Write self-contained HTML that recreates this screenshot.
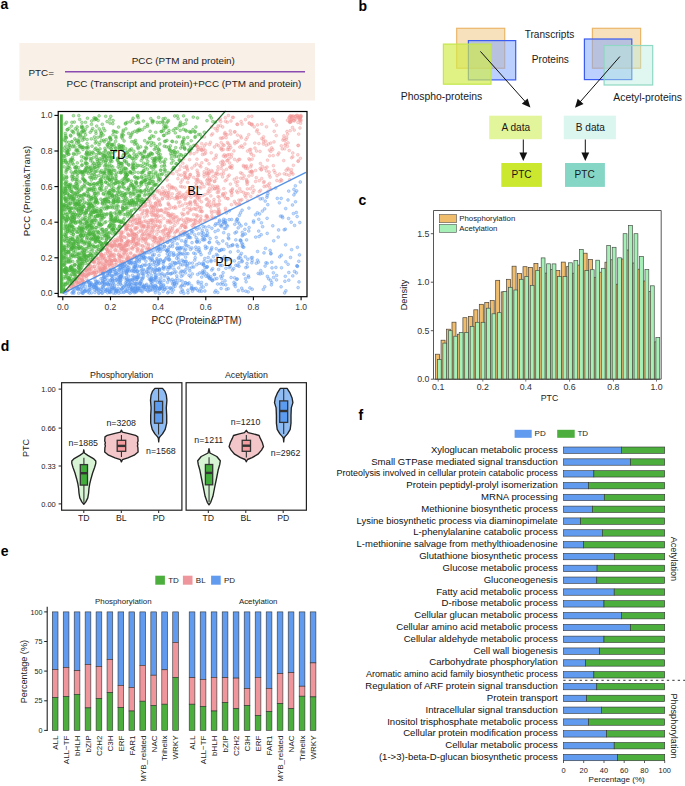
<!DOCTYPE html>
<html><head><meta charset="utf-8"><title>Figure</title><style>
html,body{margin:0;padding:0;background:#fff;width:685px;height:786px;overflow:hidden}
svg{display:block}
text{font-family:"Liberation Sans", sans-serif}
circle{r:1.4px}
</style></head><body>
<svg width="685" height="786" viewBox="0 0 685 786">
<rect width="685" height="786" fill="#fff"/>
<text x="0.5" y="9" font-size="14" text-anchor="start" fill="#000" font-weight="bold">a</text>
<text x="358.5" y="10.5" font-size="14" text-anchor="start" fill="#000" font-weight="bold">b</text>
<text x="358.5" y="204.5" font-size="14" text-anchor="start" fill="#000" font-weight="bold">c</text>
<text x="0.8" y="350.8" font-size="14" text-anchor="start" fill="#000" font-weight="bold">d</text>
<text x="0.8" y="555.5" font-size="14" text-anchor="start" fill="#000" font-weight="bold">e</text>
<text x="358.5" y="419.7" font-size="14" text-anchor="start" fill="#000" font-weight="bold">f</text>
<rect x="19.4" y="43" width="295.6" height="57.5" fill="#f9f0e8"/>
<text x="28.5" y="75.7" font-size="9.9" text-anchor="start" fill="#1a1a1a">PTC=</text>
<text x="183.3" y="63.9" font-size="9.9" text-anchor="middle" fill="#1a1a1a">PCC (PTM and protein)</text>
<line x1="65" y1="71.7" x2="305" y2="71.7" stroke="#8a4bb0" stroke-width="1.6"/>
<text x="184" y="87" font-size="9.9" text-anchor="middle" fill="#1a1a1a">PCC (Transcript and protein)+PCC (PTM and protein)</text>
<g fill="#f29a9a" fill-opacity="0.36" stroke="#f09090" stroke-opacity="0.6" stroke-width="0.6"><circle cx="88.2" cy="268.3" r="1.4"/><circle cx="204.2" cy="145.9" r="1.4"/><circle cx="143.2" cy="239.0" r="1.4"/><circle cx="200.8" cy="222.7" r="1.4"/><circle cx="172.7" cy="226.9" r="1.4"/><circle cx="120.4" cy="255.9" r="1.4"/><circle cx="128.1" cy="241.6" r="1.4"/><circle cx="108.4" cy="250.0" r="1.4"/><circle cx="214.4" cy="181.4" r="1.4"/><circle cx="155.2" cy="225.9" r="1.4"/><circle cx="173.3" cy="188.4" r="1.4"/><circle cx="131.3" cy="235.4" r="1.4"/><circle cx="231.0" cy="167.0" r="1.4"/><circle cx="149.3" cy="248.3" r="1.4"/><circle cx="230.1" cy="167.5" r="1.4"/><circle cx="217.1" cy="130.9" r="1.4"/><circle cx="86.4" cy="270.0" r="1.4"/><circle cx="117.0" cy="240.0" r="1.4"/><circle cx="149.2" cy="233.7" r="1.4"/><circle cx="185.1" cy="199.6" r="1.4"/><circle cx="232.1" cy="190.1" r="1.4"/><circle cx="109.7" cy="259.9" r="1.4"/><circle cx="100.0" cy="268.2" r="1.4"/><circle cx="145.7" cy="221.0" r="1.4"/><circle cx="100.9" cy="269.8" r="1.4"/><circle cx="234.4" cy="201.4" r="1.4"/><circle cx="86.1" cy="276.2" r="1.4"/><circle cx="221.5" cy="147.9" r="1.4"/><circle cx="126.6" cy="249.7" r="1.4"/><circle cx="184.1" cy="167.3" r="1.4"/><circle cx="286.4" cy="174.4" r="1.4"/><circle cx="160.4" cy="210.3" r="1.4"/><circle cx="109.4" cy="252.3" r="1.4"/><circle cx="98.7" cy="267.8" r="1.4"/><circle cx="217.3" cy="192.4" r="1.4"/><circle cx="229.9" cy="145.3" r="1.4"/><circle cx="234.8" cy="141.8" r="1.4"/><circle cx="298.4" cy="145.4" r="1.4"/><circle cx="128.4" cy="234.5" r="1.4"/><circle cx="103.9" cy="268.4" r="1.4"/><circle cx="189.9" cy="176.2" r="1.4"/><circle cx="218.9" cy="215.2" r="1.4"/><circle cx="141.1" cy="226.4" r="1.4"/><circle cx="206.9" cy="180.5" r="1.4"/><circle cx="104.1" cy="264.8" r="1.4"/><circle cx="194.7" cy="202.0" r="1.4"/><circle cx="255.6" cy="181.5" r="1.4"/><circle cx="293.0" cy="174.1" r="1.4"/><circle cx="216.8" cy="172.9" r="1.4"/><circle cx="169.8" cy="220.4" r="1.4"/><circle cx="89.5" cy="270.6" r="1.4"/><circle cx="111.1" cy="240.9" r="1.4"/><circle cx="222.5" cy="195.4" r="1.4"/><circle cx="261.7" cy="178.6" r="1.4"/><circle cx="274.2" cy="131.3" r="1.4"/><circle cx="136.0" cy="243.7" r="1.4"/><circle cx="158.5" cy="243.2" r="1.4"/><circle cx="252.1" cy="124.2" r="1.4"/><circle cx="229.6" cy="163.0" r="1.4"/><circle cx="147.7" cy="248.6" r="1.4"/><circle cx="76.3" cy="281.0" r="1.4"/><circle cx="298.0" cy="116.6" r="1.4"/><circle cx="124.0" cy="252.9" r="1.4"/><circle cx="116.3" cy="260.7" r="1.4"/><circle cx="191.2" cy="191.0" r="1.4"/><circle cx="249.8" cy="159.9" r="1.4"/><circle cx="119.5" cy="261.8" r="1.4"/><circle cx="101.7" cy="263.3" r="1.4"/><circle cx="126.9" cy="259.7" r="1.4"/><circle cx="90.4" cy="266.8" r="1.4"/><circle cx="136.8" cy="228.1" r="1.4"/><circle cx="97.9" cy="258.1" r="1.4"/><circle cx="90.2" cy="273.7" r="1.4"/><circle cx="71.1" cy="286.4" r="1.4"/><circle cx="120.9" cy="249.8" r="1.4"/><circle cx="99.4" cy="261.9" r="1.4"/><circle cx="276.9" cy="180.5" r="1.4"/><circle cx="197.1" cy="195.1" r="1.4"/><circle cx="186.0" cy="218.9" r="1.4"/><circle cx="189.4" cy="202.9" r="1.4"/><circle cx="223.0" cy="144.8" r="1.4"/><circle cx="173.9" cy="214.8" r="1.4"/><circle cx="260.6" cy="190.3" r="1.4"/><circle cx="218.2" cy="207.7" r="1.4"/><circle cx="270.1" cy="177.1" r="1.4"/><circle cx="263.8" cy="142.0" r="1.4"/><circle cx="133.7" cy="256.4" r="1.4"/><circle cx="78.8" cy="281.8" r="1.4"/><circle cx="188.6" cy="221.3" r="1.4"/><circle cx="201.6" cy="211.7" r="1.4"/><circle cx="195.0" cy="187.3" r="1.4"/><circle cx="147.3" cy="226.6" r="1.4"/><circle cx="223.3" cy="137.5" r="1.4"/><circle cx="267.0" cy="167.1" r="1.4"/><circle cx="193.6" cy="214.7" r="1.4"/><circle cx="168.9" cy="221.6" r="1.4"/><circle cx="153.4" cy="212.8" r="1.4"/><circle cx="153.9" cy="206.3" r="1.4"/><circle cx="86.8" cy="269.9" r="1.4"/><circle cx="263.3" cy="139.4" r="1.4"/><circle cx="176.0" cy="221.1" r="1.4"/><circle cx="210.5" cy="142.3" r="1.4"/><circle cx="268.5" cy="144.0" r="1.4"/><circle cx="171.3" cy="187.2" r="1.4"/><circle cx="185.0" cy="222.0" r="1.4"/><circle cx="159.3" cy="226.6" r="1.4"/><circle cx="266.3" cy="145.2" r="1.4"/><circle cx="157.1" cy="201.9" r="1.4"/><circle cx="257.3" cy="129.9" r="1.4"/><circle cx="160.8" cy="231.7" r="1.4"/><circle cx="156.8" cy="234.4" r="1.4"/><circle cx="94.3" cy="272.9" r="1.4"/><circle cx="299.6" cy="119.3" r="1.4"/><circle cx="146.5" cy="214.1" r="1.4"/><circle cx="227.5" cy="142.5" r="1.4"/><circle cx="159.3" cy="190.6" r="1.4"/><circle cx="169.7" cy="235.9" r="1.4"/><circle cx="172.0" cy="197.5" r="1.4"/><circle cx="149.7" cy="235.1" r="1.4"/><circle cx="289.8" cy="122.4" r="1.4"/><circle cx="226.1" cy="137.7" r="1.4"/><circle cx="103.0" cy="257.9" r="1.4"/><circle cx="151.5" cy="219.7" r="1.4"/><circle cx="158.2" cy="245.6" r="1.4"/><circle cx="247.7" cy="168.6" r="1.4"/><circle cx="102.7" cy="272.8" r="1.4"/><circle cx="94.2" cy="276.7" r="1.4"/><circle cx="167.8" cy="215.3" r="1.4"/><circle cx="209.2" cy="184.6" r="1.4"/><circle cx="154.7" cy="241.1" r="1.4"/><circle cx="244.9" cy="144.0" r="1.4"/><circle cx="181.8" cy="225.5" r="1.4"/><circle cx="257.9" cy="196.1" r="1.4"/><circle cx="241.8" cy="199.6" r="1.4"/><circle cx="116.4" cy="262.3" r="1.4"/><circle cx="160.6" cy="223.1" r="1.4"/><circle cx="89.2" cy="269.9" r="1.4"/><circle cx="162.5" cy="241.8" r="1.4"/><circle cx="245.6" cy="168.2" r="1.4"/><circle cx="155.3" cy="210.1" r="1.4"/><circle cx="299.7" cy="117.2" r="1.4"/><circle cx="104.2" cy="259.1" r="1.4"/><circle cx="145.3" cy="239.4" r="1.4"/><circle cx="109.3" cy="261.2" r="1.4"/><circle cx="209.4" cy="206.1" r="1.4"/><circle cx="112.6" cy="260.9" r="1.4"/><circle cx="112.5" cy="265.6" r="1.4"/><circle cx="225.8" cy="155.8" r="1.4"/><circle cx="82.5" cy="275.3" r="1.4"/><circle cx="155.2" cy="237.7" r="1.4"/><circle cx="159.6" cy="241.9" r="1.4"/><circle cx="94.8" cy="273.5" r="1.4"/><circle cx="86.4" cy="275.9" r="1.4"/><circle cx="148.2" cy="222.7" r="1.4"/><circle cx="206.3" cy="168.7" r="1.4"/><circle cx="215.0" cy="188.4" r="1.4"/><circle cx="193.6" cy="177.4" r="1.4"/><circle cx="281.0" cy="179.6" r="1.4"/><circle cx="179.9" cy="195.5" r="1.4"/><circle cx="223.3" cy="149.5" r="1.4"/><circle cx="87.0" cy="267.4" r="1.4"/><circle cx="92.4" cy="266.8" r="1.4"/><circle cx="101.9" cy="270.3" r="1.4"/><circle cx="139.8" cy="209.0" r="1.4"/><circle cx="171.0" cy="215.2" r="1.4"/><circle cx="185.3" cy="172.9" r="1.4"/><circle cx="143.3" cy="231.7" r="1.4"/><circle cx="295.7" cy="116.5" r="1.4"/><circle cx="138.9" cy="239.3" r="1.4"/><circle cx="177.4" cy="199.0" r="1.4"/><circle cx="291.7" cy="172.7" r="1.4"/><circle cx="291.2" cy="116.3" r="1.4"/><circle cx="167.5" cy="239.5" r="1.4"/><circle cx="172.8" cy="187.1" r="1.4"/><circle cx="222.0" cy="165.6" r="1.4"/><circle cx="153.0" cy="207.7" r="1.4"/><circle cx="222.6" cy="176.9" r="1.4"/><circle cx="114.0" cy="254.1" r="1.4"/><circle cx="154.3" cy="238.0" r="1.4"/><circle cx="181.9" cy="213.3" r="1.4"/><circle cx="134.0" cy="238.1" r="1.4"/><circle cx="93.7" cy="272.4" r="1.4"/><circle cx="80.8" cy="283.8" r="1.4"/><circle cx="126.4" cy="226.5" r="1.4"/><circle cx="163.2" cy="234.1" r="1.4"/><circle cx="148.7" cy="244.3" r="1.4"/><circle cx="296.6" cy="115.5" r="1.4"/><circle cx="208.2" cy="174.0" r="1.4"/><circle cx="206.2" cy="215.5" r="1.4"/><circle cx="148.7" cy="226.2" r="1.4"/><circle cx="126.2" cy="238.0" r="1.4"/><circle cx="210.9" cy="195.9" r="1.4"/><circle cx="145.4" cy="242.6" r="1.4"/><circle cx="111.2" cy="255.4" r="1.4"/><circle cx="155.8" cy="242.8" r="1.4"/><circle cx="114.9" cy="249.8" r="1.4"/><circle cx="160.4" cy="205.1" r="1.4"/><circle cx="112.0" cy="245.9" r="1.4"/><circle cx="158.9" cy="227.8" r="1.4"/><circle cx="143.5" cy="252.9" r="1.4"/><circle cx="125.0" cy="223.9" r="1.4"/><circle cx="224.4" cy="196.2" r="1.4"/><circle cx="202.1" cy="211.4" r="1.4"/><circle cx="242.0" cy="124.1" r="1.4"/><circle cx="155.2" cy="226.0" r="1.4"/><circle cx="169.2" cy="204.9" r="1.4"/><circle cx="168.5" cy="237.0" r="1.4"/><circle cx="209.0" cy="163.8" r="1.4"/><circle cx="155.4" cy="203.2" r="1.4"/><circle cx="197.1" cy="170.3" r="1.4"/><circle cx="144.1" cy="225.4" r="1.4"/><circle cx="171.8" cy="187.1" r="1.4"/><circle cx="169.2" cy="195.3" r="1.4"/><circle cx="301.0" cy="115.5" r="1.4"/><circle cx="246.6" cy="166.0" r="1.4"/><circle cx="207.1" cy="160.3" r="1.4"/><circle cx="122.3" cy="263.7" r="1.4"/><circle cx="178.6" cy="193.3" r="1.4"/><circle cx="153.7" cy="210.6" r="1.4"/><circle cx="256.5" cy="151.0" r="1.4"/><circle cx="197.2" cy="179.2" r="1.4"/><circle cx="298.2" cy="160.9" r="1.4"/><circle cx="160.3" cy="226.4" r="1.4"/><circle cx="201.5" cy="149.5" r="1.4"/><circle cx="174.9" cy="198.7" r="1.4"/><circle cx="105.5" cy="267.4" r="1.4"/><circle cx="248.9" cy="176.0" r="1.4"/><circle cx="119.9" cy="252.6" r="1.4"/><circle cx="240.6" cy="172.8" r="1.4"/><circle cx="183.8" cy="209.5" r="1.4"/><circle cx="124.0" cy="243.9" r="1.4"/><circle cx="208.3" cy="170.0" r="1.4"/><circle cx="160.0" cy="240.3" r="1.4"/><circle cx="220.5" cy="125.6" r="1.4"/><circle cx="199.8" cy="187.1" r="1.4"/><circle cx="191.9" cy="168.1" r="1.4"/><circle cx="144.9" cy="202.5" r="1.4"/><circle cx="101.0" cy="271.6" r="1.4"/><circle cx="186.6" cy="196.5" r="1.4"/><circle cx="105.4" cy="265.7" r="1.4"/><circle cx="229.2" cy="154.7" r="1.4"/><circle cx="285.0" cy="140.4" r="1.4"/><circle cx="191.0" cy="197.2" r="1.4"/><circle cx="277.9" cy="154.8" r="1.4"/><circle cx="141.3" cy="222.4" r="1.4"/><circle cx="140.2" cy="217.3" r="1.4"/><circle cx="290.9" cy="116.3" r="1.4"/><circle cx="135.5" cy="229.3" r="1.4"/><circle cx="109.7" cy="256.2" r="1.4"/><circle cx="177.6" cy="222.9" r="1.4"/><circle cx="240.9" cy="191.3" r="1.4"/><circle cx="114.4" cy="257.5" r="1.4"/><circle cx="133.6" cy="239.2" r="1.4"/><circle cx="168.0" cy="192.5" r="1.4"/><circle cx="133.7" cy="237.2" r="1.4"/><circle cx="152.6" cy="236.8" r="1.4"/><circle cx="79.7" cy="278.4" r="1.4"/><circle cx="227.3" cy="122.2" r="1.4"/><circle cx="162.5" cy="187.8" r="1.4"/><circle cx="98.7" cy="263.4" r="1.4"/><circle cx="290.0" cy="115.9" r="1.4"/><circle cx="299.8" cy="120.2" r="1.4"/><circle cx="177.7" cy="230.0" r="1.4"/><circle cx="161.5" cy="210.0" r="1.4"/><circle cx="141.2" cy="231.3" r="1.4"/><circle cx="221.2" cy="142.6" r="1.4"/><circle cx="168.0" cy="235.9" r="1.4"/><circle cx="244.1" cy="175.9" r="1.4"/><circle cx="120.0" cy="260.5" r="1.4"/><circle cx="108.4" cy="268.9" r="1.4"/><circle cx="147.0" cy="228.4" r="1.4"/><circle cx="252.8" cy="192.6" r="1.4"/><circle cx="189.1" cy="195.2" r="1.4"/><circle cx="117.8" cy="232.3" r="1.4"/><circle cx="170.5" cy="217.2" r="1.4"/><circle cx="151.8" cy="206.0" r="1.4"/><circle cx="110.8" cy="243.8" r="1.4"/><circle cx="211.8" cy="212.9" r="1.4"/><circle cx="272.7" cy="149.5" r="1.4"/><circle cx="226.8" cy="179.6" r="1.4"/><circle cx="136.1" cy="223.3" r="1.4"/><circle cx="90.0" cy="264.9" r="1.4"/><circle cx="301.1" cy="116.5" r="1.4"/><circle cx="209.5" cy="188.5" r="1.4"/><circle cx="151.8" cy="212.4" r="1.4"/><circle cx="99.6" cy="267.1" r="1.4"/><circle cx="111.9" cy="264.0" r="1.4"/><circle cx="143.0" cy="234.5" r="1.4"/><circle cx="145.3" cy="203.1" r="1.4"/><circle cx="152.3" cy="234.1" r="1.4"/><circle cx="186.7" cy="166.1" r="1.4"/><circle cx="195.0" cy="200.6" r="1.4"/><circle cx="161.4" cy="215.8" r="1.4"/><circle cx="189.6" cy="159.7" r="1.4"/><circle cx="125.8" cy="230.2" r="1.4"/><circle cx="90.2" cy="269.4" r="1.4"/><circle cx="150.0" cy="237.9" r="1.4"/><circle cx="190.1" cy="174.7" r="1.4"/><circle cx="179.5" cy="169.7" r="1.4"/><circle cx="145.9" cy="205.2" r="1.4"/><circle cx="113.2" cy="267.4" r="1.4"/><circle cx="82.5" cy="276.6" r="1.4"/><circle cx="250.6" cy="152.6" r="1.4"/><circle cx="127.4" cy="243.2" r="1.4"/><circle cx="115.5" cy="259.9" r="1.4"/><circle cx="225.5" cy="198.1" r="1.4"/><circle cx="134.5" cy="219.0" r="1.4"/><circle cx="133.0" cy="238.8" r="1.4"/><circle cx="154.2" cy="198.1" r="1.4"/><circle cx="207.8" cy="193.3" r="1.4"/><circle cx="289.2" cy="150.5" r="1.4"/><circle cx="206.8" cy="172.7" r="1.4"/><circle cx="229.1" cy="149.5" r="1.4"/><circle cx="234.4" cy="132.0" r="1.4"/><circle cx="126.7" cy="245.1" r="1.4"/><circle cx="176.8" cy="171.6" r="1.4"/><circle cx="101.9" cy="255.7" r="1.4"/><circle cx="246.9" cy="182.5" r="1.4"/><circle cx="169.4" cy="184.8" r="1.4"/><circle cx="117.9" cy="241.0" r="1.4"/><circle cx="243.1" cy="178.5" r="1.4"/><circle cx="143.8" cy="238.8" r="1.4"/><circle cx="122.3" cy="246.5" r="1.4"/><circle cx="216.1" cy="178.5" r="1.4"/><circle cx="203.7" cy="149.1" r="1.4"/><circle cx="205.3" cy="150.6" r="1.4"/><circle cx="219.0" cy="213.5" r="1.4"/><circle cx="235.0" cy="131.8" r="1.4"/><circle cx="128.7" cy="221.0" r="1.4"/><circle cx="133.6" cy="246.5" r="1.4"/><circle cx="153.5" cy="195.8" r="1.4"/><circle cx="227.6" cy="198.6" r="1.4"/><circle cx="115.1" cy="264.7" r="1.4"/><circle cx="146.9" cy="234.1" r="1.4"/><circle cx="158.7" cy="242.3" r="1.4"/><circle cx="291.0" cy="172.5" r="1.4"/><circle cx="164.2" cy="193.3" r="1.4"/><circle cx="109.5" cy="245.5" r="1.4"/><circle cx="289.4" cy="121.4" r="1.4"/><circle cx="111.5" cy="262.4" r="1.4"/><circle cx="127.4" cy="224.0" r="1.4"/><circle cx="196.1" cy="179.5" r="1.4"/><circle cx="178.5" cy="202.7" r="1.4"/><circle cx="225.2" cy="156.9" r="1.4"/><circle cx="152.7" cy="244.8" r="1.4"/><circle cx="127.6" cy="233.6" r="1.4"/><circle cx="249.2" cy="123.0" r="1.4"/><circle cx="168.4" cy="204.5" r="1.4"/><circle cx="91.4" cy="268.6" r="1.4"/><circle cx="175.0" cy="206.6" r="1.4"/><circle cx="142.8" cy="246.1" r="1.4"/><circle cx="158.0" cy="205.1" r="1.4"/><circle cx="142.7" cy="252.6" r="1.4"/><circle cx="137.3" cy="255.7" r="1.4"/><circle cx="95.5" cy="275.2" r="1.4"/><circle cx="198.1" cy="181.9" r="1.4"/><circle cx="167.1" cy="180.0" r="1.4"/><circle cx="67.7" cy="290.9" r="1.4"/><circle cx="140.0" cy="245.1" r="1.4"/><circle cx="196.9" cy="217.1" r="1.4"/><circle cx="212.3" cy="186.0" r="1.4"/><circle cx="298.1" cy="117.7" r="1.4"/><circle cx="131.7" cy="219.9" r="1.4"/><circle cx="289.7" cy="179.7" r="1.4"/><circle cx="225.4" cy="193.1" r="1.4"/><circle cx="122.5" cy="263.6" r="1.4"/><circle cx="239.9" cy="204.5" r="1.4"/><circle cx="273.2" cy="155.6" r="1.4"/><circle cx="149.8" cy="205.7" r="1.4"/><circle cx="287.9" cy="168.4" r="1.4"/><circle cx="248.1" cy="193.8" r="1.4"/><circle cx="93.4" cy="261.3" r="1.4"/><circle cx="79.4" cy="274.9" r="1.4"/><circle cx="135.2" cy="256.1" r="1.4"/><circle cx="230.4" cy="184.1" r="1.4"/><circle cx="287.5" cy="120.3" r="1.4"/><circle cx="114.8" cy="242.6" r="1.4"/><circle cx="121.8" cy="245.2" r="1.4"/><circle cx="181.4" cy="197.0" r="1.4"/><circle cx="180.9" cy="182.3" r="1.4"/><circle cx="117.4" cy="245.1" r="1.4"/><circle cx="279.5" cy="174.1" r="1.4"/><circle cx="167.8" cy="233.6" r="1.4"/><circle cx="215.1" cy="128.6" r="1.4"/><circle cx="189.8" cy="208.7" r="1.4"/><circle cx="154.3" cy="231.2" r="1.4"/><circle cx="121.9" cy="261.2" r="1.4"/><circle cx="105.3" cy="258.5" r="1.4"/><circle cx="199.3" cy="200.0" r="1.4"/><circle cx="236.8" cy="204.4" r="1.4"/><circle cx="200.7" cy="219.9" r="1.4"/><circle cx="121.8" cy="238.5" r="1.4"/><circle cx="155.6" cy="222.1" r="1.4"/><circle cx="245.9" cy="197.1" r="1.4"/><circle cx="138.1" cy="223.2" r="1.4"/><circle cx="102.6" cy="266.4" r="1.4"/><circle cx="151.6" cy="214.6" r="1.4"/><circle cx="190.4" cy="152.0" r="1.4"/><circle cx="223.5" cy="173.7" r="1.4"/><circle cx="130.3" cy="257.7" r="1.4"/><circle cx="104.7" cy="270.2" r="1.4"/><circle cx="187.1" cy="207.7" r="1.4"/><circle cx="170.3" cy="232.2" r="1.4"/><circle cx="197.7" cy="175.9" r="1.4"/><circle cx="191.3" cy="209.4" r="1.4"/><circle cx="193.8" cy="208.6" r="1.4"/><circle cx="237.7" cy="192.7" r="1.4"/><circle cx="237.6" cy="124.4" r="1.4"/><circle cx="158.0" cy="231.7" r="1.4"/><circle cx="110.1" cy="264.0" r="1.4"/><circle cx="196.3" cy="214.9" r="1.4"/><circle cx="201.2" cy="207.6" r="1.4"/><circle cx="121.5" cy="231.7" r="1.4"/><circle cx="218.8" cy="209.8" r="1.4"/><circle cx="207.4" cy="217.0" r="1.4"/><circle cx="104.4" cy="267.9" r="1.4"/><circle cx="270.8" cy="151.4" r="1.4"/><circle cx="250.5" cy="188.7" r="1.4"/><circle cx="119.8" cy="244.5" r="1.4"/><circle cx="112.0" cy="254.1" r="1.4"/><circle cx="168.3" cy="213.7" r="1.4"/><circle cx="223.2" cy="162.0" r="1.4"/><circle cx="188.8" cy="219.5" r="1.4"/><circle cx="84.7" cy="272.7" r="1.4"/><circle cx="140.7" cy="252.0" r="1.4"/><circle cx="67.9" cy="290.5" r="1.4"/><circle cx="107.6" cy="251.1" r="1.4"/><circle cx="195.1" cy="220.3" r="1.4"/><circle cx="237.5" cy="135.1" r="1.4"/><circle cx="214.6" cy="211.5" r="1.4"/><circle cx="207.1" cy="198.9" r="1.4"/><circle cx="300.9" cy="120.9" r="1.4"/><circle cx="209.2" cy="173.5" r="1.4"/><circle cx="281.3" cy="145.8" r="1.4"/><circle cx="104.0" cy="256.8" r="1.4"/><circle cx="234.9" cy="143.6" r="1.4"/><circle cx="130.8" cy="259.2" r="1.4"/><circle cx="240.7" cy="136.1" r="1.4"/><circle cx="176.8" cy="197.4" r="1.4"/><circle cx="128.7" cy="235.5" r="1.4"/><circle cx="148.4" cy="245.7" r="1.4"/><circle cx="70.6" cy="284.7" r="1.4"/><circle cx="250.7" cy="149.4" r="1.4"/><circle cx="228.0" cy="176.4" r="1.4"/><circle cx="128.4" cy="240.9" r="1.4"/><circle cx="276.2" cy="135.6" r="1.4"/><circle cx="286.4" cy="139.3" r="1.4"/><circle cx="251.8" cy="125.0" r="1.4"/><circle cx="230.5" cy="191.0" r="1.4"/><circle cx="132.4" cy="247.8" r="1.4"/><circle cx="98.1" cy="262.5" r="1.4"/><circle cx="251.3" cy="124.3" r="1.4"/><circle cx="190.2" cy="153.8" r="1.4"/><circle cx="106.9" cy="261.1" r="1.4"/><circle cx="297.8" cy="154.8" r="1.4"/><circle cx="186.5" cy="167.4" r="1.4"/><circle cx="205.7" cy="159.9" r="1.4"/><circle cx="151.7" cy="231.8" r="1.4"/><circle cx="83.0" cy="273.7" r="1.4"/><circle cx="142.8" cy="213.4" r="1.4"/><circle cx="135.3" cy="238.8" r="1.4"/><circle cx="149.6" cy="199.4" r="1.4"/><circle cx="128.4" cy="245.6" r="1.4"/><circle cx="185.1" cy="227.6" r="1.4"/><circle cx="74.1" cy="284.4" r="1.4"/><circle cx="156.6" cy="190.4" r="1.4"/><circle cx="100.4" cy="274.1" r="1.4"/><circle cx="260.1" cy="168.5" r="1.4"/><circle cx="115.2" cy="244.4" r="1.4"/><circle cx="149.0" cy="220.6" r="1.4"/><circle cx="255.6" cy="170.4" r="1.4"/><circle cx="173.2" cy="237.6" r="1.4"/><circle cx="105.2" cy="265.4" r="1.4"/><circle cx="100.4" cy="264.2" r="1.4"/><circle cx="244.9" cy="195.3" r="1.4"/><circle cx="106.0" cy="260.5" r="1.4"/><circle cx="111.4" cy="268.4" r="1.4"/><circle cx="259.2" cy="180.7" r="1.4"/><circle cx="292.2" cy="116.2" r="1.4"/><circle cx="164.8" cy="226.0" r="1.4"/><circle cx="141.6" cy="223.6" r="1.4"/><circle cx="211.3" cy="210.9" r="1.4"/><circle cx="174.1" cy="217.3" r="1.4"/><circle cx="107.7" cy="243.8" r="1.4"/><circle cx="185.0" cy="177.3" r="1.4"/><circle cx="222.7" cy="127.0" r="1.4"/><circle cx="145.7" cy="241.0" r="1.4"/><circle cx="176.7" cy="190.2" r="1.4"/><circle cx="275.0" cy="172.7" r="1.4"/><circle cx="170.8" cy="216.0" r="1.4"/><circle cx="110.2" cy="259.2" r="1.4"/><circle cx="91.7" cy="273.4" r="1.4"/><circle cx="241.5" cy="145.9" r="1.4"/><circle cx="249.9" cy="171.8" r="1.4"/><circle cx="139.5" cy="218.7" r="1.4"/><circle cx="156.2" cy="206.9" r="1.4"/><circle cx="123.1" cy="232.4" r="1.4"/><circle cx="217.8" cy="169.9" r="1.4"/><circle cx="145.9" cy="236.0" r="1.4"/><circle cx="258.9" cy="133.6" r="1.4"/><circle cx="132.8" cy="225.0" r="1.4"/><circle cx="144.0" cy="221.3" r="1.4"/><circle cx="82.0" cy="275.0" r="1.4"/><circle cx="197.2" cy="198.0" r="1.4"/><circle cx="230.8" cy="134.1" r="1.4"/><circle cx="172.2" cy="193.9" r="1.4"/><circle cx="106.6" cy="249.4" r="1.4"/><circle cx="104.0" cy="255.7" r="1.4"/><circle cx="108.4" cy="257.4" r="1.4"/><circle cx="94.2" cy="262.0" r="1.4"/><circle cx="127.6" cy="227.5" r="1.4"/><circle cx="195.3" cy="223.7" r="1.4"/><circle cx="202.8" cy="195.6" r="1.4"/><circle cx="232.0" cy="165.7" r="1.4"/><circle cx="227.6" cy="160.3" r="1.4"/><circle cx="222.9" cy="193.7" r="1.4"/><circle cx="152.5" cy="221.0" r="1.4"/><circle cx="131.4" cy="217.3" r="1.4"/><circle cx="137.3" cy="250.4" r="1.4"/><circle cx="110.0" cy="257.3" r="1.4"/><circle cx="219.2" cy="211.1" r="1.4"/><circle cx="223.4" cy="156.1" r="1.4"/><circle cx="209.2" cy="177.9" r="1.4"/><circle cx="168.5" cy="213.5" r="1.4"/><circle cx="219.1" cy="119.9" r="1.4"/><circle cx="111.6" cy="244.0" r="1.4"/><circle cx="294.1" cy="120.6" r="1.4"/><circle cx="79.7" cy="279.1" r="1.4"/><circle cx="291.7" cy="121.0" r="1.4"/><circle cx="195.4" cy="145.6" r="1.4"/><circle cx="148.6" cy="224.6" r="1.4"/><circle cx="219.0" cy="189.9" r="1.4"/><circle cx="189.5" cy="192.9" r="1.4"/><circle cx="132.9" cy="216.1" r="1.4"/><circle cx="238.9" cy="200.1" r="1.4"/><circle cx="252.1" cy="175.1" r="1.4"/><circle cx="199.1" cy="221.0" r="1.4"/><circle cx="211.4" cy="135.1" r="1.4"/><circle cx="205.6" cy="153.1" r="1.4"/><circle cx="160.9" cy="220.6" r="1.4"/><circle cx="240.8" cy="178.2" r="1.4"/><circle cx="214.0" cy="205.5" r="1.4"/><circle cx="216.7" cy="144.7" r="1.4"/><circle cx="169.3" cy="230.1" r="1.4"/><circle cx="213.3" cy="218.2" r="1.4"/><circle cx="196.2" cy="185.6" r="1.4"/><circle cx="110.2" cy="260.9" r="1.4"/><circle cx="178.6" cy="174.8" r="1.4"/><circle cx="170.7" cy="221.9" r="1.4"/><circle cx="252.1" cy="159.1" r="1.4"/><circle cx="132.4" cy="234.5" r="1.4"/><circle cx="136.8" cy="236.2" r="1.4"/><circle cx="274.0" cy="141.9" r="1.4"/><circle cx="119.7" cy="244.9" r="1.4"/><circle cx="118.5" cy="246.6" r="1.4"/><circle cx="269.4" cy="150.1" r="1.4"/><circle cx="261.4" cy="169.5" r="1.4"/><circle cx="138.6" cy="240.3" r="1.4"/><circle cx="174.9" cy="225.4" r="1.4"/><circle cx="300.0" cy="128.0" r="1.4"/><circle cx="230.7" cy="147.5" r="1.4"/><circle cx="228.0" cy="198.7" r="1.4"/><circle cx="73.5" cy="281.7" r="1.4"/><circle cx="222.5" cy="161.1" r="1.4"/><circle cx="270.7" cy="143.1" r="1.4"/><circle cx="211.1" cy="179.6" r="1.4"/><circle cx="266.1" cy="186.1" r="1.4"/><circle cx="180.7" cy="233.0" r="1.4"/><circle cx="142.9" cy="206.5" r="1.4"/><circle cx="289.1" cy="175.2" r="1.4"/><circle cx="103.0" cy="269.0" r="1.4"/><circle cx="200.8" cy="210.1" r="1.4"/><circle cx="195.6" cy="220.5" r="1.4"/><circle cx="231.7" cy="192.5" r="1.4"/><circle cx="147.3" cy="199.0" r="1.4"/><circle cx="106.2" cy="263.8" r="1.4"/><circle cx="166.6" cy="193.2" r="1.4"/><circle cx="125.5" cy="250.4" r="1.4"/><circle cx="186.1" cy="227.6" r="1.4"/><circle cx="253.6" cy="155.7" r="1.4"/><circle cx="206.0" cy="217.0" r="1.4"/><circle cx="113.7" cy="260.5" r="1.4"/><circle cx="166.4" cy="235.6" r="1.4"/><circle cx="256.3" cy="177.7" r="1.4"/><circle cx="155.9" cy="204.8" r="1.4"/><circle cx="246.5" cy="179.5" r="1.4"/><circle cx="126.8" cy="228.8" r="1.4"/><circle cx="127.7" cy="229.6" r="1.4"/><circle cx="195.1" cy="201.7" r="1.4"/><circle cx="157.1" cy="191.7" r="1.4"/><circle cx="148.4" cy="227.8" r="1.4"/><circle cx="120.1" cy="244.4" r="1.4"/><circle cx="164.7" cy="196.1" r="1.4"/><circle cx="185.5" cy="231.9" r="1.4"/><circle cx="148.9" cy="249.4" r="1.4"/><circle cx="199.7" cy="197.5" r="1.4"/><circle cx="217.8" cy="211.2" r="1.4"/><circle cx="134.3" cy="234.4" r="1.4"/><circle cx="165.4" cy="208.8" r="1.4"/><circle cx="120.2" cy="244.4" r="1.4"/><circle cx="106.8" cy="249.0" r="1.4"/><circle cx="167.8" cy="195.5" r="1.4"/><circle cx="167.1" cy="229.7" r="1.4"/><circle cx="113.6" cy="256.7" r="1.4"/><circle cx="138.7" cy="232.0" r="1.4"/><circle cx="211.3" cy="204.3" r="1.4"/><circle cx="192.1" cy="189.0" r="1.4"/><circle cx="300.9" cy="119.7" r="1.4"/><circle cx="122.9" cy="247.7" r="1.4"/><circle cx="132.4" cy="243.7" r="1.4"/><circle cx="201.7" cy="143.6" r="1.4"/><circle cx="132.6" cy="249.2" r="1.4"/><circle cx="239.6" cy="188.6" r="1.4"/><circle cx="152.4" cy="230.4" r="1.4"/><circle cx="144.3" cy="217.1" r="1.4"/><circle cx="197.6" cy="215.7" r="1.4"/><circle cx="123.5" cy="261.4" r="1.4"/><circle cx="247.7" cy="181.8" r="1.4"/><circle cx="195.5" cy="195.7" r="1.4"/><circle cx="179.9" cy="234.7" r="1.4"/><circle cx="122.9" cy="250.1" r="1.4"/><circle cx="120.7" cy="235.8" r="1.4"/><circle cx="154.2" cy="214.9" r="1.4"/><circle cx="151.0" cy="220.3" r="1.4"/><circle cx="229.8" cy="166.9" r="1.4"/><circle cx="173.8" cy="208.0" r="1.4"/><circle cx="140.1" cy="222.6" r="1.4"/><circle cx="152.6" cy="239.7" r="1.4"/><circle cx="290.2" cy="130.7" r="1.4"/><circle cx="215.3" cy="186.7" r="1.4"/><circle cx="220.7" cy="162.6" r="1.4"/><circle cx="185.0" cy="227.3" r="1.4"/><circle cx="228.4" cy="115.5" r="1.4"/><circle cx="293.3" cy="116.0" r="1.4"/><circle cx="115.1" cy="260.3" r="1.4"/><circle cx="120.3" cy="256.4" r="1.4"/><circle cx="165.4" cy="228.4" r="1.4"/><circle cx="103.1" cy="249.1" r="1.4"/><circle cx="163.7" cy="238.6" r="1.4"/><circle cx="91.8" cy="261.6" r="1.4"/><circle cx="129.1" cy="249.1" r="1.4"/><circle cx="208.9" cy="183.5" r="1.4"/><circle cx="121.9" cy="256.9" r="1.4"/><circle cx="150.8" cy="208.0" r="1.4"/><circle cx="295.0" cy="116.4" r="1.4"/><circle cx="289.3" cy="118.2" r="1.4"/><circle cx="157.7" cy="212.0" r="1.4"/><circle cx="163.0" cy="191.6" r="1.4"/><circle cx="237.4" cy="161.0" r="1.4"/><circle cx="192.2" cy="191.1" r="1.4"/><circle cx="139.5" cy="222.7" r="1.4"/><circle cx="120.6" cy="237.1" r="1.4"/><circle cx="215.7" cy="204.3" r="1.4"/><circle cx="262.3" cy="166.5" r="1.4"/><circle cx="165.0" cy="212.6" r="1.4"/><circle cx="89.1" cy="274.0" r="1.4"/><circle cx="219.4" cy="213.1" r="1.4"/><circle cx="281.7" cy="180.7" r="1.4"/><circle cx="159.4" cy="221.8" r="1.4"/><circle cx="218.0" cy="174.2" r="1.4"/><circle cx="278.9" cy="153.0" r="1.4"/><circle cx="95.5" cy="276.5" r="1.4"/><circle cx="158.8" cy="200.5" r="1.4"/><circle cx="230.2" cy="131.0" r="1.4"/><circle cx="210.6" cy="207.2" r="1.4"/><circle cx="291.5" cy="169.7" r="1.4"/><circle cx="132.7" cy="236.0" r="1.4"/><circle cx="228.3" cy="147.5" r="1.4"/><circle cx="127.7" cy="241.9" r="1.4"/><circle cx="300.4" cy="158.3" r="1.4"/><circle cx="196.5" cy="164.0" r="1.4"/><circle cx="286.6" cy="137.3" r="1.4"/><circle cx="206.2" cy="199.3" r="1.4"/><circle cx="269.1" cy="172.0" r="1.4"/><circle cx="172.5" cy="229.0" r="1.4"/><circle cx="77.8" cy="284.4" r="1.4"/><circle cx="86.5" cy="278.6" r="1.4"/><circle cx="187.6" cy="219.0" r="1.4"/><circle cx="218.5" cy="192.2" r="1.4"/><circle cx="195.5" cy="145.2" r="1.4"/><circle cx="109.1" cy="265.5" r="1.4"/><circle cx="141.5" cy="214.2" r="1.4"/><circle cx="206.9" cy="205.3" r="1.4"/><circle cx="135.0" cy="244.4" r="1.4"/><circle cx="208.6" cy="202.6" r="1.4"/><circle cx="117.3" cy="240.8" r="1.4"/><circle cx="177.0" cy="216.9" r="1.4"/><circle cx="243.4" cy="165.5" r="1.4"/><circle cx="111.8" cy="260.7" r="1.4"/><circle cx="100.4" cy="269.6" r="1.4"/><circle cx="182.4" cy="205.2" r="1.4"/><circle cx="185.8" cy="224.8" r="1.4"/><circle cx="123.9" cy="248.3" r="1.4"/><circle cx="287.6" cy="134.1" r="1.4"/><circle cx="137.0" cy="244.2" r="1.4"/><circle cx="74.2" cy="282.0" r="1.4"/><circle cx="150.0" cy="231.0" r="1.4"/><circle cx="167.7" cy="186.2" r="1.4"/><circle cx="197.5" cy="172.4" r="1.4"/><circle cx="248.8" cy="134.6" r="1.4"/><circle cx="190.4" cy="201.8" r="1.4"/><circle cx="111.9" cy="260.5" r="1.4"/><circle cx="276.4" cy="125.2" r="1.4"/><circle cx="239.0" cy="203.5" r="1.4"/><circle cx="243.8" cy="166.6" r="1.4"/><circle cx="202.5" cy="154.5" r="1.4"/><circle cx="94.6" cy="259.8" r="1.4"/><circle cx="137.6" cy="222.1" r="1.4"/><circle cx="282.2" cy="148.9" r="1.4"/><circle cx="83.8" cy="277.0" r="1.4"/><circle cx="80.7" cy="274.5" r="1.4"/><circle cx="268.2" cy="191.1" r="1.4"/><circle cx="123.8" cy="236.8" r="1.4"/><circle cx="138.0" cy="248.6" r="1.4"/><circle cx="187.7" cy="182.3" r="1.4"/><circle cx="222.6" cy="164.7" r="1.4"/><circle cx="169.6" cy="189.2" r="1.4"/><circle cx="245.5" cy="119.6" r="1.4"/><circle cx="153.2" cy="228.2" r="1.4"/><circle cx="150.1" cy="212.3" r="1.4"/><circle cx="175.2" cy="188.1" r="1.4"/><circle cx="95.1" cy="270.9" r="1.4"/><circle cx="120.7" cy="263.7" r="1.4"/><circle cx="103.6" cy="273.0" r="1.4"/><circle cx="85.8" cy="270.5" r="1.4"/><circle cx="92.7" cy="261.9" r="1.4"/><circle cx="206.6" cy="173.7" r="1.4"/><circle cx="130.9" cy="253.7" r="1.4"/><circle cx="271.6" cy="147.9" r="1.4"/><circle cx="247.2" cy="184.3" r="1.4"/><circle cx="196.7" cy="194.2" r="1.4"/><circle cx="151.7" cy="209.8" r="1.4"/><circle cx="177.3" cy="196.8" r="1.4"/><circle cx="197.1" cy="204.1" r="1.4"/><circle cx="184.3" cy="172.7" r="1.4"/><circle cx="233.9" cy="150.9" r="1.4"/><circle cx="159.2" cy="202.4" r="1.4"/><circle cx="138.6" cy="224.3" r="1.4"/><circle cx="76.5" cy="281.2" r="1.4"/><circle cx="231.0" cy="121.0" r="1.4"/><circle cx="190.1" cy="210.4" r="1.4"/><circle cx="213.0" cy="176.3" r="1.4"/><circle cx="103.3" cy="266.5" r="1.4"/><circle cx="245.9" cy="193.5" r="1.4"/><circle cx="181.7" cy="219.1" r="1.4"/><circle cx="300.4" cy="117.9" r="1.4"/><circle cx="142.4" cy="234.6" r="1.4"/><circle cx="115.0" cy="259.9" r="1.4"/><circle cx="160.9" cy="239.0" r="1.4"/><circle cx="256.7" cy="131.4" r="1.4"/><circle cx="148.7" cy="249.1" r="1.4"/><circle cx="123.5" cy="257.4" r="1.4"/><circle cx="135.1" cy="228.4" r="1.4"/><circle cx="79.9" cy="275.3" r="1.4"/><circle cx="114.3" cy="255.1" r="1.4"/><circle cx="165.1" cy="229.7" r="1.4"/><circle cx="223.6" cy="170.9" r="1.4"/><circle cx="96.6" cy="272.4" r="1.4"/><circle cx="101.0" cy="254.4" r="1.4"/><circle cx="126.0" cy="245.0" r="1.4"/><circle cx="166.6" cy="209.3" r="1.4"/><circle cx="198.0" cy="222.4" r="1.4"/><circle cx="177.0" cy="230.4" r="1.4"/><circle cx="121.3" cy="233.2" r="1.4"/><circle cx="215.7" cy="173.5" r="1.4"/><circle cx="174.7" cy="233.1" r="1.4"/><circle cx="127.8" cy="259.9" r="1.4"/><circle cx="157.6" cy="229.5" r="1.4"/><circle cx="134.1" cy="255.9" r="1.4"/><circle cx="177.1" cy="194.5" r="1.4"/><circle cx="195.5" cy="193.6" r="1.4"/><circle cx="123.5" cy="254.0" r="1.4"/><circle cx="243.4" cy="192.3" r="1.4"/><circle cx="128.5" cy="257.6" r="1.4"/><circle cx="134.6" cy="255.1" r="1.4"/><circle cx="124.5" cy="237.3" r="1.4"/><circle cx="108.5" cy="255.3" r="1.4"/><circle cx="234.6" cy="159.4" r="1.4"/><circle cx="173.1" cy="218.6" r="1.4"/><circle cx="131.4" cy="226.0" r="1.4"/><circle cx="242.0" cy="173.6" r="1.4"/><circle cx="193.2" cy="227.0" r="1.4"/><circle cx="198.0" cy="149.2" r="1.4"/><circle cx="167.5" cy="220.5" r="1.4"/><circle cx="285.7" cy="143.8" r="1.4"/><circle cx="161.1" cy="210.5" r="1.4"/><circle cx="231.8" cy="192.4" r="1.4"/><circle cx="240.7" cy="200.4" r="1.4"/><circle cx="107.7" cy="251.1" r="1.4"/><circle cx="102.3" cy="259.1" r="1.4"/><circle cx="206.8" cy="183.7" r="1.4"/><circle cx="290.8" cy="119.4" r="1.4"/><circle cx="146.0" cy="231.6" r="1.4"/><circle cx="199.7" cy="165.5" r="1.4"/><circle cx="154.6" cy="195.2" r="1.4"/><circle cx="205.8" cy="220.7" r="1.4"/><circle cx="177.7" cy="197.9" r="1.4"/><circle cx="119.3" cy="258.7" r="1.4"/><circle cx="209.3" cy="201.1" r="1.4"/><circle cx="251.7" cy="171.1" r="1.4"/><circle cx="187.3" cy="168.8" r="1.4"/><circle cx="94.3" cy="266.7" r="1.4"/><circle cx="158.2" cy="216.6" r="1.4"/><circle cx="200.9" cy="188.0" r="1.4"/><circle cx="266.5" cy="170.9" r="1.4"/><circle cx="67.2" cy="290.0" r="1.4"/><circle cx="197.9" cy="197.8" r="1.4"/><circle cx="101.5" cy="254.4" r="1.4"/><circle cx="121.8" cy="235.4" r="1.4"/><circle cx="235.8" cy="182.4" r="1.4"/><circle cx="132.3" cy="258.4" r="1.4"/><circle cx="186.6" cy="222.4" r="1.4"/><circle cx="216.1" cy="205.6" r="1.4"/><circle cx="138.3" cy="242.4" r="1.4"/><circle cx="119.8" cy="244.4" r="1.4"/><circle cx="125.5" cy="243.3" r="1.4"/><circle cx="136.7" cy="238.1" r="1.4"/><circle cx="120.9" cy="256.4" r="1.4"/><circle cx="74.1" cy="285.5" r="1.4"/><circle cx="214.4" cy="147.0" r="1.4"/><circle cx="249.6" cy="149.7" r="1.4"/><circle cx="126.5" cy="242.7" r="1.4"/><circle cx="140.9" cy="238.1" r="1.4"/><circle cx="300.6" cy="123.3" r="1.4"/><circle cx="88.6" cy="273.4" r="1.4"/><circle cx="146.6" cy="239.0" r="1.4"/><circle cx="112.3" cy="246.0" r="1.4"/><circle cx="179.8" cy="192.3" r="1.4"/><circle cx="260.4" cy="163.5" r="1.4"/><circle cx="109.1" cy="264.2" r="1.4"/><circle cx="194.0" cy="195.3" r="1.4"/><circle cx="196.1" cy="145.2" r="1.4"/><circle cx="236.8" cy="177.9" r="1.4"/><circle cx="195.4" cy="204.5" r="1.4"/><circle cx="224.5" cy="133.9" r="1.4"/><circle cx="207.6" cy="179.2" r="1.4"/><circle cx="171.8" cy="230.6" r="1.4"/><circle cx="210.2" cy="180.8" r="1.4"/><circle cx="204.4" cy="154.1" r="1.4"/><circle cx="145.3" cy="247.1" r="1.4"/><circle cx="176.4" cy="196.9" r="1.4"/><circle cx="105.9" cy="245.8" r="1.4"/><circle cx="207.5" cy="175.4" r="1.4"/><circle cx="217.4" cy="213.5" r="1.4"/><circle cx="168.7" cy="233.1" r="1.4"/><circle cx="135.0" cy="234.6" r="1.4"/><circle cx="189.6" cy="189.8" r="1.4"/><circle cx="204.2" cy="171.8" r="1.4"/><circle cx="251.8" cy="171.6" r="1.4"/><circle cx="119.8" cy="246.6" r="1.4"/><circle cx="225.5" cy="121.3" r="1.4"/><circle cx="269.6" cy="183.4" r="1.4"/><circle cx="97.0" cy="259.7" r="1.4"/><circle cx="294.7" cy="119.0" r="1.4"/><circle cx="129.0" cy="244.2" r="1.4"/><circle cx="108.0" cy="246.2" r="1.4"/><circle cx="289.2" cy="117.3" r="1.4"/><circle cx="190.3" cy="174.4" r="1.4"/><circle cx="93.7" cy="272.3" r="1.4"/><circle cx="84.1" cy="275.0" r="1.4"/><circle cx="247.2" cy="137.6" r="1.4"/><circle cx="287.0" cy="131.5" r="1.4"/><circle cx="191.2" cy="219.7" r="1.4"/><circle cx="173.7" cy="222.7" r="1.4"/><circle cx="217.5" cy="128.5" r="1.4"/><circle cx="139.8" cy="220.2" r="1.4"/><circle cx="142.9" cy="238.4" r="1.4"/><circle cx="257.5" cy="124.9" r="1.4"/><circle cx="182.8" cy="163.2" r="1.4"/><circle cx="121.7" cy="240.9" r="1.4"/><circle cx="183.6" cy="220.8" r="1.4"/><circle cx="127.0" cy="258.2" r="1.4"/><circle cx="270.9" cy="189.6" r="1.4"/><circle cx="148.5" cy="234.8" r="1.4"/><circle cx="163.9" cy="218.4" r="1.4"/><circle cx="185.0" cy="226.8" r="1.4"/><circle cx="238.1" cy="140.9" r="1.4"/><circle cx="168.3" cy="233.6" r="1.4"/><circle cx="200.8" cy="218.9" r="1.4"/><circle cx="105.2" cy="267.7" r="1.4"/><circle cx="134.2" cy="234.0" r="1.4"/><circle cx="111.9" cy="246.0" r="1.4"/><circle cx="130.3" cy="230.1" r="1.4"/><circle cx="180.5" cy="166.2" r="1.4"/><circle cx="76.9" cy="283.1" r="1.4"/><circle cx="173.4" cy="219.5" r="1.4"/><circle cx="143.6" cy="226.9" r="1.4"/><circle cx="252.5" cy="172.3" r="1.4"/><circle cx="121.0" cy="248.4" r="1.4"/><circle cx="180.0" cy="201.9" r="1.4"/><circle cx="272.6" cy="119.3" r="1.4"/><circle cx="160.0" cy="237.2" r="1.4"/><circle cx="127.7" cy="225.7" r="1.4"/><circle cx="219.5" cy="204.3" r="1.4"/><circle cx="152.9" cy="220.2" r="1.4"/><circle cx="298.0" cy="145.5" r="1.4"/><circle cx="273.9" cy="170.4" r="1.4"/><circle cx="162.4" cy="198.6" r="1.4"/><circle cx="200.8" cy="147.6" r="1.4"/><circle cx="254.0" cy="190.2" r="1.4"/><circle cx="232.6" cy="117.4" r="1.4"/><circle cx="200.6" cy="181.7" r="1.4"/><circle cx="69.1" cy="286.7" r="1.4"/><circle cx="126.1" cy="227.8" r="1.4"/><circle cx="225.0" cy="132.6" r="1.4"/><circle cx="167.1" cy="198.4" r="1.4"/><circle cx="292.5" cy="127.5" r="1.4"/><circle cx="228.9" cy="158.8" r="1.4"/><circle cx="128.9" cy="260.2" r="1.4"/><circle cx="171.3" cy="207.1" r="1.4"/><circle cx="241.3" cy="137.9" r="1.4"/><circle cx="238.8" cy="159.4" r="1.4"/><circle cx="237.0" cy="124.2" r="1.4"/><circle cx="121.4" cy="240.1" r="1.4"/><circle cx="160.1" cy="204.8" r="1.4"/><circle cx="196.0" cy="182.8" r="1.4"/><circle cx="118.6" cy="245.0" r="1.4"/><circle cx="263.4" cy="144.1" r="1.4"/><circle cx="165.3" cy="195.3" r="1.4"/><circle cx="94.2" cy="266.3" r="1.4"/><circle cx="89.3" cy="267.8" r="1.4"/><circle cx="182.1" cy="186.9" r="1.4"/><circle cx="291.4" cy="119.6" r="1.4"/><circle cx="152.1" cy="206.3" r="1.4"/><circle cx="168.9" cy="192.6" r="1.4"/><circle cx="269.7" cy="155.8" r="1.4"/><circle cx="237.7" cy="181.7" r="1.4"/><circle cx="260.0" cy="151.4" r="1.4"/><circle cx="159.9" cy="237.9" r="1.4"/><circle cx="224.3" cy="164.3" r="1.4"/><circle cx="152.9" cy="227.6" r="1.4"/><circle cx="129.1" cy="235.4" r="1.4"/><circle cx="195.1" cy="208.8" r="1.4"/><circle cx="137.7" cy="215.5" r="1.4"/><circle cx="250.9" cy="172.1" r="1.4"/><circle cx="201.4" cy="150.2" r="1.4"/><circle cx="236.9" cy="142.3" r="1.4"/><circle cx="157.9" cy="220.2" r="1.4"/><circle cx="182.0" cy="225.5" r="1.4"/><circle cx="130.6" cy="252.7" r="1.4"/><circle cx="181.2" cy="175.2" r="1.4"/><circle cx="105.6" cy="272.0" r="1.4"/><circle cx="100.9" cy="255.5" r="1.4"/><circle cx="182.8" cy="194.6" r="1.4"/><circle cx="292.8" cy="156.8" r="1.4"/><circle cx="185.1" cy="232.5" r="1.4"/><circle cx="211.6" cy="126.9" r="1.4"/><circle cx="152.2" cy="225.0" r="1.4"/><circle cx="284.2" cy="173.8" r="1.4"/><circle cx="190.4" cy="189.2" r="1.4"/><circle cx="86.1" cy="270.9" r="1.4"/><circle cx="175.8" cy="208.1" r="1.4"/><circle cx="127.6" cy="256.7" r="1.4"/><circle cx="124.4" cy="246.7" r="1.4"/><circle cx="217.0" cy="188.9" r="1.4"/><circle cx="155.4" cy="203.5" r="1.4"/><circle cx="157.6" cy="209.4" r="1.4"/><circle cx="147.3" cy="215.9" r="1.4"/><circle cx="198.5" cy="175.6" r="1.4"/><circle cx="96.6" cy="272.3" r="1.4"/><circle cx="273.9" cy="121.3" r="1.4"/><circle cx="155.3" cy="215.1" r="1.4"/><circle cx="185.3" cy="177.9" r="1.4"/><circle cx="135.2" cy="227.8" r="1.4"/><circle cx="150.5" cy="202.8" r="1.4"/><circle cx="133.6" cy="241.6" r="1.4"/><circle cx="292.8" cy="153.0" r="1.4"/><circle cx="246.7" cy="181.0" r="1.4"/><circle cx="198.7" cy="149.6" r="1.4"/><circle cx="212.3" cy="189.0" r="1.4"/><circle cx="284.6" cy="148.8" r="1.4"/><circle cx="207.0" cy="216.1" r="1.4"/><circle cx="298.1" cy="161.4" r="1.4"/><circle cx="164.6" cy="241.4" r="1.4"/><circle cx="131.9" cy="233.1" r="1.4"/><circle cx="150.3" cy="196.2" r="1.4"/><circle cx="184.0" cy="214.3" r="1.4"/><circle cx="225.2" cy="180.9" r="1.4"/><circle cx="245.9" cy="139.6" r="1.4"/><circle cx="285.1" cy="145.3" r="1.4"/><circle cx="197.1" cy="145.9" r="1.4"/><circle cx="220.3" cy="118.8" r="1.4"/><circle cx="154.1" cy="207.7" r="1.4"/><circle cx="185.9" cy="193.6" r="1.4"/><circle cx="213.7" cy="202.0" r="1.4"/><circle cx="264.1" cy="186.5" r="1.4"/><circle cx="266.5" cy="126.8" r="1.4"/><circle cx="115.0" cy="239.5" r="1.4"/><circle cx="202.3" cy="150.6" r="1.4"/><circle cx="224.0" cy="145.3" r="1.4"/><circle cx="194.0" cy="153.7" r="1.4"/><circle cx="163.4" cy="230.5" r="1.4"/><circle cx="137.9" cy="249.4" r="1.4"/><circle cx="199.0" cy="196.4" r="1.4"/><circle cx="227.6" cy="155.0" r="1.4"/><circle cx="231.6" cy="154.3" r="1.4"/><circle cx="147.2" cy="238.0" r="1.4"/><circle cx="155.6" cy="215.6" r="1.4"/><circle cx="94.3" cy="262.8" r="1.4"/><circle cx="114.2" cy="245.5" r="1.4"/><circle cx="139.7" cy="254.9" r="1.4"/><circle cx="134.2" cy="257.5" r="1.4"/><circle cx="131.8" cy="247.9" r="1.4"/><circle cx="291.9" cy="118.8" r="1.4"/><circle cx="291.6" cy="157.8" r="1.4"/><circle cx="141.7" cy="251.2" r="1.4"/><circle cx="175.6" cy="231.9" r="1.4"/><circle cx="225.6" cy="210.3" r="1.4"/><circle cx="198.0" cy="206.7" r="1.4"/><circle cx="241.1" cy="121.5" r="1.4"/><circle cx="218.4" cy="213.5" r="1.4"/><circle cx="141.6" cy="235.9" r="1.4"/><circle cx="215.4" cy="175.5" r="1.4"/><circle cx="184.7" cy="187.2" r="1.4"/><circle cx="231.6" cy="195.5" r="1.4"/><circle cx="221.1" cy="168.4" r="1.4"/><circle cx="140.6" cy="230.3" r="1.4"/><circle cx="149.9" cy="236.0" r="1.4"/><circle cx="297.9" cy="122.4" r="1.4"/><circle cx="216.2" cy="155.1" r="1.4"/><circle cx="73.1" cy="286.1" r="1.4"/><circle cx="179.6" cy="206.2" r="1.4"/><circle cx="126.6" cy="228.8" r="1.4"/><circle cx="187.6" cy="170.4" r="1.4"/><circle cx="259.3" cy="191.7" r="1.4"/><circle cx="78.7" cy="277.9" r="1.4"/><circle cx="166.9" cy="212.6" r="1.4"/><circle cx="156.4" cy="217.7" r="1.4"/><circle cx="209.4" cy="180.5" r="1.4"/><circle cx="100.7" cy="260.4" r="1.4"/><circle cx="162.8" cy="231.1" r="1.4"/><circle cx="161.2" cy="239.6" r="1.4"/><circle cx="144.4" cy="226.3" r="1.4"/><circle cx="118.5" cy="255.0" r="1.4"/><circle cx="212.3" cy="171.8" r="1.4"/><circle cx="233.3" cy="117.4" r="1.4"/><circle cx="157.0" cy="238.9" r="1.4"/><circle cx="218.6" cy="212.1" r="1.4"/><circle cx="112.3" cy="246.8" r="1.4"/><circle cx="249.5" cy="123.4" r="1.4"/><circle cx="82.5" cy="279.4" r="1.4"/><circle cx="204.9" cy="194.6" r="1.4"/><circle cx="251.8" cy="116.3" r="1.4"/><circle cx="158.2" cy="210.7" r="1.4"/><circle cx="125.7" cy="251.3" r="1.4"/><circle cx="135.7" cy="241.9" r="1.4"/><circle cx="196.4" cy="209.5" r="1.4"/><circle cx="120.0" cy="238.0" r="1.4"/><circle cx="221.2" cy="174.1" r="1.4"/><circle cx="148.4" cy="201.4" r="1.4"/><circle cx="144.5" cy="210.4" r="1.4"/><circle cx="136.3" cy="235.4" r="1.4"/><circle cx="162.3" cy="238.9" r="1.4"/><circle cx="131.1" cy="241.9" r="1.4"/><circle cx="124.1" cy="262.3" r="1.4"/><circle cx="235.3" cy="203.1" r="1.4"/><circle cx="294.2" cy="130.1" r="1.4"/><circle cx="116.4" cy="264.8" r="1.4"/><circle cx="180.3" cy="227.8" r="1.4"/><circle cx="185.6" cy="176.0" r="1.4"/><circle cx="248.4" cy="116.6" r="1.4"/><circle cx="220.9" cy="148.8" r="1.4"/><circle cx="223.8" cy="188.6" r="1.4"/><circle cx="88.3" cy="275.0" r="1.4"/><circle cx="168.1" cy="196.7" r="1.4"/><circle cx="261.8" cy="138.6" r="1.4"/><circle cx="111.5" cy="247.8" r="1.4"/><circle cx="133.3" cy="219.9" r="1.4"/><circle cx="183.1" cy="231.2" r="1.4"/><circle cx="81.7" cy="279.4" r="1.4"/><circle cx="218.6" cy="204.2" r="1.4"/><circle cx="231.9" cy="168.2" r="1.4"/><circle cx="135.1" cy="220.5" r="1.4"/><circle cx="177.9" cy="178.7" r="1.4"/><circle cx="168.2" cy="203.1" r="1.4"/><circle cx="159.5" cy="201.3" r="1.4"/><circle cx="96.6" cy="257.8" r="1.4"/><circle cx="190.7" cy="204.9" r="1.4"/><circle cx="198.0" cy="180.0" r="1.4"/><circle cx="154.4" cy="237.1" r="1.4"/><circle cx="139.6" cy="220.3" r="1.4"/><circle cx="125.7" cy="245.4" r="1.4"/><circle cx="87.9" cy="273.1" r="1.4"/><circle cx="239.8" cy="147.1" r="1.4"/><circle cx="258.9" cy="143.6" r="1.4"/><circle cx="117.2" cy="250.8" r="1.4"/><circle cx="146.8" cy="249.5" r="1.4"/><circle cx="182.3" cy="179.9" r="1.4"/><circle cx="124.4" cy="250.6" r="1.4"/><circle cx="263.7" cy="182.6" r="1.4"/><circle cx="131.1" cy="230.7" r="1.4"/><circle cx="137.2" cy="227.6" r="1.4"/><circle cx="143.3" cy="225.9" r="1.4"/><circle cx="188.4" cy="178.0" r="1.4"/><circle cx="247.5" cy="151.1" r="1.4"/><circle cx="219.4" cy="200.7" r="1.4"/><circle cx="267.5" cy="160.2" r="1.4"/><circle cx="188.0" cy="204.2" r="1.4"/><circle cx="218.0" cy="166.8" r="1.4"/><circle cx="273.4" cy="165.7" r="1.4"/><circle cx="283.7" cy="138.6" r="1.4"/><circle cx="145.1" cy="206.1" r="1.4"/><circle cx="200.9" cy="166.8" r="1.4"/><circle cx="110.8" cy="254.9" r="1.4"/><circle cx="179.9" cy="197.5" r="1.4"/><circle cx="97.3" cy="265.0" r="1.4"/><circle cx="191.0" cy="220.7" r="1.4"/><circle cx="269.2" cy="174.8" r="1.4"/><circle cx="124.7" cy="254.2" r="1.4"/><circle cx="288.4" cy="169.9" r="1.4"/><circle cx="126.6" cy="249.7" r="1.4"/><circle cx="167.8" cy="176.1" r="1.4"/><circle cx="222.0" cy="138.3" r="1.4"/><circle cx="136.3" cy="245.4" r="1.4"/><circle cx="247.4" cy="188.9" r="1.4"/><circle cx="207.3" cy="204.4" r="1.4"/><circle cx="212.6" cy="133.8" r="1.4"/><circle cx="247.7" cy="200.8" r="1.4"/><circle cx="116.2" cy="247.4" r="1.4"/><circle cx="137.2" cy="251.8" r="1.4"/><circle cx="105.3" cy="261.9" r="1.4"/><circle cx="98.8" cy="271.3" r="1.4"/><circle cx="228.3" cy="143.8" r="1.4"/><circle cx="239.8" cy="159.4" r="1.4"/><circle cx="218.0" cy="187.5" r="1.4"/><circle cx="121.1" cy="248.6" r="1.4"/><circle cx="163.6" cy="211.8" r="1.4"/><circle cx="297.5" cy="115.5" r="1.4"/><circle cx="100.3" cy="252.4" r="1.4"/><circle cx="123.6" cy="246.3" r="1.4"/><circle cx="292.6" cy="117.2" r="1.4"/><circle cx="147.1" cy="211.0" r="1.4"/><circle cx="87.3" cy="275.0" r="1.4"/><circle cx="111.4" cy="263.6" r="1.4"/><circle cx="177.4" cy="231.4" r="1.4"/><circle cx="161.6" cy="193.4" r="1.4"/><circle cx="156.9" cy="214.4" r="1.4"/><circle cx="135.0" cy="234.4" r="1.4"/><circle cx="142.1" cy="249.2" r="1.4"/><circle cx="157.0" cy="225.4" r="1.4"/><circle cx="142.0" cy="207.0" r="1.4"/><circle cx="190.8" cy="202.9" r="1.4"/><circle cx="123.5" cy="249.5" r="1.4"/><circle cx="282.9" cy="140.1" r="1.4"/><circle cx="82.1" cy="280.4" r="1.4"/><circle cx="118.1" cy="254.7" r="1.4"/><circle cx="204.0" cy="174.4" r="1.4"/><circle cx="106.1" cy="261.1" r="1.4"/><circle cx="187.8" cy="213.4" r="1.4"/><circle cx="98.8" cy="258.9" r="1.4"/><circle cx="204.2" cy="176.6" r="1.4"/><circle cx="277.0" cy="175.7" r="1.4"/><circle cx="77.1" cy="282.5" r="1.4"/><circle cx="173.1" cy="173.7" r="1.4"/><circle cx="298.7" cy="117.8" r="1.4"/><circle cx="138.3" cy="243.9" r="1.4"/><circle cx="204.4" cy="136.9" r="1.4"/><circle cx="142.9" cy="228.2" r="1.4"/><circle cx="100.9" cy="256.2" r="1.4"/><circle cx="199.9" cy="211.2" r="1.4"/><circle cx="77.2" cy="277.4" r="1.4"/><circle cx="232.4" cy="188.9" r="1.4"/><circle cx="110.5" cy="252.8" r="1.4"/><circle cx="130.5" cy="221.6" r="1.4"/><circle cx="146.6" cy="243.6" r="1.4"/><circle cx="101.2" cy="256.8" r="1.4"/><circle cx="139.7" cy="254.7" r="1.4"/><circle cx="106.6" cy="249.2" r="1.4"/><circle cx="142.5" cy="245.7" r="1.4"/><circle cx="211.2" cy="152.8" r="1.4"/><circle cx="110.9" cy="250.9" r="1.4"/><circle cx="198.4" cy="173.6" r="1.4"/><circle cx="214.8" cy="188.9" r="1.4"/><circle cx="187.3" cy="191.8" r="1.4"/><circle cx="92.1" cy="273.3" r="1.4"/><circle cx="217.6" cy="186.3" r="1.4"/><circle cx="208.1" cy="218.4" r="1.4"/><circle cx="127.6" cy="255.0" r="1.4"/><circle cx="71.2" cy="288.3" r="1.4"/><circle cx="264.1" cy="181.6" r="1.4"/><circle cx="132.0" cy="232.6" r="1.4"/><circle cx="102.5" cy="272.0" r="1.4"/><circle cx="128.4" cy="258.4" r="1.4"/><circle cx="121.9" cy="248.7" r="1.4"/><circle cx="109.1" cy="265.5" r="1.4"/><circle cx="183.1" cy="224.6" r="1.4"/><circle cx="261.7" cy="124.2" r="1.4"/><circle cx="194.0" cy="219.9" r="1.4"/><circle cx="102.4" cy="269.9" r="1.4"/><circle cx="175.8" cy="217.1" r="1.4"/><circle cx="197.9" cy="147.2" r="1.4"/><circle cx="115.3" cy="250.4" r="1.4"/><circle cx="105.5" cy="253.7" r="1.4"/><circle cx="114.5" cy="244.3" r="1.4"/><circle cx="254.8" cy="143.1" r="1.4"/><circle cx="159.8" cy="193.0" r="1.4"/><circle cx="225.3" cy="117.7" r="1.4"/><circle cx="194.5" cy="165.8" r="1.4"/><circle cx="288.1" cy="142.9" r="1.4"/><circle cx="290.7" cy="122.0" r="1.4"/><circle cx="132.9" cy="238.6" r="1.4"/><circle cx="101.7" cy="254.8" r="1.4"/><circle cx="219.1" cy="197.2" r="1.4"/><circle cx="226.9" cy="160.8" r="1.4"/><circle cx="132.5" cy="222.2" r="1.4"/><circle cx="112.0" cy="256.0" r="1.4"/><circle cx="204.0" cy="186.7" r="1.4"/><circle cx="149.4" cy="249.3" r="1.4"/><circle cx="82.9" cy="281.0" r="1.4"/><circle cx="286.1" cy="170.2" r="1.4"/><circle cx="98.7" cy="270.2" r="1.4"/><circle cx="153.1" cy="223.2" r="1.4"/><circle cx="218.1" cy="126.0" r="1.4"/><circle cx="126.8" cy="252.5" r="1.4"/><circle cx="215.9" cy="157.5" r="1.4"/><circle cx="128.9" cy="225.5" r="1.4"/><circle cx="231.3" cy="157.0" r="1.4"/><circle cx="214.7" cy="181.3" r="1.4"/><circle cx="269.6" cy="187.3" r="1.4"/><circle cx="161.5" cy="194.8" r="1.4"/><circle cx="200.9" cy="216.2" r="1.4"/><circle cx="147.1" cy="209.9" r="1.4"/><circle cx="201.8" cy="162.8" r="1.4"/><circle cx="136.7" cy="243.7" r="1.4"/><circle cx="79.0" cy="282.7" r="1.4"/><circle cx="147.0" cy="213.0" r="1.4"/><circle cx="164.3" cy="192.9" r="1.4"/><circle cx="224.4" cy="154.8" r="1.4"/><circle cx="146.8" cy="230.5" r="1.4"/><circle cx="196.9" cy="151.9" r="1.4"/><circle cx="89.3" cy="264.0" r="1.4"/><circle cx="213.8" cy="159.1" r="1.4"/><circle cx="92.3" cy="271.8" r="1.4"/><circle cx="152.8" cy="247.5" r="1.4"/><circle cx="184.3" cy="175.0" r="1.4"/><circle cx="95.4" cy="268.8" r="1.4"/><circle cx="155.1" cy="219.3" r="1.4"/><circle cx="136.9" cy="233.6" r="1.4"/><circle cx="209.5" cy="144.4" r="1.4"/><circle cx="170.2" cy="227.9" r="1.4"/><circle cx="179.1" cy="219.3" r="1.4"/><circle cx="102.9" cy="262.9" r="1.4"/><circle cx="101.9" cy="254.6" r="1.4"/><circle cx="250.8" cy="196.4" r="1.4"/><circle cx="132.9" cy="241.1" r="1.4"/><circle cx="82.2" cy="272.7" r="1.4"/><circle cx="121.4" cy="232.5" r="1.4"/><circle cx="169.7" cy="231.4" r="1.4"/><circle cx="300.6" cy="117.0" r="1.4"/><circle cx="265.0" cy="168.2" r="1.4"/><circle cx="209.2" cy="172.0" r="1.4"/><circle cx="211.8" cy="218.7" r="1.4"/><circle cx="187.9" cy="212.3" r="1.4"/><circle cx="114.8" cy="241.8" r="1.4"/><circle cx="118.0" cy="238.0" r="1.4"/><circle cx="295.6" cy="119.3" r="1.4"/><circle cx="170.3" cy="223.0" r="1.4"/><circle cx="206.0" cy="143.9" r="1.4"/><circle cx="226.5" cy="169.3" r="1.4"/><circle cx="109.9" cy="244.3" r="1.4"/><circle cx="263.5" cy="136.8" r="1.4"/><circle cx="174.9" cy="236.8" r="1.4"/><circle cx="73.0" cy="286.5" r="1.4"/><circle cx="81.3" cy="282.4" r="1.4"/><circle cx="142.1" cy="250.5" r="1.4"/><circle cx="144.2" cy="233.9" r="1.4"/><circle cx="105.4" cy="268.9" r="1.4"/><circle cx="184.4" cy="198.4" r="1.4"/><circle cx="142.2" cy="241.1" r="1.4"/><circle cx="80.1" cy="283.2" r="1.4"/><circle cx="133.3" cy="240.5" r="1.4"/><circle cx="147.1" cy="211.2" r="1.4"/><circle cx="102.1" cy="268.4" r="1.4"/><circle cx="107.4" cy="252.9" r="1.4"/><circle cx="187.8" cy="178.4" r="1.4"/><circle cx="77.0" cy="286.2" r="1.4"/><circle cx="178.6" cy="220.2" r="1.4"/><circle cx="199.5" cy="207.3" r="1.4"/><circle cx="294.1" cy="120.8" r="1.4"/><circle cx="85.2" cy="274.9" r="1.4"/><circle cx="169.1" cy="215.7" r="1.4"/><circle cx="128.5" cy="240.8" r="1.4"/><circle cx="156.7" cy="198.4" r="1.4"/><circle cx="220.4" cy="138.2" r="1.4"/><circle cx="231.4" cy="204.7" r="1.4"/><circle cx="283.7" cy="160.6" r="1.4"/><circle cx="133.1" cy="215.7" r="1.4"/><circle cx="124.1" cy="225.5" r="1.4"/><circle cx="142.9" cy="211.0" r="1.4"/><circle cx="162.2" cy="198.9" r="1.4"/><circle cx="152.7" cy="215.6" r="1.4"/><circle cx="120.7" cy="239.8" r="1.4"/><circle cx="225.4" cy="208.3" r="1.4"/><circle cx="211.6" cy="170.6" r="1.4"/><circle cx="127.3" cy="241.6" r="1.4"/><circle cx="279.9" cy="181.3" r="1.4"/><circle cx="169.1" cy="208.8" r="1.4"/><circle cx="268.1" cy="185.0" r="1.4"/><circle cx="218.6" cy="145.8" r="1.4"/><circle cx="119.1" cy="257.7" r="1.4"/><circle cx="248.9" cy="158.8" r="1.4"/><circle cx="141.7" cy="225.7" r="1.4"/><circle cx="293.4" cy="165.3" r="1.4"/><circle cx="107.5" cy="262.8" r="1.4"/><circle cx="194.2" cy="224.1" r="1.4"/><circle cx="121.5" cy="241.2" r="1.4"/><circle cx="125.9" cy="246.0" r="1.4"/><circle cx="225.7" cy="134.6" r="1.4"/><circle cx="120.5" cy="234.6" r="1.4"/><circle cx="237.1" cy="185.5" r="1.4"/><circle cx="209.9" cy="191.5" r="1.4"/><circle cx="113.6" cy="241.1" r="1.4"/><circle cx="183.7" cy="158.7" r="1.4"/><circle cx="115.1" cy="245.7" r="1.4"/><circle cx="229.2" cy="175.1" r="1.4"/><circle cx="201.5" cy="201.9" r="1.4"/><circle cx="202.3" cy="184.1" r="1.4"/><circle cx="153.8" cy="241.3" r="1.4"/><circle cx="84.5" cy="282.0" r="1.4"/><circle cx="193.9" cy="223.3" r="1.4"/><circle cx="182.7" cy="215.1" r="1.4"/><circle cx="137.5" cy="219.1" r="1.4"/><circle cx="94.0" cy="261.5" r="1.4"/><circle cx="283.9" cy="135.9" r="1.4"/><circle cx="136.1" cy="223.2" r="1.4"/><circle cx="156.8" cy="240.8" r="1.4"/><circle cx="208.1" cy="190.9" r="1.4"/><circle cx="131.3" cy="241.6" r="1.4"/><circle cx="153.9" cy="237.0" r="1.4"/><circle cx="290.2" cy="121.9" r="1.4"/><circle cx="157.3" cy="221.4" r="1.4"/><circle cx="164.4" cy="236.8" r="1.4"/><circle cx="261.3" cy="169.9" r="1.4"/><circle cx="214.0" cy="199.5" r="1.4"/><circle cx="180.5" cy="186.3" r="1.4"/><circle cx="125.9" cy="228.8" r="1.4"/><circle cx="185.5" cy="203.6" r="1.4"/><circle cx="254.2" cy="126.9" r="1.4"/><circle cx="234.3" cy="179.3" r="1.4"/><circle cx="150.7" cy="222.5" r="1.4"/><circle cx="236.7" cy="191.1" r="1.4"/><circle cx="165.1" cy="233.2" r="1.4"/><circle cx="220.8" cy="121.6" r="1.4"/><circle cx="169.4" cy="198.7" r="1.4"/><circle cx="223.3" cy="194.3" r="1.4"/><circle cx="255.0" cy="148.1" r="1.4"/><circle cx="245.7" cy="166.5" r="1.4"/><circle cx="103.7" cy="270.6" r="1.4"/><circle cx="227.6" cy="149.5" r="1.4"/><circle cx="218.0" cy="196.6" r="1.4"/><circle cx="132.6" cy="231.2" r="1.4"/><circle cx="155.1" cy="238.3" r="1.4"/><circle cx="192.1" cy="225.4" r="1.4"/><circle cx="252.8" cy="186.4" r="1.4"/><circle cx="172.0" cy="214.1" r="1.4"/><circle cx="136.1" cy="219.1" r="1.4"/><circle cx="147.0" cy="222.8" r="1.4"/><circle cx="140.0" cy="209.6" r="1.4"/><circle cx="151.1" cy="227.7" r="1.4"/><circle cx="197.0" cy="159.2" r="1.4"/><circle cx="211.9" cy="216.0" r="1.4"/><circle cx="77.1" cy="278.1" r="1.4"/><circle cx="106.8" cy="261.7" r="1.4"/><circle cx="204.3" cy="220.7" r="1.4"/><circle cx="251.3" cy="165.0" r="1.4"/><circle cx="201.5" cy="183.1" r="1.4"/><circle cx="135.9" cy="247.3" r="1.4"/><circle cx="298.7" cy="134.1" r="1.4"/><circle cx="165.3" cy="190.7" r="1.4"/><circle cx="287.4" cy="146.4" r="1.4"/><circle cx="227.1" cy="134.7" r="1.4"/><circle cx="265.7" cy="141.2" r="1.4"/><circle cx="242.8" cy="147.4" r="1.4"/><circle cx="251.3" cy="154.1" r="1.4"/><circle cx="158.6" cy="215.8" r="1.4"/><circle cx="130.8" cy="229.7" r="1.4"/><circle cx="170.6" cy="173.3" r="1.4"/><circle cx="119.9" cy="255.9" r="1.4"/><circle cx="221.9" cy="150.1" r="1.4"/><circle cx="167.4" cy="222.3" r="1.4"/><circle cx="183.1" cy="195.9" r="1.4"/><circle cx="299.8" cy="116.0" r="1.4"/><circle cx="126.6" cy="259.6" r="1.4"/><circle cx="250.8" cy="166.8" r="1.4"/><circle cx="82.9" cy="281.0" r="1.4"/><circle cx="185.4" cy="197.4" r="1.4"/></g>
<g fill="#629ef0" fill-opacity="0.36" stroke="#5896ec" stroke-opacity="0.66" stroke-width="0.6"><circle cx="226.4" cy="289.3" r="1.4"/><circle cx="175.9" cy="271.9" r="1.4"/><circle cx="129.2" cy="288.5" r="1.4"/><circle cx="296.3" cy="212.5" r="1.4"/><circle cx="99.0" cy="292.7" r="1.4"/><circle cx="238.9" cy="257.7" r="1.4"/><circle cx="142.0" cy="270.1" r="1.4"/><circle cx="145.2" cy="257.2" r="1.4"/><circle cx="134.4" cy="292.7" r="1.4"/><circle cx="150.6" cy="279.8" r="1.4"/><circle cx="130.0" cy="280.8" r="1.4"/><circle cx="65.8" cy="293.4" r="1.4"/><circle cx="131.1" cy="289.3" r="1.4"/><circle cx="209.5" cy="242.2" r="1.4"/><circle cx="257.5" cy="260.1" r="1.4"/><circle cx="223.7" cy="232.7" r="1.4"/><circle cx="215.8" cy="223.8" r="1.4"/><circle cx="214.4" cy="274.7" r="1.4"/><circle cx="238.3" cy="290.6" r="1.4"/><circle cx="112.6" cy="284.8" r="1.4"/><circle cx="163.5" cy="261.7" r="1.4"/><circle cx="195.4" cy="227.8" r="1.4"/><circle cx="186.2" cy="253.7" r="1.4"/><circle cx="235.8" cy="239.9" r="1.4"/><circle cx="159.4" cy="249.1" r="1.4"/><circle cx="126.7" cy="274.1" r="1.4"/><circle cx="145.9" cy="289.4" r="1.4"/><circle cx="222.3" cy="282.7" r="1.4"/><circle cx="195.2" cy="257.7" r="1.4"/><circle cx="114.8" cy="274.8" r="1.4"/><circle cx="168.9" cy="256.5" r="1.4"/><circle cx="233.7" cy="268.5" r="1.4"/><circle cx="202.2" cy="230.1" r="1.4"/><circle cx="174.5" cy="272.8" r="1.4"/><circle cx="231.1" cy="277.5" r="1.4"/><circle cx="101.9" cy="293.0" r="1.4"/><circle cx="191.1" cy="288.3" r="1.4"/><circle cx="174.6" cy="262.6" r="1.4"/><circle cx="158.9" cy="280.4" r="1.4"/><circle cx="288.0" cy="200.0" r="1.4"/><circle cx="299.5" cy="254.9" r="1.4"/><circle cx="78.6" cy="288.3" r="1.4"/><circle cx="136.2" cy="284.4" r="1.4"/><circle cx="134.7" cy="266.9" r="1.4"/><circle cx="178.7" cy="267.9" r="1.4"/><circle cx="153.7" cy="269.9" r="1.4"/><circle cx="136.6" cy="262.2" r="1.4"/><circle cx="127.3" cy="289.0" r="1.4"/><circle cx="210.1" cy="238.5" r="1.4"/><circle cx="225.9" cy="268.3" r="1.4"/><circle cx="196.8" cy="229.3" r="1.4"/><circle cx="116.3" cy="291.7" r="1.4"/><circle cx="150.9" cy="280.4" r="1.4"/><circle cx="149.2" cy="252.8" r="1.4"/><circle cx="132.6" cy="279.4" r="1.4"/><circle cx="288.7" cy="191.1" r="1.4"/><circle cx="107.2" cy="283.0" r="1.4"/><circle cx="123.6" cy="287.3" r="1.4"/><circle cx="104.4" cy="282.7" r="1.4"/><circle cx="260.3" cy="198.9" r="1.4"/><circle cx="261.4" cy="222.8" r="1.4"/><circle cx="298.1" cy="287.6" r="1.4"/><circle cx="171.0" cy="265.9" r="1.4"/><circle cx="225.3" cy="220.1" r="1.4"/><circle cx="202.2" cy="239.4" r="1.4"/><circle cx="105.1" cy="279.3" r="1.4"/><circle cx="150.6" cy="290.1" r="1.4"/><circle cx="191.4" cy="285.6" r="1.4"/><circle cx="245.5" cy="278.7" r="1.4"/><circle cx="238.1" cy="251.2" r="1.4"/><circle cx="104.6" cy="279.5" r="1.4"/><circle cx="176.2" cy="238.6" r="1.4"/><circle cx="160.3" cy="260.2" r="1.4"/><circle cx="192.0" cy="242.7" r="1.4"/><circle cx="294.6" cy="225.4" r="1.4"/><circle cx="136.8" cy="281.5" r="1.4"/><circle cx="80.6" cy="289.3" r="1.4"/><circle cx="161.3" cy="274.8" r="1.4"/><circle cx="92.8" cy="287.7" r="1.4"/><circle cx="197.7" cy="239.8" r="1.4"/><circle cx="140.5" cy="281.4" r="1.4"/><circle cx="234.6" cy="277.8" r="1.4"/><circle cx="166.6" cy="267.3" r="1.4"/><circle cx="245.3" cy="256.8" r="1.4"/><circle cx="118.6" cy="272.6" r="1.4"/><circle cx="138.8" cy="288.3" r="1.4"/><circle cx="116.7" cy="290.8" r="1.4"/><circle cx="136.8" cy="283.8" r="1.4"/><circle cx="144.7" cy="265.1" r="1.4"/><circle cx="165.0" cy="289.2" r="1.4"/><circle cx="214.3" cy="274.3" r="1.4"/><circle cx="132.1" cy="289.3" r="1.4"/><circle cx="159.9" cy="289.2" r="1.4"/><circle cx="132.5" cy="288.0" r="1.4"/><circle cx="221.9" cy="249.5" r="1.4"/><circle cx="79.4" cy="286.5" r="1.4"/><circle cx="85.4" cy="286.5" r="1.4"/><circle cx="157.0" cy="270.1" r="1.4"/><circle cx="155.7" cy="277.7" r="1.4"/><circle cx="212.7" cy="268.7" r="1.4"/><circle cx="142.4" cy="284.2" r="1.4"/><circle cx="180.5" cy="254.2" r="1.4"/><circle cx="294.5" cy="271.4" r="1.4"/><circle cx="182.7" cy="271.3" r="1.4"/><circle cx="107.1" cy="290.1" r="1.4"/><circle cx="137.7" cy="289.9" r="1.4"/><circle cx="299.0" cy="281.9" r="1.4"/><circle cx="103.4" cy="273.5" r="1.4"/><circle cx="167.9" cy="269.8" r="1.4"/><circle cx="172.8" cy="243.8" r="1.4"/><circle cx="123.4" cy="292.4" r="1.4"/><circle cx="156.2" cy="269.7" r="1.4"/><circle cx="164.4" cy="260.7" r="1.4"/><circle cx="215.5" cy="217.5" r="1.4"/><circle cx="174.5" cy="284.2" r="1.4"/><circle cx="235.4" cy="283.8" r="1.4"/><circle cx="223.2" cy="284.6" r="1.4"/><circle cx="199.1" cy="263.3" r="1.4"/><circle cx="188.0" cy="283.8" r="1.4"/><circle cx="270.6" cy="280.3" r="1.4"/><circle cx="245.8" cy="291.2" r="1.4"/><circle cx="135.8" cy="286.9" r="1.4"/><circle cx="249.1" cy="227.6" r="1.4"/><circle cx="127.5" cy="269.6" r="1.4"/><circle cx="144.3" cy="270.9" r="1.4"/><circle cx="103.3" cy="287.8" r="1.4"/><circle cx="180.2" cy="273.0" r="1.4"/><circle cx="144.7" cy="285.5" r="1.4"/><circle cx="129.3" cy="262.8" r="1.4"/><circle cx="110.4" cy="271.7" r="1.4"/><circle cx="128.3" cy="286.1" r="1.4"/><circle cx="135.8" cy="276.6" r="1.4"/><circle cx="299.8" cy="222.5" r="1.4"/><circle cx="204.9" cy="239.7" r="1.4"/><circle cx="95.7" cy="281.5" r="1.4"/><circle cx="229.2" cy="267.6" r="1.4"/><circle cx="223.9" cy="249.6" r="1.4"/><circle cx="169.2" cy="259.1" r="1.4"/><circle cx="73.1" cy="289.3" r="1.4"/><circle cx="220.4" cy="265.6" r="1.4"/><circle cx="207.0" cy="247.5" r="1.4"/><circle cx="273.7" cy="240.8" r="1.4"/><circle cx="162.0" cy="273.3" r="1.4"/><circle cx="143.3" cy="256.2" r="1.4"/><circle cx="290.5" cy="257.4" r="1.4"/><circle cx="151.5" cy="279.4" r="1.4"/><circle cx="143.7" cy="287.3" r="1.4"/><circle cx="189.8" cy="270.9" r="1.4"/><circle cx="140.8" cy="270.9" r="1.4"/><circle cx="84.8" cy="291.4" r="1.4"/><circle cx="172.6" cy="262.5" r="1.4"/><circle cx="164.7" cy="289.2" r="1.4"/><circle cx="226.7" cy="243.8" r="1.4"/><circle cx="159.1" cy="248.3" r="1.4"/><circle cx="262.4" cy="198.6" r="1.4"/><circle cx="137.2" cy="289.7" r="1.4"/><circle cx="196.0" cy="288.4" r="1.4"/><circle cx="85.9" cy="291.1" r="1.4"/><circle cx="121.7" cy="269.7" r="1.4"/><circle cx="293.9" cy="194.9" r="1.4"/><circle cx="288.8" cy="272.5" r="1.4"/><circle cx="265.1" cy="266.1" r="1.4"/><circle cx="187.9" cy="253.7" r="1.4"/><circle cx="170.1" cy="288.3" r="1.4"/><circle cx="150.7" cy="272.2" r="1.4"/><circle cx="125.3" cy="283.1" r="1.4"/><circle cx="225.0" cy="280.9" r="1.4"/><circle cx="199.3" cy="249.8" r="1.4"/><circle cx="154.4" cy="254.4" r="1.4"/><circle cx="209.1" cy="242.6" r="1.4"/><circle cx="147.8" cy="268.6" r="1.4"/><circle cx="284.6" cy="292.9" r="1.4"/><circle cx="141.1" cy="266.6" r="1.4"/><circle cx="144.4" cy="253.2" r="1.4"/><circle cx="282.1" cy="216.2" r="1.4"/><circle cx="174.0" cy="283.6" r="1.4"/><circle cx="87.8" cy="281.0" r="1.4"/><circle cx="177.8" cy="250.1" r="1.4"/><circle cx="255.7" cy="237.1" r="1.4"/><circle cx="240.5" cy="212.9" r="1.4"/><circle cx="251.8" cy="262.8" r="1.4"/><circle cx="140.2" cy="287.0" r="1.4"/><circle cx="173.4" cy="286.9" r="1.4"/><circle cx="154.4" cy="261.9" r="1.4"/><circle cx="145.9" cy="261.2" r="1.4"/><circle cx="134.6" cy="291.2" r="1.4"/><circle cx="181.3" cy="276.4" r="1.4"/><circle cx="248.9" cy="208.1" r="1.4"/><circle cx="215.0" cy="225.3" r="1.4"/><circle cx="102.1" cy="282.7" r="1.4"/><circle cx="141.3" cy="266.9" r="1.4"/><circle cx="98.8" cy="293.3" r="1.4"/><circle cx="244.9" cy="229.3" r="1.4"/><circle cx="264.8" cy="286.8" r="1.4"/><circle cx="292.5" cy="205.0" r="1.4"/><circle cx="91.0" cy="284.5" r="1.4"/><circle cx="215.1" cy="231.6" r="1.4"/><circle cx="247.0" cy="263.4" r="1.4"/><circle cx="137.2" cy="279.2" r="1.4"/><circle cx="265.4" cy="248.4" r="1.4"/><circle cx="95.7" cy="286.2" r="1.4"/><circle cx="123.0" cy="272.8" r="1.4"/><circle cx="144.4" cy="287.0" r="1.4"/><circle cx="164.6" cy="275.0" r="1.4"/><circle cx="183.9" cy="261.4" r="1.4"/><circle cx="179.7" cy="280.4" r="1.4"/><circle cx="256.3" cy="263.2" r="1.4"/><circle cx="177.2" cy="243.9" r="1.4"/><circle cx="133.8" cy="262.7" r="1.4"/><circle cx="126.2" cy="280.7" r="1.4"/><circle cx="215.8" cy="290.6" r="1.4"/><circle cx="225.7" cy="228.3" r="1.4"/><circle cx="83.5" cy="283.7" r="1.4"/><circle cx="169.4" cy="255.1" r="1.4"/><circle cx="183.8" cy="293.3" r="1.4"/><circle cx="170.4" cy="246.0" r="1.4"/><circle cx="148.4" cy="291.4" r="1.4"/><circle cx="185.7" cy="249.2" r="1.4"/><circle cx="209.5" cy="253.2" r="1.4"/><circle cx="159.7" cy="269.9" r="1.4"/><circle cx="120.3" cy="284.0" r="1.4"/><circle cx="167.8" cy="242.3" r="1.4"/><circle cx="135.2" cy="269.6" r="1.4"/><circle cx="109.8" cy="288.6" r="1.4"/><circle cx="151.4" cy="278.0" r="1.4"/><circle cx="187.8" cy="235.5" r="1.4"/><circle cx="159.8" cy="288.7" r="1.4"/><circle cx="236.7" cy="279.4" r="1.4"/><circle cx="253.6" cy="220.9" r="1.4"/><circle cx="225.3" cy="222.2" r="1.4"/><circle cx="218.6" cy="269.4" r="1.4"/><circle cx="107.9" cy="271.9" r="1.4"/><circle cx="154.5" cy="271.9" r="1.4"/><circle cx="122.6" cy="266.8" r="1.4"/><circle cx="285.9" cy="290.8" r="1.4"/><circle cx="171.8" cy="241.6" r="1.4"/><circle cx="109.4" cy="274.0" r="1.4"/><circle cx="276.5" cy="279.9" r="1.4"/><circle cx="176.9" cy="248.2" r="1.4"/><circle cx="109.4" cy="282.5" r="1.4"/><circle cx="257.4" cy="212.8" r="1.4"/><circle cx="262.4" cy="211.1" r="1.4"/><circle cx="109.6" cy="273.7" r="1.4"/><circle cx="266.9" cy="197.3" r="1.4"/><circle cx="175.1" cy="286.4" r="1.4"/><circle cx="98.3" cy="289.6" r="1.4"/><circle cx="96.4" cy="286.0" r="1.4"/><circle cx="247.3" cy="266.8" r="1.4"/><circle cx="270.9" cy="253.9" r="1.4"/><circle cx="199.8" cy="272.9" r="1.4"/><circle cx="217.0" cy="241.8" r="1.4"/><circle cx="196.5" cy="241.2" r="1.4"/><circle cx="158.8" cy="263.7" r="1.4"/><circle cx="225.8" cy="284.9" r="1.4"/><circle cx="235.9" cy="265.3" r="1.4"/><circle cx="211.4" cy="249.1" r="1.4"/><circle cx="275.6" cy="188.1" r="1.4"/><circle cx="72.0" cy="293.0" r="1.4"/><circle cx="185.9" cy="241.9" r="1.4"/><circle cx="222.1" cy="265.4" r="1.4"/><circle cx="163.5" cy="267.0" r="1.4"/><circle cx="133.3" cy="283.7" r="1.4"/><circle cx="135.0" cy="291.8" r="1.4"/><circle cx="125.9" cy="291.0" r="1.4"/><circle cx="223.1" cy="221.3" r="1.4"/><circle cx="103.5" cy="277.1" r="1.4"/><circle cx="231.0" cy="245.8" r="1.4"/><circle cx="159.2" cy="269.1" r="1.4"/><circle cx="297.4" cy="266.3" r="1.4"/><circle cx="171.1" cy="273.7" r="1.4"/><circle cx="152.9" cy="256.1" r="1.4"/><circle cx="149.3" cy="279.3" r="1.4"/><circle cx="246.6" cy="239.9" r="1.4"/><circle cx="264.0" cy="252.9" r="1.4"/><circle cx="142.1" cy="255.6" r="1.4"/><circle cx="110.2" cy="284.4" r="1.4"/><circle cx="87.9" cy="292.0" r="1.4"/><circle cx="297.3" cy="266.2" r="1.4"/><circle cx="270.9" cy="253.2" r="1.4"/><circle cx="190.6" cy="237.7" r="1.4"/><circle cx="122.7" cy="266.6" r="1.4"/><circle cx="111.0" cy="289.4" r="1.4"/><circle cx="259.1" cy="236.5" r="1.4"/><circle cx="185.7" cy="282.8" r="1.4"/><circle cx="140.3" cy="283.0" r="1.4"/><circle cx="133.6" cy="268.7" r="1.4"/><circle cx="202.3" cy="273.3" r="1.4"/><circle cx="167.5" cy="282.3" r="1.4"/><circle cx="242.3" cy="232.4" r="1.4"/><circle cx="171.4" cy="289.2" r="1.4"/><circle cx="107.6" cy="280.0" r="1.4"/><circle cx="203.1" cy="272.5" r="1.4"/><circle cx="121.9" cy="285.4" r="1.4"/><circle cx="150.0" cy="266.9" r="1.4"/><circle cx="177.0" cy="255.1" r="1.4"/><circle cx="136.9" cy="259.4" r="1.4"/><circle cx="205.6" cy="248.5" r="1.4"/><circle cx="267.1" cy="218.3" r="1.4"/><circle cx="220.5" cy="225.3" r="1.4"/><circle cx="182.6" cy="264.9" r="1.4"/><circle cx="197.7" cy="290.2" r="1.4"/><circle cx="267.8" cy="204.7" r="1.4"/><circle cx="185.3" cy="264.1" r="1.4"/><circle cx="119.9" cy="265.3" r="1.4"/><circle cx="78.0" cy="289.5" r="1.4"/><circle cx="135.0" cy="271.9" r="1.4"/><circle cx="196.9" cy="242.1" r="1.4"/><circle cx="157.9" cy="290.7" r="1.4"/><circle cx="88.3" cy="281.4" r="1.4"/><circle cx="94.9" cy="292.5" r="1.4"/><circle cx="160.2" cy="251.6" r="1.4"/><circle cx="115.4" cy="290.7" r="1.4"/><circle cx="239.3" cy="215.4" r="1.4"/><circle cx="131.9" cy="288.1" r="1.4"/><circle cx="157.4" cy="270.2" r="1.4"/><circle cx="114.6" cy="287.1" r="1.4"/><circle cx="136.8" cy="257.1" r="1.4"/><circle cx="237.7" cy="265.4" r="1.4"/><circle cx="132.5" cy="275.3" r="1.4"/><circle cx="102.6" cy="273.7" r="1.4"/><circle cx="140.2" cy="288.8" r="1.4"/><circle cx="151.5" cy="268.2" r="1.4"/><circle cx="203.4" cy="240.1" r="1.4"/><circle cx="265.9" cy="262.8" r="1.4"/><circle cx="203.1" cy="226.5" r="1.4"/><circle cx="149.0" cy="287.2" r="1.4"/><circle cx="164.7" cy="246.5" r="1.4"/><circle cx="232.4" cy="270.0" r="1.4"/><circle cx="124.0" cy="266.2" r="1.4"/><circle cx="152.5" cy="254.8" r="1.4"/><circle cx="163.1" cy="291.5" r="1.4"/><circle cx="192.3" cy="273.9" r="1.4"/><circle cx="228.3" cy="237.8" r="1.4"/><circle cx="246.1" cy="281.8" r="1.4"/><circle cx="149.7" cy="257.7" r="1.4"/><circle cx="110.2" cy="292.5" r="1.4"/><circle cx="119.4" cy="278.6" r="1.4"/><circle cx="271.4" cy="284.9" r="1.4"/><circle cx="150.3" cy="264.2" r="1.4"/><circle cx="258.8" cy="219.3" r="1.4"/><circle cx="95.0" cy="284.3" r="1.4"/><circle cx="124.3" cy="277.9" r="1.4"/><circle cx="134.3" cy="271.0" r="1.4"/><circle cx="130.3" cy="283.1" r="1.4"/><circle cx="118.8" cy="275.0" r="1.4"/><circle cx="295.5" cy="201.8" r="1.4"/><circle cx="204.9" cy="291.0" r="1.4"/><circle cx="208.2" cy="257.5" r="1.4"/><circle cx="128.0" cy="280.5" r="1.4"/><circle cx="137.2" cy="271.2" r="1.4"/><circle cx="136.1" cy="279.2" r="1.4"/><circle cx="204.0" cy="274.1" r="1.4"/><circle cx="143.8" cy="273.8" r="1.4"/><circle cx="124.8" cy="286.1" r="1.4"/><circle cx="141.4" cy="281.3" r="1.4"/><circle cx="178.1" cy="262.5" r="1.4"/><circle cx="115.4" cy="273.3" r="1.4"/><circle cx="121.0" cy="277.9" r="1.4"/><circle cx="281.5" cy="267.8" r="1.4"/><circle cx="247.8" cy="259.2" r="1.4"/><circle cx="259.6" cy="214.0" r="1.4"/><circle cx="219.4" cy="250.6" r="1.4"/><circle cx="127.6" cy="279.4" r="1.4"/><circle cx="156.4" cy="287.0" r="1.4"/><circle cx="94.2" cy="289.7" r="1.4"/><circle cx="161.3" cy="288.2" r="1.4"/><circle cx="223.1" cy="272.7" r="1.4"/><circle cx="296.4" cy="272.9" r="1.4"/><circle cx="137.5" cy="277.8" r="1.4"/><circle cx="102.7" cy="281.7" r="1.4"/><circle cx="154.6" cy="262.5" r="1.4"/><circle cx="174.5" cy="240.6" r="1.4"/><circle cx="107.5" cy="283.5" r="1.4"/><circle cx="132.1" cy="263.8" r="1.4"/><circle cx="189.5" cy="263.2" r="1.4"/><circle cx="95.8" cy="287.5" r="1.4"/><circle cx="185.4" cy="245.0" r="1.4"/><circle cx="81.6" cy="292.5" r="1.4"/><circle cx="196.7" cy="264.7" r="1.4"/><circle cx="119.2" cy="277.1" r="1.4"/><circle cx="124.5" cy="292.0" r="1.4"/><circle cx="212.4" cy="280.5" r="1.4"/><circle cx="221.1" cy="288.5" r="1.4"/><circle cx="155.3" cy="292.6" r="1.4"/><circle cx="135.0" cy="285.9" r="1.4"/><circle cx="177.0" cy="278.5" r="1.4"/><circle cx="111.0" cy="291.1" r="1.4"/><circle cx="248.7" cy="277.3" r="1.4"/><circle cx="120.5" cy="278.2" r="1.4"/><circle cx="144.8" cy="257.8" r="1.4"/><circle cx="133.2" cy="280.3" r="1.4"/><circle cx="245.8" cy="267.6" r="1.4"/><circle cx="126.2" cy="277.6" r="1.4"/><circle cx="154.8" cy="272.7" r="1.4"/><circle cx="125.9" cy="289.8" r="1.4"/><circle cx="188.0" cy="292.8" r="1.4"/><circle cx="130.2" cy="285.6" r="1.4"/><circle cx="118.4" cy="288.5" r="1.4"/><circle cx="157.3" cy="251.2" r="1.4"/><circle cx="206.3" cy="284.5" r="1.4"/><circle cx="168.5" cy="291.8" r="1.4"/><circle cx="158.9" cy="274.1" r="1.4"/><circle cx="185.0" cy="242.0" r="1.4"/><circle cx="158.5" cy="247.7" r="1.4"/><circle cx="211.1" cy="261.5" r="1.4"/><circle cx="182.4" cy="253.6" r="1.4"/><circle cx="157.5" cy="282.2" r="1.4"/><circle cx="291.6" cy="249.7" r="1.4"/><circle cx="195.3" cy="253.9" r="1.4"/><circle cx="204.1" cy="261.4" r="1.4"/><circle cx="158.7" cy="249.2" r="1.4"/><circle cx="167.3" cy="287.6" r="1.4"/><circle cx="174.0" cy="281.2" r="1.4"/><circle cx="160.9" cy="278.0" r="1.4"/><circle cx="245.2" cy="234.0" r="1.4"/><circle cx="119.6" cy="270.4" r="1.4"/><circle cx="129.8" cy="280.1" r="1.4"/><circle cx="115.9" cy="270.5" r="1.4"/><circle cx="153.4" cy="264.6" r="1.4"/><circle cx="131.5" cy="292.0" r="1.4"/><circle cx="279.7" cy="256.9" r="1.4"/><circle cx="121.9" cy="275.2" r="1.4"/><circle cx="106.6" cy="289.7" r="1.4"/><circle cx="121.9" cy="288.6" r="1.4"/><circle cx="182.1" cy="289.8" r="1.4"/><circle cx="173.4" cy="289.9" r="1.4"/><circle cx="143.2" cy="258.8" r="1.4"/><circle cx="105.0" cy="291.3" r="1.4"/><circle cx="89.9" cy="289.7" r="1.4"/><circle cx="197.2" cy="241.8" r="1.4"/><circle cx="172.2" cy="279.5" r="1.4"/><circle cx="241.7" cy="288.2" r="1.4"/><circle cx="129.9" cy="262.0" r="1.4"/><circle cx="186.2" cy="239.7" r="1.4"/><circle cx="167.2" cy="242.3" r="1.4"/><circle cx="206.7" cy="273.6" r="1.4"/><circle cx="160.7" cy="284.3" r="1.4"/><circle cx="190.5" cy="249.4" r="1.4"/><circle cx="222.4" cy="258.5" r="1.4"/><circle cx="296.9" cy="265.7" r="1.4"/><circle cx="244.0" cy="274.2" r="1.4"/><circle cx="111.9" cy="276.2" r="1.4"/><circle cx="220.7" cy="276.3" r="1.4"/><circle cx="146.7" cy="284.3" r="1.4"/><circle cx="168.9" cy="247.3" r="1.4"/><circle cx="288.6" cy="218.5" r="1.4"/><circle cx="172.3" cy="273.0" r="1.4"/><circle cx="184.1" cy="271.3" r="1.4"/><circle cx="144.3" cy="258.7" r="1.4"/><circle cx="109.2" cy="291.8" r="1.4"/><circle cx="270.1" cy="250.4" r="1.4"/><circle cx="141.8" cy="290.7" r="1.4"/><circle cx="118.9" cy="265.9" r="1.4"/><circle cx="225.6" cy="222.8" r="1.4"/><circle cx="284.2" cy="229.8" r="1.4"/><circle cx="207.2" cy="266.7" r="1.4"/><circle cx="139.4" cy="284.6" r="1.4"/><circle cx="189.1" cy="282.9" r="1.4"/><circle cx="183.7" cy="254.2" r="1.4"/><circle cx="91.0" cy="282.7" r="1.4"/><circle cx="173.6" cy="265.2" r="1.4"/><circle cx="222.5" cy="275.9" r="1.4"/><circle cx="160.3" cy="245.1" r="1.4"/><circle cx="248.3" cy="275.9" r="1.4"/><circle cx="85.1" cy="290.6" r="1.4"/><circle cx="203.7" cy="264.7" r="1.4"/><circle cx="186.8" cy="245.3" r="1.4"/><circle cx="201.1" cy="254.7" r="1.4"/><circle cx="194.3" cy="289.0" r="1.4"/><circle cx="135.4" cy="288.8" r="1.4"/><circle cx="221.8" cy="278.8" r="1.4"/><circle cx="132.6" cy="290.4" r="1.4"/><circle cx="205.3" cy="246.2" r="1.4"/><circle cx="119.8" cy="282.0" r="1.4"/><circle cx="118.9" cy="280.0" r="1.4"/><circle cx="180.8" cy="292.3" r="1.4"/><circle cx="167.2" cy="273.7" r="1.4"/><circle cx="272.0" cy="267.9" r="1.4"/><circle cx="165.7" cy="249.8" r="1.4"/><circle cx="263.3" cy="289.4" r="1.4"/><circle cx="185.0" cy="234.6" r="1.4"/><circle cx="281.2" cy="198.4" r="1.4"/><circle cx="91.6" cy="292.9" r="1.4"/><circle cx="257.6" cy="251.5" r="1.4"/><circle cx="191.9" cy="288.0" r="1.4"/><circle cx="265.2" cy="201.1" r="1.4"/><circle cx="114.6" cy="269.9" r="1.4"/><circle cx="223.7" cy="219.3" r="1.4"/><circle cx="143.0" cy="278.0" r="1.4"/><circle cx="293.9" cy="189.4" r="1.4"/><circle cx="238.4" cy="258.2" r="1.4"/><circle cx="211.7" cy="270.1" r="1.4"/><circle cx="153.6" cy="287.1" r="1.4"/><circle cx="212.2" cy="280.6" r="1.4"/><circle cx="132.3" cy="270.3" r="1.4"/><circle cx="137.1" cy="271.8" r="1.4"/><circle cx="157.6" cy="288.9" r="1.4"/><circle cx="110.5" cy="269.9" r="1.4"/><circle cx="213.4" cy="256.7" r="1.4"/><circle cx="126.2" cy="266.3" r="1.4"/><circle cx="91.0" cy="283.9" r="1.4"/><circle cx="148.2" cy="269.7" r="1.4"/><circle cx="161.2" cy="286.1" r="1.4"/><circle cx="107.6" cy="292.7" r="1.4"/><circle cx="215.0" cy="260.6" r="1.4"/><circle cx="191.5" cy="230.9" r="1.4"/><circle cx="131.7" cy="262.4" r="1.4"/><circle cx="136.3" cy="292.0" r="1.4"/><circle cx="143.7" cy="286.4" r="1.4"/><circle cx="112.5" cy="281.5" r="1.4"/><circle cx="116.9" cy="273.7" r="1.4"/><circle cx="267.4" cy="276.4" r="1.4"/><circle cx="115.0" cy="288.5" r="1.4"/><circle cx="152.6" cy="260.4" r="1.4"/><circle cx="271.8" cy="282.6" r="1.4"/><circle cx="156.7" cy="248.3" r="1.4"/><circle cx="126.6" cy="286.0" r="1.4"/><circle cx="183.3" cy="261.4" r="1.4"/><circle cx="133.4" cy="277.7" r="1.4"/><circle cx="112.2" cy="276.1" r="1.4"/><circle cx="216.9" cy="278.5" r="1.4"/><circle cx="176.7" cy="258.3" r="1.4"/><circle cx="156.9" cy="258.5" r="1.4"/><circle cx="209.7" cy="278.6" r="1.4"/><circle cx="288.1" cy="264.3" r="1.4"/><circle cx="157.7" cy="264.4" r="1.4"/><circle cx="168.9" cy="279.7" r="1.4"/><circle cx="121.5" cy="276.7" r="1.4"/><circle cx="252.2" cy="289.2" r="1.4"/><circle cx="135.5" cy="264.5" r="1.4"/><circle cx="148.9" cy="264.8" r="1.4"/><circle cx="129.9" cy="283.4" r="1.4"/><circle cx="154.9" cy="280.6" r="1.4"/><circle cx="201.7" cy="277.1" r="1.4"/><circle cx="123.6" cy="270.9" r="1.4"/><circle cx="134.4" cy="283.6" r="1.4"/><circle cx="187.9" cy="290.2" r="1.4"/><circle cx="152.2" cy="286.2" r="1.4"/><circle cx="150.9" cy="260.5" r="1.4"/><circle cx="221.2" cy="250.0" r="1.4"/><circle cx="242.1" cy="260.9" r="1.4"/><circle cx="146.8" cy="272.4" r="1.4"/><circle cx="229.1" cy="219.7" r="1.4"/><circle cx="127.2" cy="281.4" r="1.4"/><circle cx="168.2" cy="273.2" r="1.4"/><circle cx="77.8" cy="288.7" r="1.4"/><circle cx="248.8" cy="231.0" r="1.4"/><circle cx="131.5" cy="289.7" r="1.4"/><circle cx="201.8" cy="263.9" r="1.4"/><circle cx="104.0" cy="277.1" r="1.4"/><circle cx="89.2" cy="282.6" r="1.4"/><circle cx="179.4" cy="247.3" r="1.4"/><circle cx="176.7" cy="283.9" r="1.4"/><circle cx="171.2" cy="252.6" r="1.4"/><circle cx="181.6" cy="240.7" r="1.4"/><circle cx="235.4" cy="286.5" r="1.4"/><circle cx="275.9" cy="267.4" r="1.4"/><circle cx="159.3" cy="293.4" r="1.4"/><circle cx="292.8" cy="275.9" r="1.4"/><circle cx="74.8" cy="290.1" r="1.4"/><circle cx="139.6" cy="283.4" r="1.4"/><circle cx="73.8" cy="293.2" r="1.4"/><circle cx="137.5" cy="270.9" r="1.4"/><circle cx="169.1" cy="267.3" r="1.4"/><circle cx="93.7" cy="286.3" r="1.4"/><circle cx="108.7" cy="272.0" r="1.4"/><circle cx="178.6" cy="259.4" r="1.4"/><circle cx="148.6" cy="258.1" r="1.4"/><circle cx="142.0" cy="257.9" r="1.4"/><circle cx="114.5" cy="278.6" r="1.4"/><circle cx="194.8" cy="260.1" r="1.4"/><circle cx="193.5" cy="288.3" r="1.4"/><circle cx="110.8" cy="279.8" r="1.4"/><circle cx="164.3" cy="287.2" r="1.4"/><circle cx="229.4" cy="210.9" r="1.4"/><circle cx="203.3" cy="287.1" r="1.4"/><circle cx="144.9" cy="253.0" r="1.4"/><circle cx="139.5" cy="259.9" r="1.4"/><circle cx="111.5" cy="287.7" r="1.4"/><circle cx="159.0" cy="255.3" r="1.4"/><circle cx="216.2" cy="248.7" r="1.4"/><circle cx="120.3" cy="276.7" r="1.4"/><circle cx="227.7" cy="259.3" r="1.4"/><circle cx="226.4" cy="212.9" r="1.4"/><circle cx="138.1" cy="258.3" r="1.4"/><circle cx="230.2" cy="266.5" r="1.4"/><circle cx="167.0" cy="250.8" r="1.4"/><circle cx="102.2" cy="286.9" r="1.4"/><circle cx="205.2" cy="227.1" r="1.4"/><circle cx="278.6" cy="230.0" r="1.4"/><circle cx="177.0" cy="282.3" r="1.4"/><circle cx="135.4" cy="289.7" r="1.4"/><circle cx="223.8" cy="222.0" r="1.4"/><circle cx="110.4" cy="271.6" r="1.4"/><circle cx="103.0" cy="273.6" r="1.4"/><circle cx="117.9" cy="281.6" r="1.4"/><circle cx="206.8" cy="230.3" r="1.4"/><circle cx="134.7" cy="278.5" r="1.4"/><circle cx="107.6" cy="288.7" r="1.4"/><circle cx="161.2" cy="282.5" r="1.4"/><circle cx="240.4" cy="240.0" r="1.4"/><circle cx="211.8" cy="247.6" r="1.4"/><circle cx="208.0" cy="276.8" r="1.4"/><circle cx="143.4" cy="276.3" r="1.4"/><circle cx="217.6" cy="284.0" r="1.4"/><circle cx="84.3" cy="291.2" r="1.4"/><circle cx="185.6" cy="257.2" r="1.4"/><circle cx="192.0" cy="267.1" r="1.4"/><circle cx="155.4" cy="285.3" r="1.4"/><circle cx="112.9" cy="271.6" r="1.4"/><circle cx="166.7" cy="257.7" r="1.4"/><circle cx="228.6" cy="234.7" r="1.4"/><circle cx="101.8" cy="289.7" r="1.4"/><circle cx="83.1" cy="293.2" r="1.4"/><circle cx="181.2" cy="271.1" r="1.4"/><circle cx="188.8" cy="246.6" r="1.4"/><circle cx="126.6" cy="270.8" r="1.4"/><circle cx="288.8" cy="280.2" r="1.4"/><circle cx="131.1" cy="260.3" r="1.4"/><circle cx="101.1" cy="289.3" r="1.4"/><circle cx="241.4" cy="253.4" r="1.4"/><circle cx="203.2" cy="236.8" r="1.4"/><circle cx="162.6" cy="288.5" r="1.4"/><circle cx="121.5" cy="264.8" r="1.4"/><circle cx="122.3" cy="264.4" r="1.4"/><circle cx="285.7" cy="208.6" r="1.4"/><circle cx="293.4" cy="213.6" r="1.4"/><circle cx="262.6" cy="226.7" r="1.4"/><circle cx="89.3" cy="287.4" r="1.4"/><circle cx="180.5" cy="235.7" r="1.4"/><circle cx="107.4" cy="273.8" r="1.4"/><circle cx="189.2" cy="237.2" r="1.4"/><circle cx="238.0" cy="221.9" r="1.4"/><circle cx="83.6" cy="289.0" r="1.4"/><circle cx="103.0" cy="274.6" r="1.4"/><circle cx="128.6" cy="269.5" r="1.4"/><circle cx="252.3" cy="257.5" r="1.4"/><circle cx="92.6" cy="284.6" r="1.4"/><circle cx="89.7" cy="285.5" r="1.4"/><circle cx="207.7" cy="235.8" r="1.4"/><circle cx="162.8" cy="249.5" r="1.4"/><circle cx="156.0" cy="249.1" r="1.4"/><circle cx="121.8" cy="289.1" r="1.4"/><circle cx="239.0" cy="262.8" r="1.4"/><circle cx="198.6" cy="233.8" r="1.4"/><circle cx="285.4" cy="229.2" r="1.4"/><circle cx="116.7" cy="290.0" r="1.4"/><circle cx="112.8" cy="287.7" r="1.4"/><circle cx="158.8" cy="261.6" r="1.4"/><circle cx="95.6" cy="287.5" r="1.4"/><circle cx="248.2" cy="291.9" r="1.4"/><circle cx="143.6" cy="288.0" r="1.4"/><circle cx="226.7" cy="260.0" r="1.4"/><circle cx="72.8" cy="292.2" r="1.4"/><circle cx="120.6" cy="267.7" r="1.4"/><circle cx="142.7" cy="273.9" r="1.4"/><circle cx="155.2" cy="285.8" r="1.4"/><circle cx="271.8" cy="262.2" r="1.4"/><circle cx="103.9" cy="282.0" r="1.4"/><circle cx="94.3" cy="285.9" r="1.4"/><circle cx="78.7" cy="293.2" r="1.4"/><circle cx="114.3" cy="284.9" r="1.4"/><circle cx="97.1" cy="281.8" r="1.4"/><circle cx="268.6" cy="278.8" r="1.4"/><circle cx="210.8" cy="276.8" r="1.4"/><circle cx="109.2" cy="291.2" r="1.4"/><circle cx="152.2" cy="259.2" r="1.4"/><circle cx="237.6" cy="246.4" r="1.4"/><circle cx="153.1" cy="286.8" r="1.4"/><circle cx="201.5" cy="291.3" r="1.4"/><circle cx="241.8" cy="243.2" r="1.4"/><circle cx="139.6" cy="259.8" r="1.4"/><circle cx="178.1" cy="256.6" r="1.4"/><circle cx="186.3" cy="265.6" r="1.4"/><circle cx="120.5" cy="276.5" r="1.4"/><circle cx="128.8" cy="292.1" r="1.4"/><circle cx="187.6" cy="263.6" r="1.4"/><circle cx="198.5" cy="251.3" r="1.4"/><circle cx="217.8" cy="292.4" r="1.4"/><circle cx="202.8" cy="270.9" r="1.4"/><circle cx="127.0" cy="279.2" r="1.4"/><circle cx="148.7" cy="286.6" r="1.4"/><circle cx="198.2" cy="283.1" r="1.4"/><circle cx="142.8" cy="265.1" r="1.4"/><circle cx="164.5" cy="246.0" r="1.4"/><circle cx="159.2" cy="268.6" r="1.4"/><circle cx="146.5" cy="252.8" r="1.4"/><circle cx="102.8" cy="278.5" r="1.4"/><circle cx="113.3" cy="293.0" r="1.4"/><circle cx="192.4" cy="291.2" r="1.4"/><circle cx="137.7" cy="287.6" r="1.4"/><circle cx="180.0" cy="252.9" r="1.4"/><circle cx="170.4" cy="273.9" r="1.4"/><circle cx="214.8" cy="279.0" r="1.4"/><circle cx="228.4" cy="246.5" r="1.4"/><circle cx="180.7" cy="264.7" r="1.4"/><circle cx="279.4" cy="202.8" r="1.4"/><circle cx="196.2" cy="249.5" r="1.4"/><circle cx="125.5" cy="270.2" r="1.4"/><circle cx="155.2" cy="268.3" r="1.4"/><circle cx="187.1" cy="233.4" r="1.4"/><circle cx="173.6" cy="253.0" r="1.4"/><circle cx="96.1" cy="289.0" r="1.4"/><circle cx="114.5" cy="289.4" r="1.4"/><circle cx="141.8" cy="273.4" r="1.4"/><circle cx="110.7" cy="280.6" r="1.4"/><circle cx="156.9" cy="277.7" r="1.4"/><circle cx="159.7" cy="288.0" r="1.4"/><circle cx="182.1" cy="260.2" r="1.4"/><circle cx="181.0" cy="247.8" r="1.4"/><circle cx="150.2" cy="278.9" r="1.4"/><circle cx="224.6" cy="256.6" r="1.4"/><circle cx="243.0" cy="247.1" r="1.4"/><circle cx="162.8" cy="268.3" r="1.4"/><circle cx="174.0" cy="269.2" r="1.4"/><circle cx="115.3" cy="293.2" r="1.4"/><circle cx="126.2" cy="284.5" r="1.4"/><circle cx="200.0" cy="252.2" r="1.4"/><circle cx="126.3" cy="271.8" r="1.4"/><circle cx="262.3" cy="273.2" r="1.4"/><circle cx="108.3" cy="275.7" r="1.4"/><circle cx="222.0" cy="224.8" r="1.4"/><circle cx="159.3" cy="270.8" r="1.4"/><circle cx="139.9" cy="283.4" r="1.4"/><circle cx="261.2" cy="234.7" r="1.4"/><circle cx="224.3" cy="223.2" r="1.4"/><circle cx="237.0" cy="219.3" r="1.4"/><circle cx="234.8" cy="224.3" r="1.4"/><circle cx="168.8" cy="252.0" r="1.4"/><circle cx="192.4" cy="263.1" r="1.4"/><circle cx="199.2" cy="228.0" r="1.4"/><circle cx="155.2" cy="289.1" r="1.4"/><circle cx="134.6" cy="267.6" r="1.4"/><circle cx="124.8" cy="264.4" r="1.4"/><circle cx="82.5" cy="293.1" r="1.4"/><circle cx="167.3" cy="253.9" r="1.4"/><circle cx="185.5" cy="272.9" r="1.4"/><circle cx="111.9" cy="278.7" r="1.4"/><circle cx="96.9" cy="288.4" r="1.4"/><circle cx="175.4" cy="280.5" r="1.4"/><circle cx="260.1" cy="273.9" r="1.4"/><circle cx="169.1" cy="267.6" r="1.4"/><circle cx="272.8" cy="225.8" r="1.4"/><circle cx="130.0" cy="293.3" r="1.4"/><circle cx="135.4" cy="266.5" r="1.4"/><circle cx="127.2" cy="291.3" r="1.4"/><circle cx="214.8" cy="292.2" r="1.4"/><circle cx="211.9" cy="228.3" r="1.4"/><circle cx="107.1" cy="275.4" r="1.4"/><circle cx="114.1" cy="269.6" r="1.4"/><circle cx="204.4" cy="271.2" r="1.4"/><circle cx="98.0" cy="289.9" r="1.4"/><circle cx="184.3" cy="285.5" r="1.4"/><circle cx="147.9" cy="276.1" r="1.4"/><circle cx="186.0" cy="269.2" r="1.4"/><circle cx="156.8" cy="261.5" r="1.4"/><circle cx="185.9" cy="261.8" r="1.4"/><circle cx="108.0" cy="284.8" r="1.4"/><circle cx="206.6" cy="267.5" r="1.4"/><circle cx="216.2" cy="237.5" r="1.4"/><circle cx="88.4" cy="290.7" r="1.4"/><circle cx="277.3" cy="198.4" r="1.4"/><circle cx="138.7" cy="275.0" r="1.4"/><circle cx="160.8" cy="248.8" r="1.4"/><circle cx="160.4" cy="259.6" r="1.4"/><circle cx="116.4" cy="280.0" r="1.4"/><circle cx="207.1" cy="266.8" r="1.4"/><circle cx="295.4" cy="185.8" r="1.4"/><circle cx="239.3" cy="224.0" r="1.4"/><circle cx="140.0" cy="290.7" r="1.4"/><circle cx="146.1" cy="285.4" r="1.4"/><circle cx="119.8" cy="269.0" r="1.4"/><circle cx="137.4" cy="277.4" r="1.4"/><circle cx="111.7" cy="275.7" r="1.4"/><circle cx="138.2" cy="290.7" r="1.4"/><circle cx="110.6" cy="285.4" r="1.4"/><circle cx="249.9" cy="287.9" r="1.4"/><circle cx="205.8" cy="235.7" r="1.4"/><circle cx="128.0" cy="267.7" r="1.4"/><circle cx="176.8" cy="276.0" r="1.4"/><circle cx="139.8" cy="255.8" r="1.4"/><circle cx="142.4" cy="279.1" r="1.4"/><circle cx="222.8" cy="241.0" r="1.4"/><circle cx="125.2" cy="267.7" r="1.4"/><circle cx="185.2" cy="282.7" r="1.4"/><circle cx="81.9" cy="286.8" r="1.4"/><circle cx="82.9" cy="291.8" r="1.4"/><circle cx="155.1" cy="279.7" r="1.4"/><circle cx="112.2" cy="289.3" r="1.4"/><circle cx="176.0" cy="263.4" r="1.4"/><circle cx="240.3" cy="255.3" r="1.4"/><circle cx="201.2" cy="285.0" r="1.4"/><circle cx="112.5" cy="279.7" r="1.4"/><circle cx="236.5" cy="232.0" r="1.4"/><circle cx="94.9" cy="284.4" r="1.4"/><circle cx="199.4" cy="242.1" r="1.4"/><circle cx="115.0" cy="280.7" r="1.4"/><circle cx="234.4" cy="260.9" r="1.4"/><circle cx="129.5" cy="271.0" r="1.4"/><circle cx="163.2" cy="285.6" r="1.4"/><circle cx="179.4" cy="262.3" r="1.4"/><circle cx="242.1" cy="210.2" r="1.4"/><circle cx="116.1" cy="290.8" r="1.4"/><circle cx="264.7" cy="208.9" r="1.4"/><circle cx="207.6" cy="233.0" r="1.4"/><circle cx="236.9" cy="244.9" r="1.4"/><circle cx="138.1" cy="273.9" r="1.4"/><circle cx="242.2" cy="235.7" r="1.4"/><circle cx="152.2" cy="269.8" r="1.4"/><circle cx="232.6" cy="245.3" r="1.4"/><circle cx="89.8" cy="289.9" r="1.4"/><circle cx="151.1" cy="258.8" r="1.4"/><circle cx="238.2" cy="227.9" r="1.4"/><circle cx="205.9" cy="276.2" r="1.4"/><circle cx="151.2" cy="282.5" r="1.4"/><circle cx="135.9" cy="291.3" r="1.4"/><circle cx="128.1" cy="261.9" r="1.4"/><circle cx="83.7" cy="283.9" r="1.4"/><circle cx="142.1" cy="292.0" r="1.4"/><circle cx="170.4" cy="287.8" r="1.4"/><circle cx="151.0" cy="251.5" r="1.4"/><circle cx="151.0" cy="280.9" r="1.4"/><circle cx="141.9" cy="286.1" r="1.4"/><circle cx="113.1" cy="288.2" r="1.4"/><circle cx="189.4" cy="237.4" r="1.4"/><circle cx="187.9" cy="237.0" r="1.4"/><circle cx="127.9" cy="264.6" r="1.4"/><circle cx="180.3" cy="249.1" r="1.4"/><circle cx="151.4" cy="275.5" r="1.4"/><circle cx="135.1" cy="262.7" r="1.4"/><circle cx="298.8" cy="261.3" r="1.4"/><circle cx="218.1" cy="230.2" r="1.4"/><circle cx="76.5" cy="287.8" r="1.4"/><circle cx="190.6" cy="276.8" r="1.4"/><circle cx="151.6" cy="278.7" r="1.4"/><circle cx="197.6" cy="274.4" r="1.4"/><circle cx="179.5" cy="248.4" r="1.4"/><circle cx="183.0" cy="247.8" r="1.4"/><circle cx="193.7" cy="253.1" r="1.4"/><circle cx="182.4" cy="284.7" r="1.4"/><circle cx="291.2" cy="222.2" r="1.4"/><circle cx="156.0" cy="265.7" r="1.4"/><circle cx="86.4" cy="289.7" r="1.4"/><circle cx="100.9" cy="291.2" r="1.4"/><circle cx="135.7" cy="283.4" r="1.4"/><circle cx="130.6" cy="263.7" r="1.4"/><circle cx="243.0" cy="234.9" r="1.4"/><circle cx="295.3" cy="192.6" r="1.4"/><circle cx="218.8" cy="243.6" r="1.4"/><circle cx="136.8" cy="277.4" r="1.4"/><circle cx="300.3" cy="182.0" r="1.4"/><circle cx="135.6" cy="265.5" r="1.4"/><circle cx="209.8" cy="278.4" r="1.4"/><circle cx="152.8" cy="281.0" r="1.4"/><circle cx="136.3" cy="261.0" r="1.4"/><circle cx="143.3" cy="286.6" r="1.4"/><circle cx="169.6" cy="259.8" r="1.4"/><circle cx="89.4" cy="284.5" r="1.4"/><circle cx="208.9" cy="226.6" r="1.4"/><circle cx="137.3" cy="277.2" r="1.4"/><circle cx="198.1" cy="281.6" r="1.4"/><circle cx="159.8" cy="283.0" r="1.4"/><circle cx="121.2" cy="292.3" r="1.4"/><circle cx="162.6" cy="246.5" r="1.4"/><circle cx="110.7" cy="270.8" r="1.4"/><circle cx="216.4" cy="254.4" r="1.4"/><circle cx="226.6" cy="225.2" r="1.4"/><circle cx="120.4" cy="282.5" r="1.4"/><circle cx="148.8" cy="287.3" r="1.4"/><circle cx="297.4" cy="247.3" r="1.4"/><circle cx="128.6" cy="276.3" r="1.4"/><circle cx="93.8" cy="287.2" r="1.4"/><circle cx="228.8" cy="238.8" r="1.4"/><circle cx="121.2" cy="267.7" r="1.4"/><circle cx="170.0" cy="264.5" r="1.4"/><circle cx="96.9" cy="283.3" r="1.4"/><circle cx="80.3" cy="289.4" r="1.4"/><circle cx="174.4" cy="283.4" r="1.4"/><circle cx="206.1" cy="235.2" r="1.4"/><circle cx="187.4" cy="266.1" r="1.4"/><circle cx="133.9" cy="266.7" r="1.4"/><circle cx="237.4" cy="219.0" r="1.4"/><circle cx="91.7" cy="286.2" r="1.4"/><circle cx="252.2" cy="260.5" r="1.4"/><circle cx="101.0" cy="278.7" r="1.4"/><circle cx="108.4" cy="284.8" r="1.4"/><circle cx="163.6" cy="284.8" r="1.4"/><circle cx="141.1" cy="278.4" r="1.4"/><circle cx="105.4" cy="284.7" r="1.4"/><circle cx="122.1" cy="289.0" r="1.4"/><circle cx="200.9" cy="288.3" r="1.4"/><circle cx="201.5" cy="282.4" r="1.4"/><circle cx="174.9" cy="238.2" r="1.4"/><circle cx="219.5" cy="220.2" r="1.4"/><circle cx="241.1" cy="225.9" r="1.4"/><circle cx="273.4" cy="272.8" r="1.4"/><circle cx="89.1" cy="282.8" r="1.4"/><circle cx="230.6" cy="259.7" r="1.4"/><circle cx="117.4" cy="277.9" r="1.4"/><circle cx="155.4" cy="274.6" r="1.4"/><circle cx="119.4" cy="290.1" r="1.4"/><circle cx="156.8" cy="287.0" r="1.4"/><circle cx="115.4" cy="274.5" r="1.4"/><circle cx="105.8" cy="276.9" r="1.4"/><circle cx="189.6" cy="268.4" r="1.4"/><circle cx="193.8" cy="267.0" r="1.4"/><circle cx="191.9" cy="248.0" r="1.4"/><circle cx="211.0" cy="260.2" r="1.4"/><circle cx="163.7" cy="266.9" r="1.4"/><circle cx="154.9" cy="290.7" r="1.4"/><circle cx="195.8" cy="247.1" r="1.4"/><circle cx="164.5" cy="276.2" r="1.4"/><circle cx="153.1" cy="250.9" r="1.4"/><circle cx="136.4" cy="268.2" r="1.4"/><circle cx="258.2" cy="273.4" r="1.4"/><circle cx="166.8" cy="251.0" r="1.4"/><circle cx="96.8" cy="282.7" r="1.4"/><circle cx="296.7" cy="190.9" r="1.4"/><circle cx="102.5" cy="293.0" r="1.4"/><circle cx="118.0" cy="284.6" r="1.4"/><circle cx="285.3" cy="276.3" r="1.4"/><circle cx="102.5" cy="283.8" r="1.4"/><circle cx="211.5" cy="279.3" r="1.4"/><circle cx="157.2" cy="260.1" r="1.4"/><circle cx="180.4" cy="287.0" r="1.4"/><circle cx="118.2" cy="291.3" r="1.4"/><circle cx="127.8" cy="270.7" r="1.4"/><circle cx="258.4" cy="262.1" r="1.4"/><circle cx="168.6" cy="279.0" r="1.4"/><circle cx="130.0" cy="262.1" r="1.4"/><circle cx="282.7" cy="217.7" r="1.4"/><circle cx="120.9" cy="276.5" r="1.4"/><circle cx="172.6" cy="246.4" r="1.4"/><circle cx="242.7" cy="290.6" r="1.4"/><circle cx="163.1" cy="261.5" r="1.4"/><circle cx="285.8" cy="261.8" r="1.4"/><circle cx="203.2" cy="264.0" r="1.4"/><circle cx="192.8" cy="231.4" r="1.4"/><circle cx="105.0" cy="289.8" r="1.4"/><circle cx="191.5" cy="233.0" r="1.4"/><circle cx="221.6" cy="259.1" r="1.4"/><circle cx="224.5" cy="228.4" r="1.4"/><circle cx="129.2" cy="267.6" r="1.4"/><circle cx="198.9" cy="247.8" r="1.4"/><circle cx="205.0" cy="267.7" r="1.4"/><circle cx="73.7" cy="291.8" r="1.4"/><circle cx="221.4" cy="226.5" r="1.4"/><circle cx="82.7" cy="286.0" r="1.4"/><circle cx="175.4" cy="263.2" r="1.4"/><circle cx="171.6" cy="281.2" r="1.4"/><circle cx="109.4" cy="270.9" r="1.4"/><circle cx="137.4" cy="288.7" r="1.4"/><circle cx="118.8" cy="293.2" r="1.4"/><circle cx="116.1" cy="272.4" r="1.4"/><circle cx="123.6" cy="286.8" r="1.4"/><circle cx="130.2" cy="286.8" r="1.4"/><circle cx="160.4" cy="281.1" r="1.4"/><circle cx="149.0" cy="267.9" r="1.4"/><circle cx="103.1" cy="286.6" r="1.4"/><circle cx="267.2" cy="233.4" r="1.4"/><circle cx="219.4" cy="221.7" r="1.4"/><circle cx="258.7" cy="231.1" r="1.4"/><circle cx="273.6" cy="277.4" r="1.4"/><circle cx="228.2" cy="288.7" r="1.4"/><circle cx="109.8" cy="292.0" r="1.4"/><circle cx="253.5" cy="222.3" r="1.4"/><circle cx="284.9" cy="281.3" r="1.4"/><circle cx="204.8" cy="258.5" r="1.4"/><circle cx="133.6" cy="271.5" r="1.4"/><circle cx="129.3" cy="284.5" r="1.4"/><circle cx="160.3" cy="287.1" r="1.4"/><circle cx="148.1" cy="273.4" r="1.4"/><circle cx="184.7" cy="250.5" r="1.4"/><circle cx="96.4" cy="290.8" r="1.4"/><circle cx="139.6" cy="266.5" r="1.4"/><circle cx="152.4" cy="288.2" r="1.4"/><circle cx="231.6" cy="219.5" r="1.4"/><circle cx="210.7" cy="250.5" r="1.4"/><circle cx="120.9" cy="280.2" r="1.4"/><circle cx="267.2" cy="195.6" r="1.4"/><circle cx="186.0" cy="261.1" r="1.4"/><circle cx="217.5" cy="255.3" r="1.4"/><circle cx="170.7" cy="267.8" r="1.4"/><circle cx="241.0" cy="240.7" r="1.4"/><circle cx="179.0" cy="253.5" r="1.4"/><circle cx="95.1" cy="279.6" r="1.4"/><circle cx="118.5" cy="269.4" r="1.4"/><circle cx="154.9" cy="287.6" r="1.4"/><circle cx="99.5" cy="283.1" r="1.4"/><circle cx="135.6" cy="288.1" r="1.4"/><circle cx="121.5" cy="273.1" r="1.4"/><circle cx="276.6" cy="275.5" r="1.4"/><circle cx="126.3" cy="273.0" r="1.4"/><circle cx="183.8" cy="233.5" r="1.4"/><circle cx="196.2" cy="237.7" r="1.4"/><circle cx="188.8" cy="234.8" r="1.4"/><circle cx="182.9" cy="235.1" r="1.4"/><circle cx="281.1" cy="286.8" r="1.4"/><circle cx="245.8" cy="224.2" r="1.4"/><circle cx="242.3" cy="246.2" r="1.4"/><circle cx="187.5" cy="283.9" r="1.4"/><circle cx="219.5" cy="264.9" r="1.4"/><circle cx="154.1" cy="278.6" r="1.4"/><circle cx="98.3" cy="288.3" r="1.4"/><circle cx="77.0" cy="288.2" r="1.4"/><circle cx="113.3" cy="283.2" r="1.4"/><circle cx="165.8" cy="258.8" r="1.4"/><circle cx="134.0" cy="288.6" r="1.4"/><circle cx="178.4" cy="238.5" r="1.4"/><circle cx="182.1" cy="281.1" r="1.4"/><circle cx="243.8" cy="247.2" r="1.4"/><circle cx="134.5" cy="277.1" r="1.4"/><circle cx="163.8" cy="269.1" r="1.4"/><circle cx="280.5" cy="216.2" r="1.4"/><circle cx="144.7" cy="289.6" r="1.4"/><circle cx="191.9" cy="289.0" r="1.4"/><circle cx="177.1" cy="248.2" r="1.4"/><circle cx="151.0" cy="284.9" r="1.4"/><circle cx="285.6" cy="244.8" r="1.4"/><circle cx="255.6" cy="214.8" r="1.4"/><circle cx="102.7" cy="280.8" r="1.4"/><circle cx="141.4" cy="257.0" r="1.4"/><circle cx="208.8" cy="277.3" r="1.4"/><circle cx="236.2" cy="221.1" r="1.4"/><circle cx="194.7" cy="234.8" r="1.4"/><circle cx="98.2" cy="281.4" r="1.4"/><circle cx="201.9" cy="232.7" r="1.4"/><circle cx="267.2" cy="263.2" r="1.4"/><circle cx="167.7" cy="292.9" r="1.4"/><circle cx="86.2" cy="282.7" r="1.4"/><circle cx="131.6" cy="284.6" r="1.4"/><circle cx="225.6" cy="259.4" r="1.4"/><circle cx="121.0" cy="276.0" r="1.4"/><circle cx="132.6" cy="287.8" r="1.4"/><circle cx="240.4" cy="240.7" r="1.4"/><circle cx="124.4" cy="263.6" r="1.4"/><circle cx="199.3" cy="291.2" r="1.4"/><circle cx="112.6" cy="280.9" r="1.4"/><circle cx="147.0" cy="287.5" r="1.4"/><circle cx="147.5" cy="290.5" r="1.4"/><circle cx="89.4" cy="293.1" r="1.4"/><circle cx="204.3" cy="238.7" r="1.4"/><circle cx="174.0" cy="254.9" r="1.4"/><circle cx="168.1" cy="249.4" r="1.4"/><circle cx="158.9" cy="262.8" r="1.4"/><circle cx="251.2" cy="257.9" r="1.4"/><circle cx="122.6" cy="268.2" r="1.4"/><circle cx="104.6" cy="277.0" r="1.4"/><circle cx="132.7" cy="280.4" r="1.4"/><circle cx="147.0" cy="271.5" r="1.4"/><circle cx="156.0" cy="276.0" r="1.4"/><circle cx="237.2" cy="279.0" r="1.4"/><circle cx="182.8" cy="275.1" r="1.4"/><circle cx="219.3" cy="250.8" r="1.4"/><circle cx="105.6" cy="291.1" r="1.4"/><circle cx="239.0" cy="266.3" r="1.4"/><circle cx="167.9" cy="250.5" r="1.4"/><circle cx="120.6" cy="279.8" r="1.4"/><circle cx="117.6" cy="279.7" r="1.4"/><circle cx="137.8" cy="288.2" r="1.4"/><circle cx="89.6" cy="285.9" r="1.4"/><circle cx="227.5" cy="226.1" r="1.4"/><circle cx="230.3" cy="252.0" r="1.4"/><circle cx="130.8" cy="279.7" r="1.4"/><circle cx="242.0" cy="261.7" r="1.4"/><circle cx="182.8" cy="291.2" r="1.4"/><circle cx="260.7" cy="270.6" r="1.4"/><circle cx="297.1" cy="216.5" r="1.4"/><circle cx="136.3" cy="257.3" r="1.4"/><circle cx="242.7" cy="244.4" r="1.4"/><circle cx="163.1" cy="263.6" r="1.4"/><circle cx="127.4" cy="271.4" r="1.4"/><circle cx="172.6" cy="284.0" r="1.4"/><circle cx="278.2" cy="237.1" r="1.4"/><circle cx="126.4" cy="273.4" r="1.4"/><circle cx="181.6" cy="286.0" r="1.4"/><circle cx="189.1" cy="275.3" r="1.4"/><circle cx="220.5" cy="284.1" r="1.4"/><circle cx="168.7" cy="259.9" r="1.4"/><circle cx="234.0" cy="282.3" r="1.4"/><circle cx="104.2" cy="285.0" r="1.4"/><circle cx="218.0" cy="223.5" r="1.4"/><circle cx="203.9" cy="265.3" r="1.4"/><circle cx="173.2" cy="255.3" r="1.4"/><circle cx="127.1" cy="283.7" r="1.4"/><circle cx="99.5" cy="283.7" r="1.4"/><circle cx="145.8" cy="265.0" r="1.4"/><circle cx="234.2" cy="284.6" r="1.4"/><circle cx="131.5" cy="271.0" r="1.4"/><circle cx="172.1" cy="292.3" r="1.4"/><circle cx="143.4" cy="269.5" r="1.4"/><circle cx="152.4" cy="283.7" r="1.4"/><circle cx="232.7" cy="244.8" r="1.4"/><circle cx="240.9" cy="258.7" r="1.4"/><circle cx="139.3" cy="261.9" r="1.4"/><circle cx="202.1" cy="235.4" r="1.4"/><circle cx="152.1" cy="289.9" r="1.4"/><circle cx="137.4" cy="265.7" r="1.4"/><circle cx="138.6" cy="277.0" r="1.4"/><circle cx="132.9" cy="291.0" r="1.4"/><circle cx="143.6" cy="256.7" r="1.4"/><circle cx="167.8" cy="277.7" r="1.4"/><circle cx="267.9" cy="193.5" r="1.4"/><circle cx="170.1" cy="240.3" r="1.4"/><circle cx="164.0" cy="280.4" r="1.4"/><circle cx="96.2" cy="283.3" r="1.4"/><circle cx="203.3" cy="233.1" r="1.4"/><circle cx="149.8" cy="290.0" r="1.4"/><circle cx="235.0" cy="233.0" r="1.4"/><circle cx="104.7" cy="283.9" r="1.4"/><circle cx="207.7" cy="261.8" r="1.4"/><circle cx="155.2" cy="277.4" r="1.4"/><circle cx="208.2" cy="275.2" r="1.4"/><circle cx="281.3" cy="255.2" r="1.4"/></g>
<g fill="#52b846" fill-opacity="0.42" stroke="#46b03a" stroke-opacity="0.7" stroke-width="0.6"><circle cx="95.3" cy="143.1" r="1.4"/><circle cx="86.6" cy="260.5" r="1.4"/><circle cx="154.4" cy="160.4" r="1.4"/><circle cx="86.4" cy="195.8" r="1.4"/><circle cx="186.2" cy="131.1" r="1.4"/><circle cx="99.7" cy="188.5" r="1.4"/><circle cx="153.7" cy="174.6" r="1.4"/><circle cx="136.6" cy="154.9" r="1.4"/><circle cx="108.3" cy="236.7" r="1.4"/><circle cx="67.4" cy="129.7" r="1.4"/><circle cx="68.6" cy="279.1" r="1.4"/><circle cx="184.7" cy="148.5" r="1.4"/><circle cx="130.3" cy="213.9" r="1.4"/><circle cx="113.3" cy="131.0" r="1.4"/><circle cx="84.3" cy="261.3" r="1.4"/><circle cx="112.9" cy="223.5" r="1.4"/><circle cx="77.0" cy="243.3" r="1.4"/><circle cx="73.7" cy="272.2" r="1.4"/><circle cx="85.8" cy="217.4" r="1.4"/><circle cx="144.8" cy="191.2" r="1.4"/><circle cx="72.3" cy="227.4" r="1.4"/><circle cx="98.4" cy="237.2" r="1.4"/><circle cx="136.1" cy="123.3" r="1.4"/><circle cx="90.3" cy="254.0" r="1.4"/><circle cx="110.9" cy="175.7" r="1.4"/><circle cx="81.9" cy="186.8" r="1.4"/><circle cx="134.9" cy="172.1" r="1.4"/><circle cx="95.0" cy="167.4" r="1.4"/><circle cx="71.3" cy="219.8" r="1.4"/><circle cx="179.2" cy="125.8" r="1.4"/><circle cx="78.7" cy="241.5" r="1.4"/><circle cx="68.8" cy="262.0" r="1.4"/><circle cx="95.6" cy="193.4" r="1.4"/><circle cx="76.4" cy="196.4" r="1.4"/><circle cx="122.1" cy="157.6" r="1.4"/><circle cx="80.8" cy="147.4" r="1.4"/><circle cx="91.5" cy="124.3" r="1.4"/><circle cx="71.9" cy="221.2" r="1.4"/><circle cx="112.3" cy="195.8" r="1.4"/><circle cx="146.3" cy="177.7" r="1.4"/><circle cx="98.7" cy="249.5" r="1.4"/><circle cx="142.8" cy="172.0" r="1.4"/><circle cx="80.9" cy="222.5" r="1.4"/><circle cx="74.3" cy="218.0" r="1.4"/><circle cx="88.2" cy="264.6" r="1.4"/><circle cx="89.6" cy="207.5" r="1.4"/><circle cx="93.2" cy="212.4" r="1.4"/><circle cx="120.0" cy="212.0" r="1.4"/><circle cx="157.3" cy="176.6" r="1.4"/><circle cx="73.0" cy="160.2" r="1.4"/><circle cx="63.1" cy="236.5" r="1.4"/><circle cx="70.2" cy="211.2" r="1.4"/><circle cx="85.1" cy="259.3" r="1.4"/><circle cx="73.5" cy="251.0" r="1.4"/><circle cx="74.0" cy="279.1" r="1.4"/><circle cx="82.1" cy="165.0" r="1.4"/><circle cx="67.4" cy="217.1" r="1.4"/><circle cx="90.0" cy="171.2" r="1.4"/><circle cx="88.8" cy="154.9" r="1.4"/><circle cx="66.0" cy="268.5" r="1.4"/><circle cx="131.0" cy="185.9" r="1.4"/><circle cx="175.7" cy="152.7" r="1.4"/><circle cx="147.4" cy="187.0" r="1.4"/><circle cx="115.3" cy="232.7" r="1.4"/><circle cx="79.5" cy="248.3" r="1.4"/><circle cx="117.1" cy="205.5" r="1.4"/><circle cx="211.4" cy="118.0" r="1.4"/><circle cx="133.3" cy="169.5" r="1.4"/><circle cx="76.2" cy="166.7" r="1.4"/><circle cx="134.8" cy="177.1" r="1.4"/><circle cx="94.3" cy="211.9" r="1.4"/><circle cx="121.1" cy="222.2" r="1.4"/><circle cx="71.7" cy="281.2" r="1.4"/><circle cx="84.4" cy="219.1" r="1.4"/><circle cx="101.1" cy="163.4" r="1.4"/><circle cx="138.6" cy="165.5" r="1.4"/><circle cx="98.6" cy="215.7" r="1.4"/><circle cx="122.4" cy="138.4" r="1.4"/><circle cx="88.1" cy="183.6" r="1.4"/><circle cx="95.0" cy="197.3" r="1.4"/><circle cx="71.1" cy="160.6" r="1.4"/><circle cx="138.6" cy="130.5" r="1.4"/><circle cx="138.1" cy="197.0" r="1.4"/><circle cx="72.6" cy="178.8" r="1.4"/><circle cx="78.2" cy="214.1" r="1.4"/><circle cx="82.5" cy="240.7" r="1.4"/><circle cx="131.1" cy="183.7" r="1.4"/><circle cx="110.9" cy="148.7" r="1.4"/><circle cx="182.4" cy="142.1" r="1.4"/><circle cx="111.6" cy="220.4" r="1.4"/><circle cx="68.9" cy="185.3" r="1.4"/><circle cx="128.2" cy="179.5" r="1.4"/><circle cx="100.0" cy="181.6" r="1.4"/><circle cx="66.1" cy="162.4" r="1.4"/><circle cx="127.4" cy="174.6" r="1.4"/><circle cx="70.5" cy="242.8" r="1.4"/><circle cx="78.3" cy="189.0" r="1.4"/><circle cx="172.0" cy="151.7" r="1.4"/><circle cx="109.9" cy="195.5" r="1.4"/><circle cx="73.4" cy="244.0" r="1.4"/><circle cx="153.2" cy="169.6" r="1.4"/><circle cx="107.8" cy="166.1" r="1.4"/><circle cx="98.6" cy="153.5" r="1.4"/><circle cx="79.8" cy="206.9" r="1.4"/><circle cx="131.6" cy="134.1" r="1.4"/><circle cx="152.5" cy="122.8" r="1.4"/><circle cx="118.6" cy="182.5" r="1.4"/><circle cx="79.1" cy="265.6" r="1.4"/><circle cx="128.1" cy="154.2" r="1.4"/><circle cx="64.0" cy="250.8" r="1.4"/><circle cx="136.8" cy="185.9" r="1.4"/><circle cx="100.0" cy="148.9" r="1.4"/><circle cx="129.7" cy="203.5" r="1.4"/><circle cx="74.8" cy="186.2" r="1.4"/><circle cx="71.7" cy="267.4" r="1.4"/><circle cx="183.0" cy="124.7" r="1.4"/><circle cx="65.7" cy="272.5" r="1.4"/><circle cx="108.0" cy="176.0" r="1.4"/><circle cx="82.9" cy="229.5" r="1.4"/><circle cx="91.9" cy="220.2" r="1.4"/><circle cx="112.8" cy="123.7" r="1.4"/><circle cx="66.0" cy="268.4" r="1.4"/><circle cx="141.1" cy="201.6" r="1.4"/><circle cx="149.9" cy="194.5" r="1.4"/><circle cx="72.8" cy="247.6" r="1.4"/><circle cx="182.9" cy="141.1" r="1.4"/><circle cx="65.3" cy="160.5" r="1.4"/><circle cx="166.4" cy="123.2" r="1.4"/><circle cx="106.8" cy="243.9" r="1.4"/><circle cx="71.2" cy="226.5" r="1.4"/><circle cx="126.3" cy="193.2" r="1.4"/><circle cx="88.7" cy="247.5" r="1.4"/><circle cx="164.0" cy="135.4" r="1.4"/><circle cx="105.0" cy="200.8" r="1.4"/><circle cx="63.0" cy="279.0" r="1.4"/><circle cx="67.1" cy="220.0" r="1.4"/><circle cx="83.3" cy="174.7" r="1.4"/><circle cx="104.8" cy="173.5" r="1.4"/><circle cx="70.1" cy="237.6" r="1.4"/><circle cx="68.4" cy="199.3" r="1.4"/><circle cx="100.7" cy="135.6" r="1.4"/><circle cx="65.0" cy="186.6" r="1.4"/><circle cx="113.8" cy="204.6" r="1.4"/><circle cx="139.2" cy="152.8" r="1.4"/><circle cx="97.0" cy="208.3" r="1.4"/><circle cx="115.5" cy="151.1" r="1.4"/><circle cx="122.9" cy="183.7" r="1.4"/><circle cx="90.1" cy="224.2" r="1.4"/><circle cx="123.3" cy="209.8" r="1.4"/><circle cx="101.3" cy="217.5" r="1.4"/><circle cx="77.1" cy="232.4" r="1.4"/><circle cx="88.4" cy="239.0" r="1.4"/><circle cx="75.3" cy="128.9" r="1.4"/><circle cx="136.6" cy="203.7" r="1.4"/><circle cx="93.6" cy="238.1" r="1.4"/><circle cx="174.2" cy="150.8" r="1.4"/><circle cx="65.2" cy="224.6" r="1.4"/><circle cx="88.5" cy="234.0" r="1.4"/><circle cx="101.4" cy="183.8" r="1.4"/><circle cx="145.3" cy="180.2" r="1.4"/><circle cx="81.6" cy="228.6" r="1.4"/><circle cx="88.2" cy="256.1" r="1.4"/><circle cx="99.8" cy="142.6" r="1.4"/><circle cx="96.9" cy="210.7" r="1.4"/><circle cx="73.3" cy="234.1" r="1.4"/><circle cx="70.1" cy="267.9" r="1.4"/><circle cx="100.1" cy="153.4" r="1.4"/><circle cx="154.7" cy="165.9" r="1.4"/><circle cx="93.6" cy="237.7" r="1.4"/><circle cx="108.7" cy="201.5" r="1.4"/><circle cx="112.0" cy="174.0" r="1.4"/><circle cx="117.5" cy="219.2" r="1.4"/><circle cx="101.1" cy="229.1" r="1.4"/><circle cx="107.0" cy="235.8" r="1.4"/><circle cx="109.3" cy="179.6" r="1.4"/><circle cx="83.0" cy="224.3" r="1.4"/><circle cx="111.6" cy="149.1" r="1.4"/><circle cx="88.0" cy="146.7" r="1.4"/><circle cx="63.9" cy="191.8" r="1.4"/><circle cx="72.4" cy="180.0" r="1.4"/><circle cx="102.4" cy="203.8" r="1.4"/><circle cx="215.3" cy="122.1" r="1.4"/><circle cx="82.2" cy="137.2" r="1.4"/><circle cx="62.8" cy="215.4" r="1.4"/><circle cx="99.7" cy="214.4" r="1.4"/><circle cx="79.7" cy="204.5" r="1.4"/><circle cx="74.1" cy="172.9" r="1.4"/><circle cx="66.6" cy="233.9" r="1.4"/><circle cx="150.8" cy="118.6" r="1.4"/><circle cx="94.0" cy="118.0" r="1.4"/><circle cx="94.6" cy="222.5" r="1.4"/><circle cx="173.7" cy="168.8" r="1.4"/><circle cx="68.7" cy="219.1" r="1.4"/><circle cx="65.0" cy="198.7" r="1.4"/><circle cx="67.9" cy="217.9" r="1.4"/><circle cx="72.7" cy="271.5" r="1.4"/><circle cx="80.0" cy="181.9" r="1.4"/><circle cx="66.4" cy="261.2" r="1.4"/><circle cx="65.5" cy="272.6" r="1.4"/><circle cx="123.9" cy="170.8" r="1.4"/><circle cx="93.8" cy="212.4" r="1.4"/><circle cx="132.7" cy="158.4" r="1.4"/><circle cx="130.3" cy="121.8" r="1.4"/><circle cx="104.2" cy="172.0" r="1.4"/><circle cx="198.4" cy="134.6" r="1.4"/><circle cx="132.2" cy="202.2" r="1.4"/><circle cx="103.3" cy="213.8" r="1.4"/><circle cx="83.1" cy="130.6" r="1.4"/><circle cx="148.7" cy="192.4" r="1.4"/><circle cx="97.2" cy="215.6" r="1.4"/><circle cx="119.2" cy="181.8" r="1.4"/><circle cx="70.6" cy="161.7" r="1.4"/><circle cx="113.4" cy="200.2" r="1.4"/><circle cx="151.9" cy="153.7" r="1.4"/><circle cx="70.7" cy="267.0" r="1.4"/><circle cx="111.2" cy="181.1" r="1.4"/><circle cx="81.2" cy="255.2" r="1.4"/><circle cx="115.6" cy="182.8" r="1.4"/><circle cx="190.5" cy="146.9" r="1.4"/><circle cx="121.6" cy="146.0" r="1.4"/><circle cx="86.3" cy="242.9" r="1.4"/><circle cx="102.4" cy="247.7" r="1.4"/><circle cx="212.8" cy="121.6" r="1.4"/><circle cx="89.5" cy="218.3" r="1.4"/><circle cx="63.4" cy="213.8" r="1.4"/><circle cx="63.9" cy="196.7" r="1.4"/><circle cx="171.5" cy="163.2" r="1.4"/><circle cx="83.2" cy="206.8" r="1.4"/><circle cx="78.3" cy="217.1" r="1.4"/><circle cx="144.8" cy="190.4" r="1.4"/><circle cx="135.5" cy="140.4" r="1.4"/><circle cx="66.2" cy="214.6" r="1.4"/><circle cx="109.6" cy="138.1" r="1.4"/><circle cx="68.3" cy="246.0" r="1.4"/><circle cx="86.3" cy="158.2" r="1.4"/><circle cx="128.4" cy="189.0" r="1.4"/><circle cx="87.5" cy="223.4" r="1.4"/><circle cx="145.4" cy="194.2" r="1.4"/><circle cx="131.4" cy="181.1" r="1.4"/><circle cx="71.2" cy="246.5" r="1.4"/><circle cx="151.1" cy="183.4" r="1.4"/><circle cx="108.4" cy="152.8" r="1.4"/><circle cx="127.6" cy="211.5" r="1.4"/><circle cx="81.3" cy="229.1" r="1.4"/><circle cx="95.0" cy="193.6" r="1.4"/><circle cx="117.6" cy="158.2" r="1.4"/><circle cx="133.5" cy="169.0" r="1.4"/><circle cx="159.4" cy="150.9" r="1.4"/><circle cx="77.1" cy="177.0" r="1.4"/><circle cx="73.8" cy="198.7" r="1.4"/><circle cx="108.2" cy="207.5" r="1.4"/><circle cx="64.2" cy="193.9" r="1.4"/><circle cx="91.3" cy="180.1" r="1.4"/><circle cx="66.5" cy="209.2" r="1.4"/><circle cx="88.4" cy="246.0" r="1.4"/><circle cx="89.7" cy="168.6" r="1.4"/><circle cx="122.0" cy="180.2" r="1.4"/><circle cx="94.0" cy="246.8" r="1.4"/><circle cx="120.8" cy="222.5" r="1.4"/><circle cx="72.2" cy="254.8" r="1.4"/><circle cx="128.7" cy="187.4" r="1.4"/><circle cx="64.2" cy="270.4" r="1.4"/><circle cx="176.3" cy="142.1" r="1.4"/><circle cx="160.3" cy="180.1" r="1.4"/><circle cx="168.4" cy="120.5" r="1.4"/><circle cx="126.9" cy="172.4" r="1.4"/><circle cx="115.6" cy="131.9" r="1.4"/><circle cx="150.3" cy="189.8" r="1.4"/><circle cx="72.9" cy="214.4" r="1.4"/><circle cx="79.3" cy="199.6" r="1.4"/><circle cx="143.6" cy="170.6" r="1.4"/><circle cx="103.9" cy="231.4" r="1.4"/><circle cx="114.7" cy="183.3" r="1.4"/><circle cx="88.8" cy="189.3" r="1.4"/><circle cx="106.6" cy="208.8" r="1.4"/><circle cx="80.5" cy="239.0" r="1.4"/><circle cx="77.8" cy="184.7" r="1.4"/><circle cx="65.0" cy="226.0" r="1.4"/><circle cx="99.7" cy="223.5" r="1.4"/><circle cx="82.0" cy="227.1" r="1.4"/><circle cx="135.5" cy="163.9" r="1.4"/><circle cx="111.9" cy="183.1" r="1.4"/><circle cx="83.2" cy="179.4" r="1.4"/><circle cx="130.6" cy="193.4" r="1.4"/><circle cx="65.5" cy="212.8" r="1.4"/><circle cx="77.2" cy="130.0" r="1.4"/><circle cx="118.4" cy="158.7" r="1.4"/><circle cx="75.7" cy="214.7" r="1.4"/><circle cx="144.8" cy="180.6" r="1.4"/><circle cx="97.4" cy="161.1" r="1.4"/><circle cx="155.2" cy="184.1" r="1.4"/><circle cx="133.8" cy="186.4" r="1.4"/><circle cx="122.6" cy="207.7" r="1.4"/><circle cx="83.0" cy="149.5" r="1.4"/><circle cx="171.5" cy="155.4" r="1.4"/><circle cx="68.6" cy="162.4" r="1.4"/><circle cx="63.5" cy="206.3" r="1.4"/><circle cx="86.3" cy="222.0" r="1.4"/><circle cx="141.2" cy="160.6" r="1.4"/><circle cx="104.5" cy="208.9" r="1.4"/><circle cx="159.5" cy="174.2" r="1.4"/><circle cx="113.0" cy="134.7" r="1.4"/><circle cx="137.8" cy="200.7" r="1.4"/><circle cx="111.7" cy="146.1" r="1.4"/><circle cx="97.9" cy="237.2" r="1.4"/><circle cx="155.8" cy="173.6" r="1.4"/><circle cx="77.2" cy="174.5" r="1.4"/><circle cx="186.4" cy="120.0" r="1.4"/><circle cx="112.4" cy="233.7" r="1.4"/><circle cx="105.0" cy="172.1" r="1.4"/><circle cx="131.9" cy="200.2" r="1.4"/><circle cx="68.4" cy="202.2" r="1.4"/><circle cx="115.1" cy="217.9" r="1.4"/><circle cx="94.4" cy="137.0" r="1.4"/><circle cx="76.4" cy="229.1" r="1.4"/><circle cx="94.6" cy="209.9" r="1.4"/><circle cx="159.8" cy="144.0" r="1.4"/><circle cx="84.6" cy="181.1" r="1.4"/><circle cx="74.9" cy="247.5" r="1.4"/><circle cx="96.2" cy="199.8" r="1.4"/><circle cx="95.3" cy="247.1" r="1.4"/><circle cx="144.8" cy="182.2" r="1.4"/><circle cx="97.7" cy="203.1" r="1.4"/><circle cx="77.2" cy="204.2" r="1.4"/><circle cx="104.6" cy="203.9" r="1.4"/><circle cx="94.9" cy="175.0" r="1.4"/><circle cx="81.4" cy="209.6" r="1.4"/><circle cx="71.7" cy="239.0" r="1.4"/><circle cx="104.5" cy="216.9" r="1.4"/><circle cx="71.2" cy="233.5" r="1.4"/><circle cx="147.8" cy="161.4" r="1.4"/><circle cx="143.4" cy="121.1" r="1.4"/><circle cx="172.4" cy="141.6" r="1.4"/><circle cx="68.5" cy="252.2" r="1.4"/><circle cx="81.3" cy="241.2" r="1.4"/><circle cx="95.4" cy="202.2" r="1.4"/><circle cx="67.1" cy="271.2" r="1.4"/><circle cx="154.9" cy="159.6" r="1.4"/><circle cx="135.7" cy="204.6" r="1.4"/><circle cx="71.6" cy="196.3" r="1.4"/><circle cx="80.7" cy="210.3" r="1.4"/><circle cx="66.5" cy="122.3" r="1.4"/><circle cx="78.8" cy="265.9" r="1.4"/><circle cx="91.8" cy="216.0" r="1.4"/><circle cx="106.1" cy="199.7" r="1.4"/><circle cx="78.6" cy="267.7" r="1.4"/><circle cx="127.6" cy="216.2" r="1.4"/><circle cx="175.3" cy="132.9" r="1.4"/><circle cx="63.4" cy="175.8" r="1.4"/><circle cx="99.0" cy="163.2" r="1.4"/><circle cx="91.3" cy="246.4" r="1.4"/><circle cx="77.0" cy="204.2" r="1.4"/><circle cx="130.5" cy="196.3" r="1.4"/><circle cx="140.5" cy="191.8" r="1.4"/><circle cx="134.2" cy="141.6" r="1.4"/><circle cx="164.6" cy="162.3" r="1.4"/><circle cx="69.4" cy="270.6" r="1.4"/><circle cx="135.8" cy="182.9" r="1.4"/><circle cx="64.8" cy="193.0" r="1.4"/><circle cx="113.4" cy="229.3" r="1.4"/><circle cx="70.1" cy="262.0" r="1.4"/><circle cx="82.0" cy="172.3" r="1.4"/><circle cx="101.1" cy="250.4" r="1.4"/><circle cx="66.5" cy="254.4" r="1.4"/><circle cx="138.7" cy="122.8" r="1.4"/><circle cx="133.1" cy="193.1" r="1.4"/><circle cx="75.9" cy="271.2" r="1.4"/><circle cx="78.1" cy="231.8" r="1.4"/><circle cx="103.0" cy="153.0" r="1.4"/><circle cx="131.9" cy="158.3" r="1.4"/><circle cx="148.3" cy="190.4" r="1.4"/><circle cx="96.0" cy="253.2" r="1.4"/><circle cx="96.7" cy="126.1" r="1.4"/><circle cx="147.5" cy="126.2" r="1.4"/><circle cx="99.8" cy="215.7" r="1.4"/><circle cx="71.2" cy="191.3" r="1.4"/><circle cx="101.3" cy="188.0" r="1.4"/><circle cx="64.2" cy="289.7" r="1.4"/><circle cx="73.9" cy="252.6" r="1.4"/><circle cx="79.3" cy="146.4" r="1.4"/><circle cx="72.4" cy="217.3" r="1.4"/><circle cx="85.8" cy="220.0" r="1.4"/><circle cx="114.8" cy="170.3" r="1.4"/><circle cx="78.2" cy="267.7" r="1.4"/><circle cx="117.8" cy="188.7" r="1.4"/><circle cx="78.6" cy="204.7" r="1.4"/><circle cx="109.4" cy="179.8" r="1.4"/><circle cx="80.3" cy="264.1" r="1.4"/><circle cx="71.0" cy="221.7" r="1.4"/><circle cx="121.9" cy="211.8" r="1.4"/><circle cx="76.4" cy="192.4" r="1.4"/><circle cx="67.4" cy="186.5" r="1.4"/><circle cx="96.2" cy="118.7" r="1.4"/><circle cx="108.9" cy="192.4" r="1.4"/><circle cx="102.2" cy="203.1" r="1.4"/><circle cx="152.3" cy="188.2" r="1.4"/><circle cx="118.3" cy="147.8" r="1.4"/><circle cx="108.2" cy="198.4" r="1.4"/><circle cx="148.3" cy="195.0" r="1.4"/><circle cx="69.2" cy="258.6" r="1.4"/><circle cx="69.1" cy="145.1" r="1.4"/><circle cx="78.6" cy="262.0" r="1.4"/><circle cx="91.9" cy="205.3" r="1.4"/><circle cx="67.0" cy="149.9" r="1.4"/><circle cx="133.6" cy="167.9" r="1.4"/><circle cx="125.7" cy="197.7" r="1.4"/><circle cx="175.1" cy="128.7" r="1.4"/><circle cx="66.2" cy="257.1" r="1.4"/><circle cx="74.3" cy="221.0" r="1.4"/><circle cx="84.5" cy="223.8" r="1.4"/><circle cx="66.0" cy="146.0" r="1.4"/><circle cx="89.7" cy="243.1" r="1.4"/><circle cx="138.2" cy="117.7" r="1.4"/><circle cx="137.3" cy="191.9" r="1.4"/><circle cx="89.1" cy="217.8" r="1.4"/><circle cx="80.2" cy="206.4" r="1.4"/><circle cx="72.1" cy="191.7" r="1.4"/><circle cx="154.3" cy="149.4" r="1.4"/><circle cx="92.8" cy="207.1" r="1.4"/><circle cx="68.0" cy="150.8" r="1.4"/><circle cx="101.3" cy="133.5" r="1.4"/><circle cx="92.7" cy="227.7" r="1.4"/><circle cx="93.9" cy="163.5" r="1.4"/><circle cx="108.6" cy="172.8" r="1.4"/><circle cx="102.6" cy="238.6" r="1.4"/><circle cx="95.3" cy="198.2" r="1.4"/><circle cx="66.4" cy="220.5" r="1.4"/><circle cx="157.3" cy="122.4" r="1.4"/><circle cx="132.2" cy="167.9" r="1.4"/><circle cx="72.1" cy="194.9" r="1.4"/><circle cx="146.3" cy="189.2" r="1.4"/><circle cx="105.2" cy="151.5" r="1.4"/><circle cx="103.3" cy="243.5" r="1.4"/><circle cx="66.8" cy="271.0" r="1.4"/><circle cx="125.4" cy="154.1" r="1.4"/><circle cx="85.5" cy="212.8" r="1.4"/><circle cx="69.3" cy="231.8" r="1.4"/><circle cx="148.3" cy="142.1" r="1.4"/><circle cx="123.3" cy="197.5" r="1.4"/><circle cx="105.0" cy="235.7" r="1.4"/><circle cx="80.3" cy="134.6" r="1.4"/><circle cx="89.5" cy="242.5" r="1.4"/><circle cx="83.6" cy="241.9" r="1.4"/><circle cx="155.7" cy="132.3" r="1.4"/><circle cx="88.9" cy="204.3" r="1.4"/><circle cx="94.7" cy="239.9" r="1.4"/><circle cx="99.0" cy="232.6" r="1.4"/><circle cx="108.5" cy="194.3" r="1.4"/><circle cx="95.4" cy="216.5" r="1.4"/><circle cx="127.0" cy="198.9" r="1.4"/><circle cx="115.5" cy="220.3" r="1.4"/><circle cx="66.7" cy="275.0" r="1.4"/><circle cx="63.7" cy="206.2" r="1.4"/><circle cx="74.3" cy="255.2" r="1.4"/><circle cx="75.5" cy="194.2" r="1.4"/><circle cx="148.6" cy="154.5" r="1.4"/><circle cx="81.5" cy="172.8" r="1.4"/><circle cx="67.2" cy="214.3" r="1.4"/><circle cx="73.8" cy="200.6" r="1.4"/><circle cx="145.2" cy="180.8" r="1.4"/><circle cx="110.5" cy="138.0" r="1.4"/><circle cx="71.5" cy="269.0" r="1.4"/><circle cx="65.7" cy="253.3" r="1.4"/><circle cx="159.3" cy="160.2" r="1.4"/><circle cx="81.5" cy="160.9" r="1.4"/><circle cx="91.3" cy="222.0" r="1.4"/><circle cx="66.8" cy="186.7" r="1.4"/><circle cx="64.7" cy="234.4" r="1.4"/><circle cx="109.9" cy="192.6" r="1.4"/><circle cx="73.4" cy="219.0" r="1.4"/><circle cx="95.3" cy="202.5" r="1.4"/><circle cx="85.3" cy="163.5" r="1.4"/><circle cx="152.2" cy="158.4" r="1.4"/><circle cx="72.9" cy="217.3" r="1.4"/><circle cx="189.6" cy="151.0" r="1.4"/><circle cx="129.7" cy="156.4" r="1.4"/><circle cx="141.3" cy="172.5" r="1.4"/><circle cx="78.1" cy="246.3" r="1.4"/><circle cx="74.3" cy="122.1" r="1.4"/><circle cx="119.7" cy="226.0" r="1.4"/><circle cx="132.4" cy="205.1" r="1.4"/><circle cx="151.8" cy="135.9" r="1.4"/><circle cx="177.6" cy="136.8" r="1.4"/><circle cx="139.7" cy="186.3" r="1.4"/><circle cx="105.5" cy="195.0" r="1.4"/><circle cx="91.4" cy="227.4" r="1.4"/><circle cx="69.0" cy="241.3" r="1.4"/><circle cx="96.6" cy="142.1" r="1.4"/><circle cx="183.9" cy="144.0" r="1.4"/><circle cx="97.9" cy="183.1" r="1.4"/><circle cx="87.8" cy="235.6" r="1.4"/><circle cx="64.4" cy="269.8" r="1.4"/><circle cx="135.9" cy="188.8" r="1.4"/><circle cx="66.0" cy="270.7" r="1.4"/><circle cx="127.1" cy="179.0" r="1.4"/><circle cx="112.0" cy="216.5" r="1.4"/><circle cx="118.4" cy="198.1" r="1.4"/><circle cx="90.9" cy="177.3" r="1.4"/><circle cx="111.8" cy="206.4" r="1.4"/><circle cx="90.8" cy="259.4" r="1.4"/><circle cx="73.5" cy="153.6" r="1.4"/><circle cx="77.4" cy="200.6" r="1.4"/><circle cx="79.1" cy="248.4" r="1.4"/><circle cx="75.0" cy="241.3" r="1.4"/><circle cx="128.6" cy="180.3" r="1.4"/><circle cx="173.6" cy="151.0" r="1.4"/><circle cx="63.6" cy="205.8" r="1.4"/><circle cx="71.4" cy="215.7" r="1.4"/><circle cx="118.7" cy="221.2" r="1.4"/><circle cx="156.0" cy="161.1" r="1.4"/><circle cx="88.0" cy="255.6" r="1.4"/><circle cx="147.3" cy="124.3" r="1.4"/><circle cx="89.7" cy="261.1" r="1.4"/><circle cx="132.7" cy="185.0" r="1.4"/><circle cx="68.9" cy="212.7" r="1.4"/><circle cx="101.5" cy="140.6" r="1.4"/><circle cx="100.9" cy="199.2" r="1.4"/><circle cx="67.2" cy="273.8" r="1.4"/><circle cx="63.4" cy="210.0" r="1.4"/><circle cx="126.1" cy="176.5" r="1.4"/><circle cx="178.7" cy="157.0" r="1.4"/><circle cx="141.7" cy="182.4" r="1.4"/><circle cx="115.5" cy="218.6" r="1.4"/><circle cx="94.7" cy="171.9" r="1.4"/><circle cx="68.4" cy="246.4" r="1.4"/><circle cx="177.3" cy="115.9" r="1.4"/><circle cx="76.4" cy="143.1" r="1.4"/><circle cx="195.2" cy="131.6" r="1.4"/><circle cx="148.9" cy="176.1" r="1.4"/><circle cx="90.0" cy="184.6" r="1.4"/><circle cx="124.4" cy="160.9" r="1.4"/><circle cx="111.9" cy="227.2" r="1.4"/><circle cx="121.5" cy="148.3" r="1.4"/><circle cx="89.9" cy="233.9" r="1.4"/><circle cx="180.7" cy="148.1" r="1.4"/><circle cx="183.3" cy="156.4" r="1.4"/><circle cx="69.3" cy="165.4" r="1.4"/><circle cx="81.9" cy="188.3" r="1.4"/><circle cx="64.2" cy="166.9" r="1.4"/><circle cx="84.0" cy="137.5" r="1.4"/><circle cx="78.4" cy="246.8" r="1.4"/><circle cx="84.8" cy="254.9" r="1.4"/><circle cx="88.5" cy="196.0" r="1.4"/><circle cx="75.7" cy="188.3" r="1.4"/><circle cx="82.6" cy="237.0" r="1.4"/><circle cx="124.7" cy="160.8" r="1.4"/><circle cx="92.4" cy="232.8" r="1.4"/><circle cx="81.3" cy="259.5" r="1.4"/><circle cx="93.5" cy="196.2" r="1.4"/><circle cx="78.3" cy="132.8" r="1.4"/><circle cx="91.0" cy="173.1" r="1.4"/><circle cx="66.3" cy="236.8" r="1.4"/><circle cx="78.8" cy="115.6" r="1.4"/><circle cx="77.3" cy="179.7" r="1.4"/><circle cx="82.5" cy="178.3" r="1.4"/><circle cx="149.1" cy="182.9" r="1.4"/><circle cx="156.9" cy="184.5" r="1.4"/><circle cx="99.8" cy="158.9" r="1.4"/><circle cx="80.4" cy="258.5" r="1.4"/><circle cx="64.1" cy="261.8" r="1.4"/><circle cx="125.0" cy="209.0" r="1.4"/><circle cx="73.9" cy="177.3" r="1.4"/><circle cx="124.9" cy="200.5" r="1.4"/><circle cx="110.4" cy="217.9" r="1.4"/><circle cx="108.7" cy="227.1" r="1.4"/><circle cx="69.1" cy="228.9" r="1.4"/><circle cx="86.6" cy="227.1" r="1.4"/><circle cx="85.2" cy="169.3" r="1.4"/><circle cx="164.7" cy="166.3" r="1.4"/><circle cx="108.6" cy="237.8" r="1.4"/><circle cx="91.3" cy="188.7" r="1.4"/><circle cx="119.3" cy="212.3" r="1.4"/><circle cx="72.0" cy="131.1" r="1.4"/><circle cx="93.9" cy="246.4" r="1.4"/><circle cx="138.6" cy="206.2" r="1.4"/><circle cx="99.3" cy="245.2" r="1.4"/><circle cx="75.2" cy="167.9" r="1.4"/><circle cx="100.4" cy="186.1" r="1.4"/><circle cx="178.1" cy="118.6" r="1.4"/><circle cx="66.4" cy="176.3" r="1.4"/><circle cx="128.7" cy="214.4" r="1.4"/><circle cx="144.0" cy="170.8" r="1.4"/><circle cx="80.7" cy="259.3" r="1.4"/><circle cx="174.5" cy="153.0" r="1.4"/><circle cx="74.2" cy="212.4" r="1.4"/><circle cx="120.0" cy="163.6" r="1.4"/><circle cx="137.7" cy="115.7" r="1.4"/><circle cx="115.8" cy="233.8" r="1.4"/><circle cx="108.8" cy="201.7" r="1.4"/><circle cx="157.0" cy="152.4" r="1.4"/><circle cx="79.4" cy="271.4" r="1.4"/><circle cx="104.9" cy="190.2" r="1.4"/><circle cx="118.6" cy="127.1" r="1.4"/><circle cx="90.1" cy="204.1" r="1.4"/><circle cx="122.2" cy="163.7" r="1.4"/><circle cx="67.9" cy="238.5" r="1.4"/><circle cx="89.3" cy="189.2" r="1.4"/><circle cx="97.7" cy="137.3" r="1.4"/><circle cx="72.7" cy="226.2" r="1.4"/><circle cx="104.8" cy="130.6" r="1.4"/><circle cx="176.8" cy="163.9" r="1.4"/><circle cx="72.5" cy="157.7" r="1.4"/><circle cx="132.4" cy="120.3" r="1.4"/><circle cx="70.2" cy="268.0" r="1.4"/><circle cx="63.9" cy="255.0" r="1.4"/><circle cx="87.5" cy="226.1" r="1.4"/><circle cx="73.9" cy="241.5" r="1.4"/><circle cx="115.4" cy="221.1" r="1.4"/><circle cx="152.5" cy="154.1" r="1.4"/><circle cx="65.1" cy="193.3" r="1.4"/><circle cx="159.0" cy="179.2" r="1.4"/><circle cx="79.5" cy="229.7" r="1.4"/><circle cx="100.2" cy="171.9" r="1.4"/><circle cx="82.8" cy="228.2" r="1.4"/><circle cx="99.1" cy="224.8" r="1.4"/><circle cx="69.5" cy="195.6" r="1.4"/><circle cx="73.7" cy="222.5" r="1.4"/><circle cx="99.2" cy="160.3" r="1.4"/><circle cx="69.9" cy="145.5" r="1.4"/><circle cx="97.2" cy="213.4" r="1.4"/><circle cx="91.7" cy="255.2" r="1.4"/><circle cx="141.4" cy="184.8" r="1.4"/><circle cx="87.9" cy="191.8" r="1.4"/><circle cx="143.7" cy="157.1" r="1.4"/><circle cx="88.1" cy="203.4" r="1.4"/><circle cx="76.5" cy="189.0" r="1.4"/><circle cx="103.4" cy="206.8" r="1.4"/><circle cx="64.1" cy="290.7" r="1.4"/><circle cx="97.3" cy="239.3" r="1.4"/><circle cx="166.9" cy="126.9" r="1.4"/><circle cx="149.1" cy="183.7" r="1.4"/><circle cx="72.1" cy="216.7" r="1.4"/><circle cx="101.1" cy="224.9" r="1.4"/><circle cx="101.4" cy="234.7" r="1.4"/><circle cx="68.4" cy="259.6" r="1.4"/><circle cx="77.7" cy="140.8" r="1.4"/><circle cx="73.5" cy="256.2" r="1.4"/><circle cx="125.7" cy="193.9" r="1.4"/><circle cx="104.3" cy="235.7" r="1.4"/><circle cx="168.3" cy="172.6" r="1.4"/><circle cx="101.2" cy="246.1" r="1.4"/><circle cx="133.1" cy="191.1" r="1.4"/><circle cx="114.4" cy="190.9" r="1.4"/><circle cx="78.9" cy="208.3" r="1.4"/><circle cx="151.1" cy="145.5" r="1.4"/><circle cx="115.3" cy="199.6" r="1.4"/><circle cx="65.9" cy="200.6" r="1.4"/><circle cx="117.3" cy="160.1" r="1.4"/><circle cx="78.9" cy="204.7" r="1.4"/><circle cx="65.6" cy="278.2" r="1.4"/><circle cx="76.4" cy="183.8" r="1.4"/><circle cx="88.6" cy="166.8" r="1.4"/><circle cx="127.2" cy="180.7" r="1.4"/><circle cx="82.8" cy="231.7" r="1.4"/><circle cx="64.0" cy="271.9" r="1.4"/><circle cx="70.8" cy="222.8" r="1.4"/><circle cx="68.9" cy="197.0" r="1.4"/><circle cx="145.2" cy="167.7" r="1.4"/><circle cx="154.5" cy="162.7" r="1.4"/><circle cx="177.6" cy="152.0" r="1.4"/><circle cx="84.5" cy="172.5" r="1.4"/><circle cx="102.0" cy="185.9" r="1.4"/><circle cx="78.4" cy="210.2" r="1.4"/><circle cx="86.1" cy="166.8" r="1.4"/><circle cx="70.9" cy="199.3" r="1.4"/><circle cx="150.7" cy="153.0" r="1.4"/><circle cx="67.2" cy="282.1" r="1.4"/><circle cx="153.2" cy="162.0" r="1.4"/><circle cx="95.0" cy="229.8" r="1.4"/><circle cx="102.3" cy="124.3" r="1.4"/><circle cx="68.9" cy="194.8" r="1.4"/><circle cx="99.6" cy="241.8" r="1.4"/><circle cx="153.9" cy="160.4" r="1.4"/><circle cx="124.0" cy="200.5" r="1.4"/><circle cx="81.6" cy="259.2" r="1.4"/><circle cx="169.8" cy="148.9" r="1.4"/><circle cx="76.8" cy="256.3" r="1.4"/><circle cx="123.0" cy="184.1" r="1.4"/><circle cx="107.0" cy="237.1" r="1.4"/><circle cx="128.7" cy="203.5" r="1.4"/><circle cx="64.8" cy="253.3" r="1.4"/><circle cx="66.4" cy="177.9" r="1.4"/><circle cx="81.3" cy="268.0" r="1.4"/><circle cx="85.4" cy="241.8" r="1.4"/><circle cx="79.8" cy="233.3" r="1.4"/><circle cx="82.4" cy="140.3" r="1.4"/><circle cx="118.9" cy="172.2" r="1.4"/><circle cx="78.5" cy="272.4" r="1.4"/><circle cx="63.6" cy="289.1" r="1.4"/><circle cx="121.7" cy="182.9" r="1.4"/><circle cx="160.1" cy="178.0" r="1.4"/><circle cx="86.8" cy="257.2" r="1.4"/><circle cx="89.1" cy="208.2" r="1.4"/><circle cx="115.6" cy="148.1" r="1.4"/><circle cx="184.3" cy="147.4" r="1.4"/><circle cx="108.7" cy="147.4" r="1.4"/><circle cx="133.7" cy="188.0" r="1.4"/><circle cx="94.6" cy="187.4" r="1.4"/><circle cx="66.4" cy="220.4" r="1.4"/><circle cx="155.2" cy="145.8" r="1.4"/><circle cx="102.7" cy="232.2" r="1.4"/><circle cx="139.8" cy="200.8" r="1.4"/><circle cx="78.5" cy="210.7" r="1.4"/><circle cx="116.8" cy="220.9" r="1.4"/><circle cx="104.9" cy="148.3" r="1.4"/><circle cx="111.6" cy="157.6" r="1.4"/><circle cx="82.8" cy="127.2" r="1.4"/><circle cx="96.1" cy="238.4" r="1.4"/><circle cx="109.0" cy="143.2" r="1.4"/><circle cx="68.6" cy="279.9" r="1.4"/><circle cx="66.7" cy="183.9" r="1.4"/><circle cx="69.1" cy="278.0" r="1.4"/><circle cx="64.0" cy="286.0" r="1.4"/><circle cx="143.7" cy="163.2" r="1.4"/><circle cx="172.0" cy="141.3" r="1.4"/><circle cx="93.9" cy="220.1" r="1.4"/><circle cx="113.3" cy="229.2" r="1.4"/><circle cx="119.3" cy="226.7" r="1.4"/><circle cx="146.8" cy="158.6" r="1.4"/><circle cx="69.3" cy="224.8" r="1.4"/><circle cx="85.8" cy="256.3" r="1.4"/><circle cx="64.9" cy="269.9" r="1.4"/><circle cx="138.6" cy="195.6" r="1.4"/><circle cx="67.0" cy="226.9" r="1.4"/><circle cx="64.1" cy="291.2" r="1.4"/><circle cx="140.4" cy="191.1" r="1.4"/><circle cx="81.9" cy="209.9" r="1.4"/><circle cx="106.0" cy="203.9" r="1.4"/><circle cx="101.4" cy="133.0" r="1.4"/><circle cx="122.9" cy="146.6" r="1.4"/><circle cx="127.2" cy="122.4" r="1.4"/><circle cx="97.9" cy="216.2" r="1.4"/><circle cx="104.5" cy="165.9" r="1.4"/><circle cx="122.1" cy="195.2" r="1.4"/><circle cx="169.0" cy="130.4" r="1.4"/><circle cx="93.2" cy="231.8" r="1.4"/><circle cx="83.9" cy="257.8" r="1.4"/><circle cx="95.1" cy="241.9" r="1.4"/><circle cx="90.5" cy="254.8" r="1.4"/><circle cx="111.3" cy="153.3" r="1.4"/><circle cx="96.9" cy="251.0" r="1.4"/><circle cx="89.8" cy="230.3" r="1.4"/><circle cx="166.9" cy="140.5" r="1.4"/><circle cx="67.5" cy="216.4" r="1.4"/><circle cx="109.3" cy="166.5" r="1.4"/><circle cx="79.7" cy="119.4" r="1.4"/><circle cx="137.0" cy="191.1" r="1.4"/><circle cx="114.4" cy="207.7" r="1.4"/><circle cx="116.3" cy="212.8" r="1.4"/><circle cx="117.6" cy="202.2" r="1.4"/><circle cx="112.2" cy="229.5" r="1.4"/><circle cx="86.4" cy="148.1" r="1.4"/><circle cx="116.3" cy="209.4" r="1.4"/><circle cx="84.5" cy="184.1" r="1.4"/><circle cx="90.2" cy="132.3" r="1.4"/><circle cx="110.7" cy="172.0" r="1.4"/><circle cx="120.3" cy="214.2" r="1.4"/><circle cx="114.0" cy="227.1" r="1.4"/><circle cx="84.6" cy="255.4" r="1.4"/><circle cx="121.5" cy="221.2" r="1.4"/><circle cx="107.1" cy="144.8" r="1.4"/><circle cx="112.9" cy="220.4" r="1.4"/><circle cx="143.1" cy="201.7" r="1.4"/><circle cx="108.3" cy="153.2" r="1.4"/><circle cx="163.6" cy="135.4" r="1.4"/><circle cx="73.4" cy="186.4" r="1.4"/><circle cx="156.0" cy="157.9" r="1.4"/><circle cx="74.7" cy="264.8" r="1.4"/><circle cx="78.3" cy="221.3" r="1.4"/><circle cx="99.8" cy="210.1" r="1.4"/><circle cx="102.1" cy="245.4" r="1.4"/><circle cx="90.6" cy="213.1" r="1.4"/><circle cx="123.1" cy="131.9" r="1.4"/><circle cx="118.0" cy="209.9" r="1.4"/><circle cx="93.1" cy="208.6" r="1.4"/><circle cx="139.3" cy="129.1" r="1.4"/><circle cx="91.4" cy="238.3" r="1.4"/><circle cx="82.4" cy="172.0" r="1.4"/><circle cx="80.2" cy="135.6" r="1.4"/><circle cx="129.7" cy="201.0" r="1.4"/><circle cx="88.1" cy="210.0" r="1.4"/><circle cx="79.1" cy="144.6" r="1.4"/><circle cx="133.6" cy="201.8" r="1.4"/><circle cx="74.6" cy="274.2" r="1.4"/><circle cx="158.8" cy="155.7" r="1.4"/><circle cx="74.6" cy="218.6" r="1.4"/><circle cx="124.2" cy="178.7" r="1.4"/><circle cx="75.0" cy="146.9" r="1.4"/><circle cx="110.8" cy="224.5" r="1.4"/><circle cx="153.7" cy="136.6" r="1.4"/><circle cx="68.9" cy="251.8" r="1.4"/><circle cx="92.6" cy="259.1" r="1.4"/><circle cx="125.4" cy="179.2" r="1.4"/><circle cx="63.5" cy="139.9" r="1.4"/><circle cx="116.5" cy="180.7" r="1.4"/><circle cx="91.4" cy="198.5" r="1.4"/><circle cx="80.5" cy="145.6" r="1.4"/><circle cx="78.2" cy="260.4" r="1.4"/><circle cx="79.7" cy="258.2" r="1.4"/><circle cx="193.8" cy="145.5" r="1.4"/><circle cx="89.0" cy="205.3" r="1.4"/><circle cx="78.0" cy="264.6" r="1.4"/><circle cx="113.4" cy="184.8" r="1.4"/><circle cx="79.9" cy="201.3" r="1.4"/><circle cx="77.0" cy="254.2" r="1.4"/><circle cx="74.9" cy="167.5" r="1.4"/><circle cx="71.4" cy="278.7" r="1.4"/><circle cx="169.4" cy="150.0" r="1.4"/><circle cx="110.7" cy="156.9" r="1.4"/><circle cx="97.8" cy="231.4" r="1.4"/><circle cx="141.7" cy="153.3" r="1.4"/><circle cx="111.2" cy="165.9" r="1.4"/><circle cx="73.4" cy="164.3" r="1.4"/><circle cx="80.7" cy="246.5" r="1.4"/><circle cx="137.8" cy="177.5" r="1.4"/><circle cx="90.6" cy="160.6" r="1.4"/><circle cx="81.9" cy="263.3" r="1.4"/><circle cx="111.4" cy="144.6" r="1.4"/><circle cx="144.7" cy="140.7" r="1.4"/><circle cx="153.7" cy="143.3" r="1.4"/><circle cx="112.8" cy="167.0" r="1.4"/><circle cx="122.7" cy="149.6" r="1.4"/><circle cx="118.0" cy="191.8" r="1.4"/><circle cx="134.0" cy="154.2" r="1.4"/><circle cx="72.8" cy="255.9" r="1.4"/><circle cx="76.5" cy="154.2" r="1.4"/><circle cx="64.0" cy="260.4" r="1.4"/><circle cx="180.2" cy="130.4" r="1.4"/><circle cx="78.1" cy="244.3" r="1.4"/><circle cx="112.1" cy="189.5" r="1.4"/><circle cx="123.3" cy="220.0" r="1.4"/><circle cx="69.2" cy="209.4" r="1.4"/><circle cx="142.1" cy="203.3" r="1.4"/><circle cx="73.8" cy="248.7" r="1.4"/><circle cx="96.2" cy="227.5" r="1.4"/><circle cx="91.6" cy="239.9" r="1.4"/><circle cx="70.0" cy="270.7" r="1.4"/><circle cx="99.5" cy="165.7" r="1.4"/><circle cx="171.4" cy="158.5" r="1.4"/><circle cx="147.3" cy="156.7" r="1.4"/><circle cx="83.3" cy="147.3" r="1.4"/><circle cx="132.6" cy="132.6" r="1.4"/><circle cx="129.7" cy="149.9" r="1.4"/><circle cx="80.4" cy="171.1" r="1.4"/><circle cx="63.6" cy="287.1" r="1.4"/><circle cx="191.5" cy="148.9" r="1.4"/><circle cx="111.6" cy="230.3" r="1.4"/><circle cx="97.0" cy="166.3" r="1.4"/><circle cx="153.5" cy="177.6" r="1.4"/><circle cx="102.1" cy="244.0" r="1.4"/><circle cx="94.2" cy="236.0" r="1.4"/><circle cx="98.2" cy="193.8" r="1.4"/><circle cx="165.5" cy="128.0" r="1.4"/><circle cx="158.7" cy="158.8" r="1.4"/><circle cx="163.7" cy="161.6" r="1.4"/><circle cx="100.7" cy="136.9" r="1.4"/><circle cx="69.0" cy="184.4" r="1.4"/><circle cx="98.9" cy="241.4" r="1.4"/><circle cx="80.8" cy="235.7" r="1.4"/><circle cx="84.9" cy="171.2" r="1.4"/><circle cx="165.3" cy="170.2" r="1.4"/><circle cx="65.3" cy="133.5" r="1.4"/><circle cx="94.0" cy="174.4" r="1.4"/><circle cx="70.7" cy="255.9" r="1.4"/><circle cx="119.2" cy="185.9" r="1.4"/><circle cx="106.5" cy="169.0" r="1.4"/><circle cx="81.8" cy="261.3" r="1.4"/><circle cx="185.6" cy="130.2" r="1.4"/><circle cx="79.0" cy="257.8" r="1.4"/><circle cx="75.0" cy="221.1" r="1.4"/><circle cx="67.6" cy="193.5" r="1.4"/><circle cx="128.6" cy="164.6" r="1.4"/><circle cx="78.8" cy="135.3" r="1.4"/><circle cx="101.7" cy="215.5" r="1.4"/><circle cx="133.8" cy="160.8" r="1.4"/><circle cx="105.7" cy="201.9" r="1.4"/><circle cx="109.4" cy="171.1" r="1.4"/><circle cx="134.4" cy="205.4" r="1.4"/><circle cx="145.9" cy="147.2" r="1.4"/><circle cx="112.6" cy="178.4" r="1.4"/><circle cx="70.6" cy="218.9" r="1.4"/><circle cx="77.3" cy="215.3" r="1.4"/><circle cx="115.8" cy="180.0" r="1.4"/><circle cx="126.2" cy="208.1" r="1.4"/><circle cx="106.3" cy="240.1" r="1.4"/><circle cx="111.9" cy="145.1" r="1.4"/><circle cx="81.0" cy="195.8" r="1.4"/><circle cx="64.8" cy="199.4" r="1.4"/><circle cx="73.9" cy="209.0" r="1.4"/><circle cx="117.2" cy="198.6" r="1.4"/><circle cx="92.4" cy="152.2" r="1.4"/><circle cx="109.3" cy="169.6" r="1.4"/><circle cx="143.8" cy="202.0" r="1.4"/><circle cx="161.3" cy="131.6" r="1.4"/><circle cx="74.3" cy="216.1" r="1.4"/><circle cx="111.4" cy="215.7" r="1.4"/><circle cx="122.0" cy="134.2" r="1.4"/><circle cx="155.7" cy="148.6" r="1.4"/><circle cx="86.0" cy="159.6" r="1.4"/><circle cx="81.2" cy="231.6" r="1.4"/><circle cx="98.5" cy="241.3" r="1.4"/><circle cx="66.6" cy="205.8" r="1.4"/><circle cx="155.1" cy="165.1" r="1.4"/><circle cx="139.9" cy="130.5" r="1.4"/><circle cx="121.0" cy="166.0" r="1.4"/><circle cx="79.1" cy="138.6" r="1.4"/><circle cx="139.4" cy="195.7" r="1.4"/><circle cx="147.4" cy="169.2" r="1.4"/><circle cx="68.9" cy="205.2" r="1.4"/><circle cx="70.8" cy="254.4" r="1.4"/><circle cx="102.1" cy="229.7" r="1.4"/><circle cx="71.9" cy="283.2" r="1.4"/><circle cx="151.8" cy="193.3" r="1.4"/><circle cx="90.7" cy="234.1" r="1.4"/><circle cx="114.9" cy="147.0" r="1.4"/><circle cx="111.0" cy="224.0" r="1.4"/><circle cx="77.4" cy="193.0" r="1.4"/><circle cx="121.1" cy="163.5" r="1.4"/><circle cx="74.8" cy="269.9" r="1.4"/><circle cx="88.5" cy="258.1" r="1.4"/><circle cx="118.9" cy="144.8" r="1.4"/><circle cx="76.0" cy="248.0" r="1.4"/><circle cx="132.9" cy="164.8" r="1.4"/><circle cx="131.7" cy="216.0" r="1.4"/><circle cx="84.9" cy="186.8" r="1.4"/><circle cx="96.5" cy="211.8" r="1.4"/><circle cx="122.0" cy="135.6" r="1.4"/><circle cx="112.4" cy="177.5" r="1.4"/><circle cx="130.5" cy="171.9" r="1.4"/><circle cx="77.1" cy="185.9" r="1.4"/><circle cx="95.2" cy="255.3" r="1.4"/><circle cx="103.2" cy="194.0" r="1.4"/><circle cx="105.9" cy="164.5" r="1.4"/><circle cx="104.2" cy="141.7" r="1.4"/><circle cx="80.8" cy="234.5" r="1.4"/><circle cx="73.3" cy="234.6" r="1.4"/><circle cx="85.3" cy="158.6" r="1.4"/><circle cx="137.2" cy="156.3" r="1.4"/><circle cx="200.1" cy="134.4" r="1.4"/><circle cx="68.8" cy="142.3" r="1.4"/><circle cx="88.1" cy="221.4" r="1.4"/><circle cx="142.9" cy="166.5" r="1.4"/><circle cx="112.8" cy="195.1" r="1.4"/><circle cx="78.0" cy="254.2" r="1.4"/><circle cx="81.8" cy="257.3" r="1.4"/><circle cx="89.8" cy="207.1" r="1.4"/><circle cx="99.4" cy="222.2" r="1.4"/><circle cx="79.9" cy="195.5" r="1.4"/><circle cx="172.2" cy="169.5" r="1.4"/><circle cx="81.9" cy="242.5" r="1.4"/><circle cx="201.7" cy="137.1" r="1.4"/><circle cx="124.0" cy="223.0" r="1.4"/><circle cx="136.3" cy="202.4" r="1.4"/><circle cx="100.8" cy="172.5" r="1.4"/><circle cx="126.8" cy="157.5" r="1.4"/><circle cx="121.4" cy="170.1" r="1.4"/><circle cx="72.5" cy="174.2" r="1.4"/><circle cx="164.3" cy="165.0" r="1.4"/><circle cx="81.6" cy="156.7" r="1.4"/><circle cx="153.2" cy="191.6" r="1.4"/><circle cx="135.6" cy="181.2" r="1.4"/><circle cx="109.8" cy="119.2" r="1.4"/><circle cx="71.8" cy="159.1" r="1.4"/><circle cx="136.5" cy="183.3" r="1.4"/><circle cx="91.8" cy="211.9" r="1.4"/><circle cx="149.9" cy="172.8" r="1.4"/><circle cx="110.8" cy="139.7" r="1.4"/><circle cx="127.8" cy="207.7" r="1.4"/><circle cx="81.4" cy="240.2" r="1.4"/><circle cx="105.4" cy="201.0" r="1.4"/><circle cx="151.5" cy="142.5" r="1.4"/><circle cx="117.0" cy="132.2" r="1.4"/><circle cx="67.7" cy="277.5" r="1.4"/><circle cx="110.0" cy="174.0" r="1.4"/><circle cx="79.0" cy="253.2" r="1.4"/><circle cx="151.8" cy="166.5" r="1.4"/><circle cx="97.2" cy="211.4" r="1.4"/><circle cx="73.3" cy="145.1" r="1.4"/><circle cx="127.4" cy="152.0" r="1.4"/><circle cx="75.1" cy="179.5" r="1.4"/><circle cx="65.6" cy="198.6" r="1.4"/><circle cx="106.4" cy="207.0" r="1.4"/><circle cx="158.7" cy="149.7" r="1.4"/><circle cx="123.0" cy="201.8" r="1.4"/><circle cx="67.4" cy="194.0" r="1.4"/><circle cx="132.4" cy="203.2" r="1.4"/><circle cx="88.7" cy="207.1" r="1.4"/><circle cx="93.0" cy="206.8" r="1.4"/><circle cx="72.8" cy="247.2" r="1.4"/><circle cx="158.7" cy="149.2" r="1.4"/><circle cx="113.7" cy="202.9" r="1.4"/><circle cx="94.9" cy="149.4" r="1.4"/><circle cx="74.3" cy="204.4" r="1.4"/><circle cx="67.6" cy="229.6" r="1.4"/><circle cx="95.4" cy="201.4" r="1.4"/><circle cx="91.4" cy="184.0" r="1.4"/><circle cx="80.2" cy="213.9" r="1.4"/><circle cx="87.3" cy="170.4" r="1.4"/><circle cx="80.7" cy="235.3" r="1.4"/><circle cx="107.3" cy="183.1" r="1.4"/><circle cx="166.2" cy="175.5" r="1.4"/><circle cx="72.7" cy="261.4" r="1.4"/><circle cx="71.5" cy="126.1" r="1.4"/><circle cx="81.9" cy="122.4" r="1.4"/><circle cx="110.7" cy="139.8" r="1.4"/><circle cx="153.3" cy="181.6" r="1.4"/><circle cx="158.4" cy="181.1" r="1.4"/><circle cx="106.8" cy="234.0" r="1.4"/><circle cx="99.1" cy="213.4" r="1.4"/><circle cx="126.5" cy="204.8" r="1.4"/><circle cx="163.8" cy="128.4" r="1.4"/><circle cx="117.4" cy="192.4" r="1.4"/><circle cx="69.7" cy="211.1" r="1.4"/><circle cx="81.8" cy="132.5" r="1.4"/><circle cx="106.6" cy="229.8" r="1.4"/><circle cx="116.5" cy="215.2" r="1.4"/><circle cx="142.9" cy="156.0" r="1.4"/><circle cx="182.6" cy="142.0" r="1.4"/><circle cx="122.6" cy="207.3" r="1.4"/><circle cx="73.8" cy="227.8" r="1.4"/><circle cx="82.5" cy="265.6" r="1.4"/><circle cx="109.2" cy="226.5" r="1.4"/><circle cx="82.8" cy="261.2" r="1.4"/><circle cx="78.6" cy="197.0" r="1.4"/><circle cx="107.6" cy="197.6" r="1.4"/><circle cx="90.6" cy="235.6" r="1.4"/><circle cx="106.6" cy="238.8" r="1.4"/><circle cx="66.1" cy="262.8" r="1.4"/><circle cx="167.7" cy="121.7" r="1.4"/><circle cx="75.2" cy="274.7" r="1.4"/><circle cx="92.7" cy="128.6" r="1.4"/><circle cx="67.3" cy="151.7" r="1.4"/><circle cx="151.6" cy="172.5" r="1.4"/><circle cx="116.3" cy="195.2" r="1.4"/><circle cx="184.8" cy="149.1" r="1.4"/><circle cx="75.8" cy="171.1" r="1.4"/><circle cx="115.6" cy="141.3" r="1.4"/><circle cx="96.2" cy="154.7" r="1.4"/><circle cx="68.6" cy="167.6" r="1.4"/><circle cx="111.7" cy="173.6" r="1.4"/><circle cx="161.3" cy="131.4" r="1.4"/><circle cx="155.4" cy="185.0" r="1.4"/><circle cx="132.5" cy="173.6" r="1.4"/><circle cx="109.6" cy="190.8" r="1.4"/><circle cx="76.8" cy="208.4" r="1.4"/><circle cx="70.5" cy="159.7" r="1.4"/><circle cx="84.9" cy="194.7" r="1.4"/><circle cx="204.3" cy="132.2" r="1.4"/><circle cx="64.1" cy="249.0" r="1.4"/><circle cx="77.7" cy="170.0" r="1.4"/><circle cx="97.4" cy="150.5" r="1.4"/><circle cx="90.9" cy="197.3" r="1.4"/><circle cx="89.3" cy="255.7" r="1.4"/><circle cx="144.0" cy="201.3" r="1.4"/><circle cx="109.7" cy="225.3" r="1.4"/><circle cx="78.7" cy="257.7" r="1.4"/><circle cx="93.0" cy="257.2" r="1.4"/><circle cx="70.9" cy="208.2" r="1.4"/><circle cx="118.0" cy="229.0" r="1.4"/><circle cx="66.4" cy="238.4" r="1.4"/><circle cx="83.4" cy="235.4" r="1.4"/><circle cx="118.7" cy="199.0" r="1.4"/><circle cx="67.2" cy="251.7" r="1.4"/><circle cx="109.1" cy="170.8" r="1.4"/><circle cx="119.2" cy="187.2" r="1.4"/><circle cx="145.0" cy="175.4" r="1.4"/><circle cx="207.0" cy="120.7" r="1.4"/><circle cx="91.9" cy="170.3" r="1.4"/><circle cx="74.9" cy="264.4" r="1.4"/><circle cx="88.4" cy="232.9" r="1.4"/><circle cx="174.0" cy="167.4" r="1.4"/><circle cx="83.4" cy="253.2" r="1.4"/><circle cx="150.9" cy="179.6" r="1.4"/><circle cx="106.9" cy="214.7" r="1.4"/><circle cx="185.5" cy="123.6" r="1.4"/><circle cx="72.4" cy="269.4" r="1.4"/><circle cx="141.7" cy="192.5" r="1.4"/><circle cx="78.9" cy="191.5" r="1.4"/><circle cx="91.5" cy="249.4" r="1.4"/><circle cx="194.8" cy="132.0" r="1.4"/><circle cx="115.4" cy="228.9" r="1.4"/><circle cx="91.2" cy="255.6" r="1.4"/><circle cx="89.8" cy="251.8" r="1.4"/><circle cx="150.0" cy="180.7" r="1.4"/><circle cx="128.8" cy="189.2" r="1.4"/><circle cx="132.8" cy="163.6" r="1.4"/><circle cx="107.0" cy="213.9" r="1.4"/><circle cx="98.2" cy="234.1" r="1.4"/><circle cx="210.0" cy="115.8" r="1.4"/><circle cx="127.3" cy="189.9" r="1.4"/><circle cx="118.9" cy="201.6" r="1.4"/><circle cx="69.4" cy="226.6" r="1.4"/><circle cx="112.2" cy="196.2" r="1.4"/><circle cx="115.8" cy="175.0" r="1.4"/><circle cx="84.9" cy="180.6" r="1.4"/><circle cx="116.1" cy="176.7" r="1.4"/><circle cx="86.2" cy="213.2" r="1.4"/><circle cx="152.7" cy="181.7" r="1.4"/><circle cx="82.0" cy="131.3" r="1.4"/><circle cx="70.4" cy="203.1" r="1.4"/><circle cx="80.7" cy="269.1" r="1.4"/><circle cx="66.8" cy="245.5" r="1.4"/><circle cx="161.5" cy="174.5" r="1.4"/><circle cx="64.2" cy="218.8" r="1.4"/><circle cx="138.2" cy="148.6" r="1.4"/><circle cx="66.6" cy="169.4" r="1.4"/><circle cx="69.0" cy="203.9" r="1.4"/><circle cx="111.1" cy="171.2" r="1.4"/><circle cx="76.5" cy="276.6" r="1.4"/><circle cx="65.1" cy="241.7" r="1.4"/><circle cx="83.5" cy="211.9" r="1.4"/><circle cx="65.4" cy="218.4" r="1.4"/><circle cx="97.0" cy="159.3" r="1.4"/><circle cx="111.2" cy="213.0" r="1.4"/><circle cx="75.1" cy="256.7" r="1.4"/><circle cx="82.2" cy="209.7" r="1.4"/><circle cx="79.4" cy="247.4" r="1.4"/><circle cx="86.7" cy="152.0" r="1.4"/><circle cx="77.8" cy="149.9" r="1.4"/><circle cx="97.9" cy="182.9" r="1.4"/><circle cx="81.3" cy="253.0" r="1.4"/><circle cx="81.7" cy="147.2" r="1.4"/><circle cx="157.7" cy="175.6" r="1.4"/><circle cx="82.2" cy="207.7" r="1.4"/><circle cx="110.9" cy="215.9" r="1.4"/><circle cx="158.9" cy="139.2" r="1.4"/><circle cx="179.6" cy="160.2" r="1.4"/><circle cx="101.8" cy="220.0" r="1.4"/><circle cx="107.7" cy="158.6" r="1.4"/><circle cx="93.3" cy="224.8" r="1.4"/><circle cx="183.4" cy="129.3" r="1.4"/><circle cx="77.3" cy="162.9" r="1.4"/><circle cx="84.1" cy="206.6" r="1.4"/><circle cx="72.3" cy="163.2" r="1.4"/><circle cx="111.2" cy="194.1" r="1.4"/><circle cx="174.7" cy="116.0" r="1.4"/><circle cx="70.8" cy="136.0" r="1.4"/><circle cx="139.4" cy="190.1" r="1.4"/><circle cx="110.3" cy="190.4" r="1.4"/><circle cx="97.0" cy="171.1" r="1.4"/><circle cx="67.9" cy="207.5" r="1.4"/><circle cx="81.8" cy="127.4" r="1.4"/><circle cx="193.3" cy="117.1" r="1.4"/><circle cx="79.8" cy="265.5" r="1.4"/><circle cx="120.8" cy="172.9" r="1.4"/><circle cx="110.6" cy="160.3" r="1.4"/><circle cx="69.6" cy="188.2" r="1.4"/><circle cx="103.1" cy="217.9" r="1.4"/><circle cx="67.1" cy="164.0" r="1.4"/><circle cx="118.1" cy="167.0" r="1.4"/><circle cx="106.1" cy="175.8" r="1.4"/><circle cx="79.9" cy="263.6" r="1.4"/><circle cx="87.1" cy="163.6" r="1.4"/><circle cx="151.5" cy="176.8" r="1.4"/><circle cx="102.7" cy="202.3" r="1.4"/><circle cx="162.8" cy="121.5" r="1.4"/><circle cx="153.5" cy="121.1" r="1.4"/><circle cx="70.2" cy="230.3" r="1.4"/><circle cx="103.2" cy="248.1" r="1.4"/><circle cx="101.6" cy="181.6" r="1.4"/><circle cx="66.2" cy="138.1" r="1.4"/><circle cx="101.3" cy="181.7" r="1.4"/><circle cx="90.6" cy="245.0" r="1.4"/><circle cx="140.2" cy="204.3" r="1.4"/><circle cx="95.2" cy="239.8" r="1.4"/><circle cx="90.4" cy="189.3" r="1.4"/><circle cx="170.4" cy="145.9" r="1.4"/><circle cx="74.1" cy="244.0" r="1.4"/><circle cx="137.4" cy="116.0" r="1.4"/><circle cx="106.2" cy="156.7" r="1.4"/><circle cx="141.4" cy="182.7" r="1.4"/><circle cx="78.0" cy="173.2" r="1.4"/><circle cx="84.8" cy="254.8" r="1.4"/><circle cx="112.4" cy="144.6" r="1.4"/><circle cx="118.0" cy="201.2" r="1.4"/><circle cx="179.2" cy="160.3" r="1.4"/><circle cx="104.7" cy="155.5" r="1.4"/><circle cx="131.3" cy="210.7" r="1.4"/><circle cx="110.6" cy="160.8" r="1.4"/><circle cx="139.4" cy="194.9" r="1.4"/><circle cx="137.5" cy="165.8" r="1.4"/><circle cx="63.3" cy="162.6" r="1.4"/><circle cx="149.6" cy="178.9" r="1.4"/><circle cx="85.6" cy="134.9" r="1.4"/><circle cx="145.9" cy="164.1" r="1.4"/><circle cx="71.5" cy="246.2" r="1.4"/><circle cx="96.0" cy="119.3" r="1.4"/><circle cx="112.4" cy="207.7" r="1.4"/><circle cx="142.0" cy="199.4" r="1.4"/><circle cx="137.9" cy="147.3" r="1.4"/><circle cx="96.4" cy="199.4" r="1.4"/><circle cx="108.1" cy="201.4" r="1.4"/><circle cx="74.7" cy="193.4" r="1.4"/><circle cx="63.1" cy="217.2" r="1.4"/><circle cx="92.6" cy="177.6" r="1.4"/><circle cx="74.6" cy="265.7" r="1.4"/><circle cx="119.6" cy="220.5" r="1.4"/><circle cx="134.8" cy="131.3" r="1.4"/><circle cx="111.7" cy="219.1" r="1.4"/><circle cx="106.6" cy="239.3" r="1.4"/><circle cx="92.5" cy="203.2" r="1.4"/><circle cx="98.2" cy="223.9" r="1.4"/><circle cx="89.4" cy="225.2" r="1.4"/><circle cx="95.6" cy="211.1" r="1.4"/><circle cx="63.4" cy="160.5" r="1.4"/><circle cx="106.1" cy="234.5" r="1.4"/><circle cx="107.1" cy="121.6" r="1.4"/><circle cx="93.9" cy="183.8" r="1.4"/><circle cx="151.1" cy="167.3" r="1.4"/><circle cx="71.5" cy="248.8" r="1.4"/><circle cx="99.2" cy="128.9" r="1.4"/><circle cx="131.8" cy="141.7" r="1.4"/><circle cx="107.9" cy="146.2" r="1.4"/><circle cx="80.8" cy="230.4" r="1.4"/><circle cx="113.3" cy="230.6" r="1.4"/><circle cx="109.5" cy="163.4" r="1.4"/><circle cx="81.8" cy="234.4" r="1.4"/><circle cx="84.7" cy="132.4" r="1.4"/><circle cx="108.3" cy="170.5" r="1.4"/><circle cx="79.1" cy="228.2" r="1.4"/><circle cx="123.0" cy="205.2" r="1.4"/><circle cx="77.7" cy="187.8" r="1.4"/><circle cx="65.9" cy="270.7" r="1.4"/><circle cx="161.6" cy="166.3" r="1.4"/><circle cx="123.3" cy="130.2" r="1.4"/><circle cx="116.0" cy="150.4" r="1.4"/><circle cx="119.8" cy="149.2" r="1.4"/><circle cx="133.1" cy="118.2" r="1.4"/><circle cx="126.8" cy="175.1" r="1.4"/><circle cx="125.6" cy="214.3" r="1.4"/><circle cx="114.2" cy="197.9" r="1.4"/><circle cx="83.7" cy="219.9" r="1.4"/><circle cx="77.1" cy="237.0" r="1.4"/><circle cx="121.6" cy="163.5" r="1.4"/><circle cx="189.4" cy="131.6" r="1.4"/><circle cx="75.1" cy="270.3" r="1.4"/><circle cx="84.6" cy="250.5" r="1.4"/><circle cx="126.7" cy="152.3" r="1.4"/><circle cx="130.0" cy="203.7" r="1.4"/><circle cx="158.6" cy="117.4" r="1.4"/><circle cx="65.4" cy="229.6" r="1.4"/><circle cx="103.6" cy="173.0" r="1.4"/><circle cx="69.8" cy="269.6" r="1.4"/><circle cx="133.8" cy="151.2" r="1.4"/><circle cx="68.3" cy="243.7" r="1.4"/><circle cx="149.4" cy="155.9" r="1.4"/><circle cx="90.3" cy="158.4" r="1.4"/><circle cx="162.4" cy="173.9" r="1.4"/><circle cx="65.3" cy="188.3" r="1.4"/><circle cx="126.4" cy="163.1" r="1.4"/><circle cx="67.1" cy="283.2" r="1.4"/><circle cx="144.5" cy="195.4" r="1.4"/><circle cx="162.9" cy="122.5" r="1.4"/><circle cx="67.9" cy="261.8" r="1.4"/><circle cx="85.1" cy="180.7" r="1.4"/><circle cx="87.0" cy="237.4" r="1.4"/><circle cx="83.0" cy="252.1" r="1.4"/><circle cx="95.4" cy="189.6" r="1.4"/><circle cx="119.7" cy="168.3" r="1.4"/><circle cx="68.9" cy="154.2" r="1.4"/><circle cx="84.3" cy="252.7" r="1.4"/><circle cx="92.9" cy="198.8" r="1.4"/><circle cx="89.3" cy="232.0" r="1.4"/><circle cx="63.8" cy="179.4" r="1.4"/><circle cx="81.1" cy="213.3" r="1.4"/><circle cx="98.9" cy="249.2" r="1.4"/><circle cx="103.4" cy="128.3" r="1.4"/><circle cx="113.6" cy="190.9" r="1.4"/><circle cx="152.4" cy="121.2" r="1.4"/><circle cx="76.0" cy="203.5" r="1.4"/><circle cx="92.0" cy="175.0" r="1.4"/><circle cx="159.2" cy="157.7" r="1.4"/><circle cx="102.4" cy="224.1" r="1.4"/><circle cx="65.0" cy="140.3" r="1.4"/><circle cx="71.9" cy="212.8" r="1.4"/><circle cx="72.0" cy="231.1" r="1.4"/><circle cx="114.5" cy="196.4" r="1.4"/><circle cx="101.9" cy="183.6" r="1.4"/><circle cx="119.4" cy="146.1" r="1.4"/><circle cx="84.4" cy="232.1" r="1.4"/><circle cx="96.9" cy="246.9" r="1.4"/><circle cx="132.6" cy="166.7" r="1.4"/><circle cx="144.8" cy="127.4" r="1.4"/><circle cx="105.8" cy="154.9" r="1.4"/><circle cx="120.9" cy="192.9" r="1.4"/><circle cx="66.1" cy="170.9" r="1.4"/><circle cx="106.2" cy="157.3" r="1.4"/><circle cx="185.7" cy="154.7" r="1.4"/><circle cx="126.8" cy="181.4" r="1.4"/><circle cx="69.2" cy="230.6" r="1.4"/><circle cx="130.3" cy="150.4" r="1.4"/><circle cx="103.0" cy="173.5" r="1.4"/><circle cx="72.8" cy="232.0" r="1.4"/><circle cx="129.9" cy="193.6" r="1.4"/><circle cx="92.7" cy="250.1" r="1.4"/><circle cx="87.1" cy="139.5" r="1.4"/><circle cx="73.9" cy="270.8" r="1.4"/><circle cx="165.6" cy="159.3" r="1.4"/><circle cx="109.8" cy="184.9" r="1.4"/><circle cx="87.6" cy="183.1" r="1.4"/><circle cx="77.4" cy="261.5" r="1.4"/><circle cx="124.1" cy="141.0" r="1.4"/><circle cx="64.2" cy="240.3" r="1.4"/><circle cx="141.0" cy="165.7" r="1.4"/><circle cx="101.0" cy="208.5" r="1.4"/><circle cx="119.8" cy="148.3" r="1.4"/><circle cx="104.9" cy="222.6" r="1.4"/><circle cx="64.4" cy="264.0" r="1.4"/><circle cx="125.5" cy="173.3" r="1.4"/><circle cx="63.5" cy="257.5" r="1.4"/><circle cx="129.0" cy="202.3" r="1.4"/><circle cx="70.5" cy="135.2" r="1.4"/><circle cx="98.1" cy="192.1" r="1.4"/><circle cx="74.8" cy="138.9" r="1.4"/><circle cx="95.1" cy="139.8" r="1.4"/><circle cx="86.4" cy="147.5" r="1.4"/><circle cx="84.9" cy="215.8" r="1.4"/><circle cx="95.5" cy="238.3" r="1.4"/><circle cx="67.1" cy="153.1" r="1.4"/><circle cx="106.1" cy="243.8" r="1.4"/><circle cx="135.8" cy="209.1" r="1.4"/><circle cx="110.0" cy="123.1" r="1.4"/><circle cx="78.5" cy="203.0" r="1.4"/><circle cx="84.0" cy="185.9" r="1.4"/><circle cx="142.1" cy="199.1" r="1.4"/><circle cx="101.0" cy="189.8" r="1.4"/><circle cx="120.8" cy="172.3" r="1.4"/><circle cx="133.5" cy="202.4" r="1.4"/><circle cx="102.8" cy="229.2" r="1.4"/><circle cx="72.7" cy="198.8" r="1.4"/><circle cx="104.8" cy="214.4" r="1.4"/><circle cx="74.0" cy="206.9" r="1.4"/><circle cx="126.0" cy="207.5" r="1.4"/><circle cx="86.9" cy="210.7" r="1.4"/><circle cx="94.7" cy="165.3" r="1.4"/><circle cx="75.6" cy="251.4" r="1.4"/><circle cx="105.9" cy="221.8" r="1.4"/><circle cx="96.6" cy="201.4" r="1.4"/><circle cx="134.5" cy="157.2" r="1.4"/><circle cx="108.9" cy="233.1" r="1.4"/><circle cx="126.3" cy="176.0" r="1.4"/><circle cx="90.1" cy="203.4" r="1.4"/><circle cx="136.6" cy="182.5" r="1.4"/><circle cx="98.1" cy="238.0" r="1.4"/><circle cx="71.6" cy="248.5" r="1.4"/><circle cx="112.9" cy="157.7" r="1.4"/><circle cx="80.4" cy="221.7" r="1.4"/><circle cx="74.3" cy="187.0" r="1.4"/><circle cx="64.9" cy="158.5" r="1.4"/><circle cx="70.6" cy="184.2" r="1.4"/><circle cx="77.5" cy="239.3" r="1.4"/><circle cx="71.6" cy="176.6" r="1.4"/><circle cx="122.9" cy="209.8" r="1.4"/><circle cx="95.9" cy="148.2" r="1.4"/><circle cx="182.4" cy="146.8" r="1.4"/><circle cx="91.3" cy="170.3" r="1.4"/><circle cx="99.3" cy="152.5" r="1.4"/><circle cx="112.0" cy="161.4" r="1.4"/><circle cx="152.3" cy="121.1" r="1.4"/><circle cx="91.4" cy="159.0" r="1.4"/><circle cx="86.1" cy="154.2" r="1.4"/><circle cx="197.5" cy="118.0" r="1.4"/><circle cx="89.4" cy="226.2" r="1.4"/><circle cx="73.4" cy="229.4" r="1.4"/><circle cx="97.5" cy="238.9" r="1.4"/><circle cx="88.8" cy="194.7" r="1.4"/><circle cx="163.2" cy="130.9" r="1.4"/><circle cx="160.6" cy="162.0" r="1.4"/><circle cx="145.1" cy="156.3" r="1.4"/><circle cx="154.3" cy="167.2" r="1.4"/><circle cx="89.4" cy="227.1" r="1.4"/><circle cx="88.1" cy="220.7" r="1.4"/><circle cx="170.5" cy="150.6" r="1.4"/><circle cx="94.6" cy="210.7" r="1.4"/><circle cx="164.7" cy="141.4" r="1.4"/><circle cx="118.4" cy="162.1" r="1.4"/><circle cx="127.7" cy="213.3" r="1.4"/><circle cx="195.3" cy="136.4" r="1.4"/><circle cx="95.6" cy="201.5" r="1.4"/><circle cx="89.4" cy="215.2" r="1.4"/><circle cx="173.2" cy="130.3" r="1.4"/><circle cx="83.1" cy="171.8" r="1.4"/><circle cx="79.1" cy="268.6" r="1.4"/><circle cx="141.6" cy="177.5" r="1.4"/><circle cx="110.0" cy="221.3" r="1.4"/><circle cx="92.9" cy="245.0" r="1.4"/><circle cx="133.7" cy="187.6" r="1.4"/><circle cx="71.0" cy="280.7" r="1.4"/><circle cx="72.1" cy="247.6" r="1.4"/><circle cx="141.3" cy="182.2" r="1.4"/><circle cx="85.6" cy="248.5" r="1.4"/><circle cx="147.4" cy="164.4" r="1.4"/><circle cx="106.2" cy="198.8" r="1.4"/><circle cx="103.6" cy="193.4" r="1.4"/><circle cx="125.9" cy="203.5" r="1.4"/><circle cx="74.9" cy="172.1" r="1.4"/><circle cx="64.1" cy="204.8" r="1.4"/><circle cx="64.2" cy="217.9" r="1.4"/><circle cx="76.0" cy="207.7" r="1.4"/><circle cx="93.9" cy="191.5" r="1.4"/><circle cx="93.0" cy="253.1" r="1.4"/><circle cx="133.2" cy="194.5" r="1.4"/><circle cx="113.4" cy="200.2" r="1.4"/><circle cx="87.1" cy="143.6" r="1.4"/><circle cx="65.6" cy="135.6" r="1.4"/><circle cx="125.2" cy="172.8" r="1.4"/><circle cx="82.7" cy="218.4" r="1.4"/><circle cx="111.5" cy="158.3" r="1.4"/><circle cx="95.8" cy="131.1" r="1.4"/><circle cx="68.5" cy="197.8" r="1.4"/><circle cx="116.2" cy="173.1" r="1.4"/><circle cx="64.0" cy="269.9" r="1.4"/><circle cx="154.4" cy="158.3" r="1.4"/><circle cx="93.2" cy="153.0" r="1.4"/><circle cx="104.4" cy="157.9" r="1.4"/><circle cx="72.1" cy="269.6" r="1.4"/><circle cx="86.1" cy="168.5" r="1.4"/><circle cx="63.7" cy="178.5" r="1.4"/><circle cx="73.0" cy="146.8" r="1.4"/><circle cx="81.8" cy="212.1" r="1.4"/><circle cx="87.4" cy="188.8" r="1.4"/><circle cx="142.4" cy="129.7" r="1.4"/><circle cx="68.2" cy="251.9" r="1.4"/><circle cx="77.1" cy="209.8" r="1.4"/><circle cx="73.3" cy="192.6" r="1.4"/><circle cx="160.3" cy="158.3" r="1.4"/><circle cx="85.8" cy="235.8" r="1.4"/><circle cx="78.3" cy="272.3" r="1.4"/><circle cx="101.1" cy="180.0" r="1.4"/><circle cx="158.3" cy="153.6" r="1.4"/><circle cx="98.8" cy="226.5" r="1.4"/><circle cx="129.2" cy="192.1" r="1.4"/><circle cx="133.4" cy="200.0" r="1.4"/><circle cx="137.0" cy="132.0" r="1.4"/><circle cx="128.9" cy="165.1" r="1.4"/><circle cx="83.5" cy="249.4" r="1.4"/><circle cx="101.6" cy="213.8" r="1.4"/><circle cx="77.9" cy="248.8" r="1.4"/><circle cx="64.2" cy="276.6" r="1.4"/><circle cx="113.3" cy="225.0" r="1.4"/><circle cx="174.2" cy="154.6" r="1.4"/><circle cx="187.9" cy="143.8" r="1.4"/><circle cx="70.8" cy="185.7" r="1.4"/><circle cx="66.7" cy="152.8" r="1.4"/><circle cx="83.5" cy="203.9" r="1.4"/><circle cx="130.9" cy="135.8" r="1.4"/><circle cx="68.5" cy="154.1" r="1.4"/><circle cx="125.7" cy="148.8" r="1.4"/><circle cx="80.7" cy="266.6" r="1.4"/><circle cx="157.3" cy="146.7" r="1.4"/><circle cx="125.3" cy="168.3" r="1.4"/><circle cx="116.5" cy="206.8" r="1.4"/><circle cx="64.1" cy="249.4" r="1.4"/><circle cx="63.3" cy="156.0" r="1.4"/><circle cx="86.4" cy="153.6" r="1.4"/><circle cx="69.3" cy="149.8" r="1.4"/><circle cx="64.2" cy="265.6" r="1.4"/><circle cx="71.7" cy="141.8" r="1.4"/><circle cx="77.3" cy="150.8" r="1.4"/><circle cx="90.5" cy="214.4" r="1.4"/><circle cx="120.5" cy="227.0" r="1.4"/><circle cx="86.7" cy="208.8" r="1.4"/><circle cx="64.5" cy="239.7" r="1.4"/><circle cx="89.3" cy="234.3" r="1.4"/><circle cx="63.3" cy="204.4" r="1.4"/><circle cx="101.1" cy="225.0" r="1.4"/><circle cx="76.4" cy="231.5" r="1.4"/><circle cx="73.4" cy="244.2" r="1.4"/><circle cx="66.2" cy="206.0" r="1.4"/><circle cx="175.9" cy="163.7" r="1.4"/><circle cx="86.0" cy="233.9" r="1.4"/><circle cx="177.1" cy="128.3" r="1.4"/><circle cx="102.0" cy="249.2" r="1.4"/><circle cx="102.1" cy="157.8" r="1.4"/><circle cx="80.6" cy="172.7" r="1.4"/><circle cx="108.7" cy="185.1" r="1.4"/><circle cx="86.7" cy="203.2" r="1.4"/><circle cx="100.7" cy="211.6" r="1.4"/><circle cx="80.9" cy="235.6" r="1.4"/><circle cx="78.8" cy="270.7" r="1.4"/><circle cx="96.6" cy="157.2" r="1.4"/><circle cx="84.2" cy="256.5" r="1.4"/><circle cx="106.0" cy="165.8" r="1.4"/><circle cx="67.9" cy="207.1" r="1.4"/><circle cx="96.5" cy="176.8" r="1.4"/><circle cx="66.9" cy="268.8" r="1.4"/><circle cx="145.8" cy="199.3" r="1.4"/><circle cx="67.3" cy="228.8" r="1.4"/><circle cx="137.3" cy="199.1" r="1.4"/><circle cx="76.3" cy="149.7" r="1.4"/><circle cx="84.2" cy="139.1" r="1.4"/><circle cx="70.7" cy="266.8" r="1.4"/><circle cx="102.4" cy="200.8" r="1.4"/><circle cx="63.9" cy="265.0" r="1.4"/><circle cx="165.2" cy="118.4" r="1.4"/><circle cx="70.2" cy="281.1" r="1.4"/><circle cx="93.5" cy="178.3" r="1.4"/><circle cx="164.3" cy="146.2" r="1.4"/><circle cx="179.5" cy="136.8" r="1.4"/><circle cx="129.8" cy="156.7" r="1.4"/><circle cx="188.8" cy="150.4" r="1.4"/><circle cx="91.0" cy="197.7" r="1.4"/><circle cx="81.8" cy="230.9" r="1.4"/><circle cx="110.1" cy="207.3" r="1.4"/><circle cx="70.7" cy="203.8" r="1.4"/><circle cx="173.4" cy="167.6" r="1.4"/><circle cx="113.0" cy="190.8" r="1.4"/><circle cx="88.3" cy="196.2" r="1.4"/><circle cx="92.5" cy="239.1" r="1.4"/><circle cx="109.4" cy="178.9" r="1.4"/><circle cx="79.5" cy="259.1" r="1.4"/><circle cx="99.1" cy="115.9" r="1.4"/><circle cx="110.7" cy="214.2" r="1.4"/><circle cx="91.2" cy="204.9" r="1.4"/><circle cx="146.3" cy="184.7" r="1.4"/><circle cx="91.2" cy="199.5" r="1.4"/><circle cx="102.5" cy="160.0" r="1.4"/><circle cx="79.0" cy="227.9" r="1.4"/><circle cx="112.3" cy="179.4" r="1.4"/><circle cx="181.4" cy="155.0" r="1.4"/><circle cx="110.1" cy="213.2" r="1.4"/><circle cx="184.1" cy="139.4" r="1.4"/><circle cx="79.5" cy="190.8" r="1.4"/><circle cx="107.3" cy="207.4" r="1.4"/><circle cx="105.2" cy="235.9" r="1.4"/><circle cx="87.1" cy="126.6" r="1.4"/><circle cx="104.6" cy="199.3" r="1.4"/><circle cx="86.3" cy="210.8" r="1.4"/><circle cx="69.9" cy="188.3" r="1.4"/><circle cx="72.5" cy="201.6" r="1.4"/><circle cx="114.7" cy="213.0" r="1.4"/><circle cx="193.0" cy="129.6" r="1.4"/><circle cx="137.3" cy="144.9" r="1.4"/><circle cx="83.6" cy="195.3" r="1.4"/><circle cx="111.8" cy="187.1" r="1.4"/><circle cx="96.1" cy="232.2" r="1.4"/><circle cx="124.4" cy="178.1" r="1.4"/><circle cx="95.6" cy="171.3" r="1.4"/><circle cx="105.7" cy="116.3" r="1.4"/><circle cx="115.3" cy="201.3" r="1.4"/><circle cx="82.9" cy="175.4" r="1.4"/><circle cx="64.4" cy="150.8" r="1.4"/><circle cx="113.7" cy="221.6" r="1.4"/><circle cx="132.2" cy="185.0" r="1.4"/><circle cx="78.5" cy="203.4" r="1.4"/><circle cx="90.4" cy="210.9" r="1.4"/><circle cx="81.6" cy="189.6" r="1.4"/><circle cx="108.8" cy="142.5" r="1.4"/><circle cx="65.8" cy="276.6" r="1.4"/><circle cx="113.1" cy="120.5" r="1.4"/><circle cx="111.9" cy="194.0" r="1.4"/><circle cx="96.3" cy="163.8" r="1.4"/><circle cx="158.7" cy="178.6" r="1.4"/><circle cx="67.7" cy="167.2" r="1.4"/><circle cx="70.6" cy="260.9" r="1.4"/><circle cx="100.1" cy="179.9" r="1.4"/><circle cx="119.3" cy="213.5" r="1.4"/><circle cx="176.5" cy="156.1" r="1.4"/><circle cx="72.1" cy="141.6" r="1.4"/><circle cx="138.1" cy="199.1" r="1.4"/><circle cx="94.5" cy="193.7" r="1.4"/><circle cx="93.1" cy="188.2" r="1.4"/><circle cx="97.5" cy="184.7" r="1.4"/><circle cx="82.6" cy="264.0" r="1.4"/><circle cx="85.6" cy="162.6" r="1.4"/><circle cx="124.7" cy="223.8" r="1.4"/><circle cx="98.8" cy="175.4" r="1.4"/><circle cx="100.4" cy="242.1" r="1.4"/><circle cx="63.7" cy="283.2" r="1.4"/><circle cx="71.3" cy="189.1" r="1.4"/><circle cx="131.0" cy="172.7" r="1.4"/><circle cx="84.3" cy="244.3" r="1.4"/><circle cx="144.6" cy="151.1" r="1.4"/><circle cx="83.0" cy="198.4" r="1.4"/><circle cx="77.2" cy="238.9" r="1.4"/><circle cx="101.8" cy="176.7" r="1.4"/><circle cx="67.8" cy="152.5" r="1.4"/><circle cx="115.8" cy="183.4" r="1.4"/><circle cx="131.7" cy="200.2" r="1.4"/><circle cx="118.4" cy="230.4" r="1.4"/><circle cx="79.1" cy="152.7" r="1.4"/><circle cx="74.8" cy="278.9" r="1.4"/><circle cx="154.1" cy="164.5" r="1.4"/><circle cx="89.6" cy="151.8" r="1.4"/><circle cx="135.9" cy="197.7" r="1.4"/><circle cx="64.2" cy="246.7" r="1.4"/><circle cx="70.0" cy="168.5" r="1.4"/><circle cx="73.9" cy="154.4" r="1.4"/><circle cx="91.8" cy="221.5" r="1.4"/><circle cx="95.8" cy="237.1" r="1.4"/><circle cx="146.8" cy="179.4" r="1.4"/><circle cx="67.2" cy="231.8" r="1.4"/><circle cx="93.9" cy="234.9" r="1.4"/><circle cx="88.7" cy="199.9" r="1.4"/><circle cx="105.4" cy="242.7" r="1.4"/><circle cx="73.0" cy="274.6" r="1.4"/><circle cx="75.1" cy="214.2" r="1.4"/><circle cx="86.9" cy="248.4" r="1.4"/><circle cx="73.8" cy="230.0" r="1.4"/><circle cx="119.2" cy="162.7" r="1.4"/><circle cx="80.0" cy="269.1" r="1.4"/><circle cx="86.9" cy="152.1" r="1.4"/><circle cx="62.8" cy="210.0" r="1.4"/><circle cx="105.6" cy="182.2" r="1.4"/><circle cx="124.2" cy="218.6" r="1.4"/><circle cx="75.4" cy="272.6" r="1.4"/><circle cx="65.7" cy="161.2" r="1.4"/><circle cx="88.0" cy="148.0" r="1.4"/><circle cx="122.9" cy="208.4" r="1.4"/><circle cx="74.5" cy="199.0" r="1.4"/><circle cx="124.3" cy="203.7" r="1.4"/><circle cx="127.4" cy="201.1" r="1.4"/><circle cx="74.6" cy="195.7" r="1.4"/><circle cx="90.6" cy="238.9" r="1.4"/><circle cx="154.2" cy="185.0" r="1.4"/><circle cx="67.4" cy="231.2" r="1.4"/><circle cx="183.6" cy="115.9" r="1.4"/><circle cx="68.9" cy="260.8" r="1.4"/><circle cx="155.9" cy="172.1" r="1.4"/><circle cx="137.6" cy="130.1" r="1.4"/><circle cx="125.9" cy="128.9" r="1.4"/><circle cx="103.1" cy="135.0" r="1.4"/><circle cx="124.2" cy="153.8" r="1.4"/><circle cx="119.8" cy="191.3" r="1.4"/><circle cx="125.6" cy="123.2" r="1.4"/><circle cx="67.2" cy="129.8" r="1.4"/><circle cx="118.3" cy="206.4" r="1.4"/><circle cx="123.2" cy="155.2" r="1.4"/><circle cx="71.9" cy="122.3" r="1.4"/><circle cx="73.0" cy="131.7" r="1.4"/><circle cx="106.6" cy="160.4" r="1.4"/><circle cx="111.1" cy="215.8" r="1.4"/><circle cx="143.0" cy="157.1" r="1.4"/><circle cx="91.6" cy="190.4" r="1.4"/><circle cx="91.8" cy="130.5" r="1.4"/><circle cx="75.5" cy="204.2" r="1.4"/><circle cx="133.7" cy="165.7" r="1.4"/><circle cx="96.0" cy="133.4" r="1.4"/><circle cx="108.2" cy="192.9" r="1.4"/><circle cx="117.4" cy="216.9" r="1.4"/><circle cx="107.1" cy="232.1" r="1.4"/><circle cx="101.5" cy="170.6" r="1.4"/><circle cx="81.3" cy="196.4" r="1.4"/><circle cx="105.3" cy="150.3" r="1.4"/><circle cx="66.6" cy="258.9" r="1.4"/><circle cx="83.7" cy="206.9" r="1.4"/><circle cx="189.2" cy="149.7" r="1.4"/><circle cx="71.3" cy="274.4" r="1.4"/><circle cx="85.3" cy="263.3" r="1.4"/><circle cx="95.6" cy="220.0" r="1.4"/><circle cx="142.1" cy="173.0" r="1.4"/><circle cx="64.6" cy="221.5" r="1.4"/><circle cx="134.8" cy="193.9" r="1.4"/><circle cx="130.4" cy="172.6" r="1.4"/><circle cx="78.7" cy="211.8" r="1.4"/><circle cx="66.8" cy="177.6" r="1.4"/><circle cx="123.1" cy="181.7" r="1.4"/><circle cx="100.9" cy="211.1" r="1.4"/><circle cx="119.9" cy="211.7" r="1.4"/><circle cx="116.0" cy="138.0" r="1.4"/><circle cx="109.9" cy="137.2" r="1.4"/><circle cx="86.3" cy="222.5" r="1.4"/><circle cx="77.1" cy="127.0" r="1.4"/><circle cx="115.8" cy="136.4" r="1.4"/><circle cx="75.9" cy="171.4" r="1.4"/><circle cx="64.9" cy="209.7" r="1.4"/><circle cx="78.7" cy="254.6" r="1.4"/><circle cx="79.8" cy="215.7" r="1.4"/><circle cx="93.3" cy="234.6" r="1.4"/><circle cx="66.0" cy="267.7" r="1.4"/><circle cx="82.9" cy="147.2" r="1.4"/><circle cx="73.7" cy="132.8" r="1.4"/><circle cx="116.2" cy="201.2" r="1.4"/><circle cx="63.5" cy="245.8" r="1.4"/><circle cx="63.8" cy="207.1" r="1.4"/><circle cx="149.6" cy="165.7" r="1.4"/><circle cx="96.1" cy="196.0" r="1.4"/><circle cx="86.1" cy="212.4" r="1.4"/><circle cx="84.1" cy="227.8" r="1.4"/><circle cx="76.0" cy="140.3" r="1.4"/><circle cx="110.7" cy="203.4" r="1.4"/><circle cx="94.5" cy="218.2" r="1.4"/><circle cx="90.9" cy="225.7" r="1.4"/><circle cx="102.1" cy="215.7" r="1.4"/><circle cx="74.8" cy="217.9" r="1.4"/><circle cx="65.7" cy="236.3" r="1.4"/><circle cx="89.8" cy="177.3" r="1.4"/><circle cx="105.8" cy="182.1" r="1.4"/><circle cx="140.9" cy="183.3" r="1.4"/><circle cx="80.4" cy="201.2" r="1.4"/><circle cx="195.9" cy="127.0" r="1.4"/><circle cx="64.4" cy="148.0" r="1.4"/><circle cx="98.1" cy="163.1" r="1.4"/><circle cx="191.2" cy="140.8" r="1.4"/><circle cx="84.9" cy="243.1" r="1.4"/><circle cx="181.7" cy="144.4" r="1.4"/><circle cx="78.2" cy="134.0" r="1.4"/><circle cx="75.6" cy="223.3" r="1.4"/><circle cx="130.6" cy="202.8" r="1.4"/><circle cx="96.0" cy="240.9" r="1.4"/><circle cx="81.9" cy="237.5" r="1.4"/><circle cx="65.1" cy="184.0" r="1.4"/><circle cx="81.8" cy="127.8" r="1.4"/><circle cx="124.4" cy="183.2" r="1.4"/><circle cx="75.4" cy="279.2" r="1.4"/><circle cx="76.9" cy="181.8" r="1.4"/><circle cx="114.0" cy="202.0" r="1.4"/><circle cx="93.6" cy="157.3" r="1.4"/><circle cx="75.5" cy="242.0" r="1.4"/><circle cx="78.8" cy="236.7" r="1.4"/><circle cx="78.6" cy="167.6" r="1.4"/><circle cx="93.2" cy="232.3" r="1.4"/><circle cx="140.6" cy="154.1" r="1.4"/><circle cx="91.7" cy="121.0" r="1.4"/><circle cx="70.6" cy="243.4" r="1.4"/><circle cx="83.7" cy="157.4" r="1.4"/><circle cx="113.9" cy="188.3" r="1.4"/><circle cx="134.5" cy="144.1" r="1.4"/><circle cx="82.2" cy="250.9" r="1.4"/><circle cx="114.6" cy="225.3" r="1.4"/><circle cx="144.6" cy="151.2" r="1.4"/><circle cx="84.7" cy="258.9" r="1.4"/><circle cx="70.6" cy="239.4" r="1.4"/><circle cx="148.8" cy="174.5" r="1.4"/><circle cx="81.8" cy="165.4" r="1.4"/><circle cx="135.9" cy="143.0" r="1.4"/><circle cx="84.9" cy="170.3" r="1.4"/><circle cx="66.0" cy="251.6" r="1.4"/><circle cx="78.9" cy="141.5" r="1.4"/><circle cx="94.0" cy="168.1" r="1.4"/><circle cx="65.2" cy="191.0" r="1.4"/><circle cx="80.9" cy="208.5" r="1.4"/><circle cx="138.2" cy="172.6" r="1.4"/><circle cx="81.6" cy="263.1" r="1.4"/><circle cx="70.3" cy="147.2" r="1.4"/><circle cx="121.3" cy="195.5" r="1.4"/><circle cx="136.6" cy="202.7" r="1.4"/><circle cx="105.5" cy="162.2" r="1.4"/><circle cx="143.2" cy="178.7" r="1.4"/><circle cx="187.7" cy="137.4" r="1.4"/><circle cx="86.7" cy="239.0" r="1.4"/><circle cx="150.6" cy="154.1" r="1.4"/><circle cx="84.7" cy="181.2" r="1.4"/><circle cx="90.4" cy="233.4" r="1.4"/><circle cx="66.5" cy="155.3" r="1.4"/><circle cx="68.9" cy="278.0" r="1.4"/><circle cx="84.8" cy="202.2" r="1.4"/><circle cx="70.7" cy="191.1" r="1.4"/><circle cx="130.2" cy="137.4" r="1.4"/><circle cx="81.7" cy="126.0" r="1.4"/><circle cx="101.1" cy="210.5" r="1.4"/><circle cx="99.0" cy="144.8" r="1.4"/><circle cx="126.6" cy="169.2" r="1.4"/><circle cx="94.4" cy="119.7" r="1.4"/><circle cx="90.9" cy="168.2" r="1.4"/><circle cx="114.7" cy="221.2" r="1.4"/><circle cx="121.6" cy="145.9" r="1.4"/><circle cx="165.3" cy="126.4" r="1.4"/><circle cx="64.7" cy="271.6" r="1.4"/><circle cx="174.7" cy="156.8" r="1.4"/><circle cx="76.3" cy="167.2" r="1.4"/><circle cx="72.2" cy="271.4" r="1.4"/><circle cx="110.8" cy="116.3" r="1.4"/><circle cx="81.9" cy="247.9" r="1.4"/><circle cx="87.3" cy="227.0" r="1.4"/><circle cx="95.9" cy="227.5" r="1.4"/><circle cx="86.6" cy="260.9" r="1.4"/><circle cx="118.9" cy="194.7" r="1.4"/><circle cx="101.4" cy="190.3" r="1.4"/><circle cx="165.4" cy="141.3" r="1.4"/><circle cx="66.7" cy="181.3" r="1.4"/><circle cx="76.0" cy="150.8" r="1.4"/><circle cx="109.7" cy="232.8" r="1.4"/><circle cx="97.6" cy="216.0" r="1.4"/><circle cx="164.2" cy="169.4" r="1.4"/><circle cx="84.6" cy="250.7" r="1.4"/><circle cx="70.5" cy="240.1" r="1.4"/><circle cx="85.5" cy="122.3" r="1.4"/><circle cx="91.2" cy="214.6" r="1.4"/><circle cx="95.3" cy="178.5" r="1.4"/><circle cx="102.2" cy="154.6" r="1.4"/><circle cx="163.1" cy="118.8" r="1.4"/><circle cx="123.3" cy="135.1" r="1.4"/><circle cx="103.8" cy="155.3" r="1.4"/><circle cx="105.8" cy="160.8" r="1.4"/><circle cx="74.7" cy="246.2" r="1.4"/><circle cx="65.1" cy="124.1" r="1.4"/><circle cx="88.2" cy="245.0" r="1.4"/><circle cx="65.5" cy="235.4" r="1.4"/><circle cx="94.3" cy="235.0" r="1.4"/><circle cx="137.8" cy="195.7" r="1.4"/><circle cx="111.6" cy="169.9" r="1.4"/><circle cx="114.0" cy="131.7" r="1.4"/><circle cx="66.2" cy="249.2" r="1.4"/><circle cx="90.0" cy="225.3" r="1.4"/><circle cx="71.2" cy="171.9" r="1.4"/><circle cx="131.5" cy="148.9" r="1.4"/><circle cx="77.8" cy="194.5" r="1.4"/><circle cx="144.7" cy="152.3" r="1.4"/><circle cx="62.9" cy="190.6" r="1.4"/><circle cx="99.7" cy="188.5" r="1.4"/><circle cx="65.7" cy="284.5" r="1.4"/><circle cx="105.5" cy="242.7" r="1.4"/><circle cx="82.3" cy="204.9" r="1.4"/><circle cx="64.9" cy="257.8" r="1.4"/><circle cx="88.3" cy="173.5" r="1.4"/><circle cx="127.3" cy="174.8" r="1.4"/><circle cx="148.3" cy="183.3" r="1.4"/><circle cx="118.6" cy="188.3" r="1.4"/><circle cx="160.0" cy="122.5" r="1.4"/><circle cx="97.3" cy="246.3" r="1.4"/><circle cx="71.6" cy="197.6" r="1.4"/><circle cx="128.6" cy="133.4" r="1.4"/><circle cx="78.5" cy="141.9" r="1.4"/><circle cx="80.5" cy="223.1" r="1.4"/><circle cx="70.6" cy="208.0" r="1.4"/><circle cx="66.1" cy="200.0" r="1.4"/><circle cx="133.4" cy="202.5" r="1.4"/><circle cx="116.9" cy="195.7" r="1.4"/><circle cx="109.1" cy="193.3" r="1.4"/><circle cx="108.6" cy="236.5" r="1.4"/><circle cx="98.0" cy="150.3" r="1.4"/><circle cx="72.9" cy="236.9" r="1.4"/><circle cx="83.6" cy="178.9" r="1.4"/><circle cx="130.3" cy="205.3" r="1.4"/><circle cx="140.6" cy="146.9" r="1.4"/><circle cx="64.0" cy="284.5" r="1.4"/><circle cx="101.3" cy="248.5" r="1.4"/><circle cx="75.5" cy="203.4" r="1.4"/><circle cx="109.5" cy="225.6" r="1.4"/><circle cx="97.8" cy="168.2" r="1.4"/><circle cx="100.5" cy="219.3" r="1.4"/><circle cx="85.9" cy="228.6" r="1.4"/><circle cx="97.7" cy="202.7" r="1.4"/><circle cx="125.4" cy="168.7" r="1.4"/><circle cx="124.3" cy="194.5" r="1.4"/><circle cx="92.3" cy="220.7" r="1.4"/><circle cx="80.6" cy="220.1" r="1.4"/><circle cx="83.3" cy="194.5" r="1.4"/><circle cx="91.3" cy="138.9" r="1.4"/><circle cx="106.2" cy="139.7" r="1.4"/><circle cx="72.6" cy="196.2" r="1.4"/><circle cx="71.8" cy="265.9" r="1.4"/><circle cx="68.1" cy="148.3" r="1.4"/><circle cx="92.5" cy="227.6" r="1.4"/><circle cx="121.6" cy="137.0" r="1.4"/><circle cx="134.1" cy="189.4" r="1.4"/><circle cx="65.8" cy="201.6" r="1.4"/><circle cx="100.2" cy="182.1" r="1.4"/><circle cx="180.0" cy="154.6" r="1.4"/><circle cx="155.9" cy="158.6" r="1.4"/><circle cx="164.9" cy="171.8" r="1.4"/><circle cx="71.2" cy="198.0" r="1.4"/><circle cx="65.2" cy="137.2" r="1.4"/><circle cx="113.8" cy="170.4" r="1.4"/><circle cx="123.6" cy="187.0" r="1.4"/><circle cx="143.0" cy="181.6" r="1.4"/><circle cx="87.0" cy="167.7" r="1.4"/><circle cx="66.0" cy="172.6" r="1.4"/><circle cx="71.9" cy="226.0" r="1.4"/><circle cx="191.3" cy="132.0" r="1.4"/><circle cx="77.5" cy="222.3" r="1.4"/><circle cx="131.2" cy="211.1" r="1.4"/><circle cx="66.2" cy="142.1" r="1.4"/><circle cx="101.0" cy="238.2" r="1.4"/><circle cx="151.5" cy="188.5" r="1.4"/><circle cx="160.2" cy="154.5" r="1.4"/><circle cx="86.2" cy="225.6" r="1.4"/><circle cx="109.5" cy="155.4" r="1.4"/><circle cx="111.9" cy="218.4" r="1.4"/><circle cx="69.3" cy="283.8" r="1.4"/><circle cx="72.4" cy="239.0" r="1.4"/><circle cx="70.4" cy="249.5" r="1.4"/><circle cx="71.2" cy="249.5" r="1.4"/><circle cx="65.8" cy="182.1" r="1.4"/><circle cx="122.6" cy="150.2" r="1.4"/><circle cx="77.2" cy="201.6" r="1.4"/><circle cx="72.6" cy="221.6" r="1.4"/><circle cx="74.1" cy="240.1" r="1.4"/><circle cx="124.9" cy="188.7" r="1.4"/><circle cx="163.9" cy="125.4" r="1.4"/><circle cx="71.1" cy="257.6" r="1.4"/><circle cx="63.4" cy="264.8" r="1.4"/><circle cx="91.9" cy="222.9" r="1.4"/><circle cx="70.3" cy="275.9" r="1.4"/><circle cx="87.5" cy="118.2" r="1.4"/><circle cx="96.2" cy="220.7" r="1.4"/><circle cx="65.3" cy="197.3" r="1.4"/><circle cx="95.8" cy="242.1" r="1.4"/><circle cx="92.7" cy="162.2" r="1.4"/><circle cx="121.9" cy="172.1" r="1.4"/><circle cx="101.2" cy="243.3" r="1.4"/><circle cx="72.5" cy="268.4" r="1.4"/><circle cx="69.9" cy="209.1" r="1.4"/><circle cx="87.2" cy="191.8" r="1.4"/><circle cx="126.5" cy="161.8" r="1.4"/><circle cx="78.7" cy="243.0" r="1.4"/><circle cx="73.1" cy="239.5" r="1.4"/><circle cx="118.7" cy="164.3" r="1.4"/><circle cx="180.2" cy="123.8" r="1.4"/><circle cx="117.8" cy="182.4" r="1.4"/><circle cx="110.8" cy="152.3" r="1.4"/><circle cx="103.3" cy="177.0" r="1.4"/><circle cx="69.0" cy="128.5" r="1.4"/><circle cx="66.0" cy="284.1" r="1.4"/><circle cx="69.2" cy="279.1" r="1.4"/><circle cx="125.2" cy="174.6" r="1.4"/><circle cx="103.6" cy="140.1" r="1.4"/><circle cx="65.6" cy="232.5" r="1.4"/><circle cx="82.7" cy="199.9" r="1.4"/><circle cx="168.6" cy="147.3" r="1.4"/><circle cx="103.5" cy="161.2" r="1.4"/><circle cx="66.4" cy="272.5" r="1.4"/><circle cx="89.5" cy="153.4" r="1.4"/><circle cx="103.6" cy="157.0" r="1.4"/><circle cx="67.3" cy="240.8" r="1.4"/><circle cx="110.7" cy="197.6" r="1.4"/><circle cx="109.1" cy="173.0" r="1.4"/><circle cx="75.4" cy="222.7" r="1.4"/><circle cx="92.2" cy="165.3" r="1.4"/><circle cx="139.9" cy="200.8" r="1.4"/><circle cx="66.4" cy="207.2" r="1.4"/><circle cx="115.7" cy="178.6" r="1.4"/><circle cx="124.0" cy="214.6" r="1.4"/><circle cx="148.9" cy="172.6" r="1.4"/><circle cx="73.6" cy="199.1" r="1.4"/><circle cx="104.0" cy="199.8" r="1.4"/><circle cx="180.8" cy="160.4" r="1.4"/><circle cx="190.3" cy="132.2" r="1.4"/><circle cx="155.5" cy="166.6" r="1.4"/><circle cx="73.7" cy="245.2" r="1.4"/><circle cx="88.6" cy="242.4" r="1.4"/><circle cx="114.5" cy="219.2" r="1.4"/><circle cx="63.4" cy="256.7" r="1.4"/><circle cx="74.3" cy="202.9" r="1.4"/><circle cx="90.1" cy="230.0" r="1.4"/><circle cx="71.0" cy="224.7" r="1.4"/><circle cx="93.6" cy="189.8" r="1.4"/><circle cx="195.0" cy="137.4" r="1.4"/><circle cx="67.7" cy="225.4" r="1.4"/><circle cx="139.6" cy="197.0" r="1.4"/><circle cx="148.6" cy="155.6" r="1.4"/><circle cx="92.4" cy="210.8" r="1.4"/><circle cx="86.6" cy="223.8" r="1.4"/><circle cx="85.3" cy="129.5" r="1.4"/><circle cx="96.7" cy="200.2" r="1.4"/><circle cx="147.3" cy="143.1" r="1.4"/><circle cx="107.8" cy="178.3" r="1.4"/><circle cx="100.9" cy="179.1" r="1.4"/><circle cx="94.2" cy="212.0" r="1.4"/><circle cx="142.4" cy="158.4" r="1.4"/><circle cx="129.8" cy="171.8" r="1.4"/><circle cx="73.2" cy="214.5" r="1.4"/><circle cx="123.4" cy="146.3" r="1.4"/><circle cx="89.6" cy="245.1" r="1.4"/><circle cx="73.5" cy="115.7" r="1.4"/><circle cx="108.0" cy="144.5" r="1.4"/><circle cx="76.4" cy="205.3" r="1.4"/><circle cx="64.7" cy="247.5" r="1.4"/><circle cx="175.7" cy="147.6" r="1.4"/><circle cx="71.5" cy="208.5" r="1.4"/><circle cx="105.3" cy="169.1" r="1.4"/><circle cx="87.3" cy="154.8" r="1.4"/><circle cx="115.1" cy="232.7" r="1.4"/><circle cx="118.9" cy="221.4" r="1.4"/><circle cx="150.0" cy="138.6" r="1.4"/><circle cx="138.0" cy="122.2" r="1.4"/><circle cx="71.6" cy="243.5" r="1.4"/><circle cx="79.7" cy="171.5" r="1.4"/><circle cx="98.3" cy="232.1" r="1.4"/><circle cx="108.0" cy="206.7" r="1.4"/><circle cx="109.5" cy="180.2" r="1.4"/><circle cx="122.1" cy="186.9" r="1.4"/><circle cx="92.6" cy="258.0" r="1.4"/><circle cx="93.5" cy="185.5" r="1.4"/><circle cx="83.4" cy="235.1" r="1.4"/><circle cx="72.8" cy="176.5" r="1.4"/><circle cx="63.4" cy="247.7" r="1.4"/><circle cx="135.2" cy="176.8" r="1.4"/><circle cx="135.9" cy="158.4" r="1.4"/><circle cx="110.8" cy="219.6" r="1.4"/><circle cx="180.5" cy="122.2" r="1.4"/><circle cx="96.2" cy="184.1" r="1.4"/><circle cx="75.9" cy="183.4" r="1.4"/><circle cx="68.8" cy="252.5" r="1.4"/><circle cx="170.8" cy="153.6" r="1.4"/><circle cx="112.9" cy="229.2" r="1.4"/><circle cx="67.5" cy="169.5" r="1.4"/><circle cx="106.1" cy="229.7" r="1.4"/><circle cx="74.9" cy="275.8" r="1.4"/><circle cx="69.7" cy="186.0" r="1.4"/><circle cx="66.2" cy="137.3" r="1.4"/><circle cx="106.7" cy="192.1" r="1.4"/><circle cx="173.1" cy="160.8" r="1.4"/><circle cx="121.7" cy="222.2" r="1.4"/><circle cx="105.0" cy="199.4" r="1.4"/><circle cx="124.5" cy="196.3" r="1.4"/><circle cx="134.1" cy="209.1" r="1.4"/><circle cx="63.0" cy="258.3" r="1.4"/><circle cx="95.5" cy="118.2" r="1.4"/><circle cx="80.0" cy="226.0" r="1.4"/><circle cx="94.2" cy="168.1" r="1.4"/><circle cx="63.3" cy="250.7" r="1.4"/><circle cx="141.4" cy="190.8" r="1.4"/><circle cx="141.4" cy="176.4" r="1.4"/><circle cx="130.3" cy="212.6" r="1.4"/><circle cx="66.0" cy="203.4" r="1.4"/><circle cx="102.4" cy="244.9" r="1.4"/><circle cx="108.2" cy="177.5" r="1.4"/><circle cx="136.0" cy="167.4" r="1.4"/><circle cx="130.6" cy="185.2" r="1.4"/><circle cx="120.8" cy="201.5" r="1.4"/><circle cx="69.6" cy="227.3" r="1.4"/><circle cx="90.0" cy="184.8" r="1.4"/><circle cx="114.1" cy="144.1" r="1.4"/><circle cx="160.6" cy="170.1" r="1.4"/><circle cx="87.1" cy="172.0" r="1.4"/><circle cx="68.1" cy="242.2" r="1.4"/><circle cx="97.8" cy="239.4" r="1.4"/><circle cx="119.8" cy="146.6" r="1.4"/><circle cx="146.6" cy="148.5" r="1.4"/><circle cx="180.3" cy="125.7" r="1.4"/><circle cx="87.9" cy="229.8" r="1.4"/><circle cx="66.3" cy="226.9" r="1.4"/><circle cx="92.0" cy="228.5" r="1.4"/><circle cx="89.7" cy="200.9" r="1.4"/><circle cx="125.5" cy="124.0" r="1.4"/><circle cx="91.5" cy="205.8" r="1.4"/><circle cx="84.1" cy="213.8" r="1.4"/><circle cx="110.9" cy="227.7" r="1.4"/><circle cx="161.3" cy="157.7" r="1.4"/><circle cx="69.6" cy="225.4" r="1.4"/><circle cx="160.8" cy="170.4" r="1.4"/><circle cx="97.2" cy="253.8" r="1.4"/><circle cx="67.3" cy="190.7" r="1.4"/><circle cx="94.8" cy="205.6" r="1.4"/><circle cx="123.0" cy="192.7" r="1.4"/><circle cx="86.4" cy="251.6" r="1.4"/><circle cx="64.1" cy="156.0" r="1.4"/><circle cx="117.6" cy="160.1" r="1.4"/><circle cx="105.3" cy="178.7" r="1.4"/><circle cx="106.6" cy="243.2" r="1.4"/><circle cx="64.6" cy="188.2" r="1.4"/><circle cx="65.1" cy="183.4" r="1.4"/><circle cx="91.2" cy="154.3" r="1.4"/><circle cx="102.4" cy="217.2" r="1.4"/><circle cx="110.1" cy="238.5" r="1.4"/><circle cx="98.1" cy="120.4" r="1.4"/><circle cx="92.0" cy="146.2" r="1.4"/><circle cx="66.6" cy="221.7" r="1.4"/><circle cx="104.2" cy="232.2" r="1.4"/><circle cx="69.1" cy="186.8" r="1.4"/><circle cx="94.3" cy="183.8" r="1.4"/><circle cx="149.6" cy="138.2" r="1.4"/><circle cx="109.3" cy="156.8" r="1.4"/><circle cx="66.1" cy="190.3" r="1.4"/><circle cx="136.8" cy="178.5" r="1.4"/><circle cx="76.3" cy="179.9" r="1.4"/><circle cx="166.3" cy="146.8" r="1.4"/><circle cx="106.3" cy="187.7" r="1.4"/><circle cx="166.7" cy="133.4" r="1.4"/><circle cx="100.7" cy="131.2" r="1.4"/><circle cx="86.7" cy="163.5" r="1.4"/><circle cx="85.9" cy="257.3" r="1.4"/><circle cx="183.7" cy="137.8" r="1.4"/><circle cx="124.8" cy="194.9" r="1.4"/><circle cx="70.3" cy="218.3" r="1.4"/><circle cx="82.3" cy="247.8" r="1.4"/><circle cx="77.2" cy="241.3" r="1.4"/><circle cx="86.7" cy="157.8" r="1.4"/><circle cx="95.6" cy="216.3" r="1.4"/><circle cx="70.4" cy="212.7" r="1.4"/><circle cx="64.4" cy="228.4" r="1.4"/><circle cx="138.2" cy="178.1" r="1.4"/><circle cx="150.1" cy="131.3" r="1.4"/><circle cx="129.6" cy="155.9" r="1.4"/><circle cx="98.7" cy="166.0" r="1.4"/><circle cx="125.7" cy="176.6" r="1.4"/><circle cx="113.0" cy="202.0" r="1.4"/><circle cx="84.5" cy="193.9" r="1.4"/><circle cx="83.5" cy="255.7" r="1.4"/><circle cx="123.0" cy="166.9" r="1.4"/><circle cx="153.9" cy="185.6" r="1.4"/><circle cx="90.0" cy="167.8" r="1.4"/><circle cx="123.6" cy="169.3" r="1.4"/><circle cx="65.4" cy="189.2" r="1.4"/><circle cx="95.3" cy="235.8" r="1.4"/><circle cx="83.9" cy="131.0" r="1.4"/><circle cx="168.9" cy="132.7" r="1.4"/></g>
<rect x="60.0" y="114.4" width="2.8" height="179.0" fill="#4aae3f"/>
<line x1="62.8" y1="293.4" x2="225.6" y2="110.9" stroke="#1f6b2a" stroke-width="1.3"/>
<line x1="62.8" y1="293.4" x2="305.9" y2="172.4" stroke="#5592e6" stroke-width="1.3"/>
<rect x="58.2" y="111.5" width="248.8" height="185.2" fill="none" stroke="#000" stroke-width="1.2"/>
<line x1="54.4" y1="293.4" x2="58.2" y2="293.4" stroke="#000" stroke-width="1.1"/>
<text x="52.5" y="296.4" font-size="8.5" text-anchor="end" fill="#333">0.0</text>
<line x1="62.8" y1="296.7" x2="62.8" y2="300.2" stroke="#000" stroke-width="1.1"/>
<text x="62.8" y="309.6" font-size="8.5" text-anchor="middle" fill="#333">0.0</text>
<line x1="54.4" y1="257.8" x2="58.2" y2="257.8" stroke="#000" stroke-width="1.1"/>
<text x="52.5" y="260.79999999999995" font-size="8.5" text-anchor="end" fill="#333">0.2</text>
<line x1="110.5" y1="296.7" x2="110.5" y2="300.2" stroke="#000" stroke-width="1.1"/>
<text x="110.46000000000001" y="309.6" font-size="8.5" text-anchor="middle" fill="#333">0.2</text>
<line x1="54.4" y1="222.2" x2="58.2" y2="222.2" stroke="#000" stroke-width="1.1"/>
<text x="52.5" y="225.2" font-size="8.5" text-anchor="end" fill="#333">0.4</text>
<line x1="158.1" y1="296.7" x2="158.1" y2="300.2" stroke="#000" stroke-width="1.1"/>
<text x="158.12" y="309.6" font-size="8.5" text-anchor="middle" fill="#333">0.4</text>
<line x1="54.4" y1="186.6" x2="58.2" y2="186.6" stroke="#000" stroke-width="1.1"/>
<text x="52.5" y="189.59999999999997" font-size="8.5" text-anchor="end" fill="#333">0.6</text>
<line x1="205.8" y1="296.7" x2="205.8" y2="300.2" stroke="#000" stroke-width="1.1"/>
<text x="205.78000000000003" y="309.6" font-size="8.5" text-anchor="middle" fill="#333">0.6</text>
<line x1="54.4" y1="151.0" x2="58.2" y2="151.0" stroke="#000" stroke-width="1.1"/>
<text x="52.5" y="153.99999999999997" font-size="8.5" text-anchor="end" fill="#333">0.8</text>
<line x1="253.4" y1="296.7" x2="253.4" y2="300.2" stroke="#000" stroke-width="1.1"/>
<text x="253.44" y="309.6" font-size="8.5" text-anchor="middle" fill="#333">0.8</text>
<line x1="54.4" y1="115.4" x2="58.2" y2="115.4" stroke="#000" stroke-width="1.1"/>
<text x="52.5" y="118.39999999999998" font-size="8.5" text-anchor="end" fill="#333">1.0</text>
<line x1="301.1" y1="296.7" x2="301.1" y2="300.2" stroke="#000" stroke-width="1.1"/>
<text x="301.1" y="309.6" font-size="8.5" text-anchor="middle" fill="#333">1.0</text>
<text x="196.5" y="324.4" font-size="10.0" text-anchor="middle" fill="#222">PCC (Protein&amp;PTM)</text>
<text x="29.8" y="191" font-size="9.6" text-anchor="middle" fill="#222" transform="rotate(-90 29.8 191)">PCC (Protein&amp;Trans)</text>
<text x="118" y="159" font-size="12.2" text-anchor="middle" fill="#000">TD</text>
<text x="195" y="195" font-size="12.2" text-anchor="middle" fill="#000">BL</text>
<text x="224" y="266" font-size="12.2" text-anchor="middle" fill="#000">PD</text>
<rect x="456.7" y="28.3" width="48.0" height="39.9" fill="#f0c47a" fill-opacity="0.5" stroke="#eab66a" stroke-width="1.2"/>
<rect x="468.4" y="40.6" width="47.3" height="39.3" fill="#7aa2ff" fill-opacity="0.5" stroke="#3a5cf0" stroke-width="1.2"/>
<rect x="443.4" y="44.1" width="47.6" height="40.1" fill="#d2ec48" fill-opacity="0.68" stroke="#c4e64a" stroke-width="1.2"/>
<rect x="592.4" y="28.3" width="48.2" height="39.9" fill="#f0c47a" fill-opacity="0.5" stroke="#eab66a" stroke-width="1.2"/>
<rect x="584.4" y="39" width="47.4" height="40.6" fill="#7aa2ff" fill-opacity="0.5" stroke="#3a5cf0" stroke-width="1.2"/>
<rect x="604.1" y="45.5" width="48.6" height="39.5" fill="#b8eedd" fill-opacity="0.45" stroke="#8fd8c4" stroke-width="1.2"/>
<text x="549.5" y="37.5" font-size="10.1" text-anchor="middle" fill="#1a1a1a">Transcripts</text>
<text x="550.3" y="62.6" font-size="10.1" text-anchor="middle" fill="#1a1a1a">Proteins</text>
<text x="400.8" y="99.9" font-size="10.4" text-anchor="start" fill="#1a1a1a">Phospho-proteins</text>
<text x="613.3" y="100.9" font-size="10.4" text-anchor="start" fill="#1a1a1a">Acetyl-proteins</text>
<line x1="480.4" y1="51.4" x2="525.4" y2="101.8" stroke="#111" stroke-width="1"/>
<path d="M530.4 107.4L521.8 103.7L527.6 98.5Z" fill="#111"/>
<line x1="619.9" y1="56.5" x2="579.9" y2="102.2" stroke="#111" stroke-width="1"/>
<path d="M575 107.8L577.7 98.8L583.5 104.0Z" fill="#111"/>
<rect x="489.2" y="115.7" width="52.7" height="23.5" fill="#e3f59a"/>
<rect x="563.8" y="115.7" width="52.1" height="23.5" fill="#dbf5ef"/>
<rect x="501.3" y="163" width="40.6" height="23.9" fill="#cbe82e"/>
<rect x="565" y="163" width="39.9" height="23.9" fill="#86d6c6"/>
<line x1="523.3" y1="139.5" x2="523.3" y2="153.5" stroke="#111" stroke-width="1"/>
<path d="M523.3 161L519.4 152.5L527.2 152.5Z" fill="#111"/>
<line x1="585.3" y1="139.5" x2="585.3" y2="153.5" stroke="#111" stroke-width="1"/>
<path d="M585.3 161L581.4 152.5L589.2 152.5Z" fill="#111"/>
<text x="515.8" y="130.6" font-size="10.1" text-anchor="middle" fill="#1a1a1a">A data</text>
<text x="590.4" y="130.6" font-size="10.1" text-anchor="middle" fill="#1a1a1a">B data</text>
<text x="521.5" y="177.7" font-size="10.1" text-anchor="middle" fill="#1a1a1a">PTC</text>
<text x="584.6" y="177.7" font-size="10.1" text-anchor="middle" fill="#1a1a1a">PTC</text>
<g fill="#f0bd6c" stroke="#4a4238" stroke-width="0.7"><rect x="435.60" y="354.2" width="4.0" height="25.0"/><rect x="441.06" y="340.2" width="4.0" height="39.0"/><rect x="446.53" y="329.2" width="4.0" height="50.0"/><rect x="451.99" y="322.2" width="4.0" height="57.0"/><rect x="457.45" y="334.2" width="4.0" height="45.0"/><rect x="462.91" y="317.7" width="4.0" height="61.5"/><rect x="468.38" y="316.5" width="4.0" height="62.7"/><rect x="473.84" y="309.8" width="4.0" height="69.4"/><rect x="479.30" y="304.3" width="4.0" height="74.9"/><rect x="484.77" y="302.4" width="4.0" height="76.8"/><rect x="490.23" y="300.4" width="4.0" height="78.8"/><rect x="495.69" y="280.3" width="4.0" height="98.9"/><rect x="501.16" y="291.9" width="4.0" height="87.3"/><rect x="506.62" y="279.3" width="4.0" height="99.9"/><rect x="512.08" y="266.2" width="4.0" height="113.0"/><rect x="517.55" y="273.5" width="4.0" height="105.7"/><rect x="523.01" y="266.7" width="4.0" height="112.5"/><rect x="528.47" y="267.4" width="4.0" height="111.8"/><rect x="533.93" y="263.5" width="4.0" height="115.7"/><rect x="539.40" y="267.4" width="4.0" height="111.8"/><rect x="544.86" y="273.1" width="4.0" height="106.1"/><rect x="550.32" y="269.4" width="4.0" height="109.8"/><rect x="555.79" y="270.6" width="4.0" height="108.6"/><rect x="561.25" y="262.1" width="4.0" height="117.1"/><rect x="566.71" y="266.3" width="4.0" height="112.9"/><rect x="572.17" y="273.2" width="4.0" height="106.0"/><rect x="577.64" y="265.1" width="4.0" height="114.1"/><rect x="583.10" y="253.2" width="4.0" height="126.0"/><rect x="588.56" y="259.5" width="4.0" height="119.7"/><rect x="594.03" y="277.3" width="4.0" height="101.9"/><rect x="599.49" y="272.2" width="4.0" height="107.0"/><rect x="604.95" y="262.2" width="4.0" height="117.0"/><rect x="610.42" y="259.8" width="4.0" height="119.4"/><rect x="615.88" y="284.2" width="4.0" height="95.0"/><rect x="621.34" y="259.0" width="4.0" height="120.2"/><rect x="626.81" y="250.0" width="4.0" height="129.2"/><rect x="632.27" y="263.0" width="4.0" height="116.2"/><rect x="637.73" y="269.2" width="4.0" height="110.0"/><rect x="643.19" y="281.0" width="4.0" height="98.2"/><rect x="648.66" y="291.5" width="4.0" height="87.7"/><rect x="654.12" y="341.9" width="4.0" height="37.3"/></g>
<g fill="#a6f0b8" stroke="#485048" stroke-width="0.7"><rect x="437.40" y="359.6" width="3.8" height="19.6"/><rect x="442.86" y="343.1" width="3.8" height="36.1"/><rect x="448.33" y="330.7" width="3.8" height="48.5"/><rect x="453.79" y="336.2" width="3.8" height="43.0"/><rect x="459.25" y="332.4" width="3.8" height="46.8"/><rect x="464.71" y="332.5" width="3.8" height="46.7"/><rect x="470.18" y="326.4" width="3.8" height="52.8"/><rect x="475.64" y="322.3" width="3.8" height="56.9"/><rect x="481.10" y="322.3" width="3.8" height="56.9"/><rect x="486.57" y="308.2" width="3.8" height="71.0"/><rect x="492.03" y="313.8" width="3.8" height="65.4"/><rect x="497.49" y="312.7" width="3.8" height="66.5"/><rect x="502.96" y="291.4" width="3.8" height="87.8"/><rect x="508.42" y="287.3" width="3.8" height="91.9"/><rect x="513.88" y="290.0" width="3.8" height="89.2"/><rect x="519.35" y="279.3" width="3.8" height="99.9"/><rect x="524.81" y="276.4" width="3.8" height="102.8"/><rect x="530.27" y="285.4" width="3.8" height="93.8"/><rect x="535.73" y="270.6" width="3.8" height="108.6"/><rect x="541.20" y="257.9" width="3.8" height="121.2"/><rect x="546.66" y="263.8" width="3.8" height="115.4"/><rect x="552.12" y="263.9" width="3.8" height="115.3"/><rect x="557.59" y="276.6" width="3.8" height="102.6"/><rect x="563.05" y="276.6" width="3.8" height="102.6"/><rect x="568.51" y="262.8" width="3.8" height="116.4"/><rect x="573.97" y="260.5" width="3.8" height="118.7"/><rect x="579.44" y="249.5" width="3.8" height="129.7"/><rect x="584.90" y="270.5" width="3.8" height="108.7"/><rect x="590.36" y="269.7" width="3.8" height="109.5"/><rect x="595.83" y="260.2" width="3.8" height="119.0"/><rect x="601.29" y="268.3" width="3.8" height="110.9"/><rect x="606.75" y="245.5" width="3.8" height="133.7"/><rect x="612.22" y="247.3" width="3.8" height="131.9"/><rect x="617.68" y="257.8" width="3.8" height="121.4"/><rect x="623.14" y="233.7" width="3.8" height="145.5"/><rect x="628.61" y="225.6" width="3.8" height="153.6"/><rect x="634.07" y="233.7" width="3.8" height="145.5"/><rect x="639.53" y="256.5" width="3.8" height="122.7"/><rect x="644.99" y="269.6" width="3.8" height="109.6"/><rect x="650.46" y="285.8" width="3.8" height="93.4"/><rect x="655.92" y="337.6" width="3.8" height="41.6"/></g>
<path d="M433.5 210.5H661.2V379.2H433.5Z" fill="none" stroke="#444" stroke-width="0.9"/>
<line x1="430.8" y1="379.2" x2="433.5" y2="379.2" stroke="#444" stroke-width="0.9"/>
<text x="429.4" y="382.3" font-size="8.8" text-anchor="end" fill="#333">0.0</text>
<line x1="430.8" y1="330.7" x2="433.5" y2="330.7" stroke="#444" stroke-width="0.9"/>
<text x="429.4" y="333.8" font-size="8.8" text-anchor="end" fill="#333">0.5</text>
<line x1="430.8" y1="282.2" x2="433.5" y2="282.2" stroke="#444" stroke-width="0.9"/>
<text x="429.4" y="285.3" font-size="8.8" text-anchor="end" fill="#333">1.0</text>
<line x1="430.8" y1="233.7" x2="433.5" y2="233.7" stroke="#444" stroke-width="0.9"/>
<text x="429.4" y="236.79999999999998" font-size="8.8" text-anchor="end" fill="#333">1.5</text>
<text x="438.2" y="390.3" font-size="8.8" text-anchor="middle" fill="#333">0.1</text>
<line x1="438.2" y1="379.2" x2="438.2" y2="381.6" stroke="#555" stroke-width="0.8"/>
<text x="482.8" y="390.3" font-size="8.8" text-anchor="middle" fill="#333">0.2</text>
<line x1="482.8" y1="379.2" x2="482.8" y2="381.6" stroke="#555" stroke-width="0.8"/>
<text x="525.8" y="390.3" font-size="8.8" text-anchor="middle" fill="#333">0.4</text>
<line x1="525.8" y1="379.2" x2="525.8" y2="381.6" stroke="#555" stroke-width="0.8"/>
<text x="569.6" y="390.3" font-size="8.8" text-anchor="middle" fill="#333">0.6</text>
<line x1="569.6" y1="379.2" x2="569.6" y2="381.6" stroke="#555" stroke-width="0.8"/>
<text x="613.4" y="390.3" font-size="8.8" text-anchor="middle" fill="#333">0.8</text>
<line x1="613.4" y1="379.2" x2="613.4" y2="381.6" stroke="#555" stroke-width="0.8"/>
<text x="656.5" y="390.3" font-size="8.8" text-anchor="middle" fill="#333">1.0</text>
<line x1="656.5" y1="379.2" x2="656.5" y2="381.6" stroke="#555" stroke-width="0.8"/>
<text x="549.5" y="401" font-size="8.75" text-anchor="middle" fill="#222">PTC</text>
<text x="407.4" y="295" font-size="9.2" text-anchor="middle" fill="#222" transform="rotate(-90 407.4 295)">Density</text>
<rect x="439.3" y="214.5" width="17.3" height="8.2" fill="#f0bd6c" stroke="#555" stroke-width="0.6"/>
<rect x="439.3" y="224.3" width="17.3" height="8.2" fill="#a6f0b8" stroke="#555" stroke-width="0.6"/>
<text x="459.3" y="221.3" font-size="7.8" text-anchor="start" fill="#222">Phosphorylation</text>
<text x="459.3" y="231.1" font-size="7.8" text-anchor="start" fill="#222">Acetylation</text>
<path d="M83.80 449.80 L84.40 453.00 L87.80 455.40 L93.40 458.60 L95.80 461.00 L95.80 463.40 L94.60 467.50 L92.60 473.00 L91.00 478.70 L89.80 483.50 L89.00 488.30 L88.60 493.10 L87.80 497.90 L85.80 501.90 L83.80 504.30 L83.80 504.30 L81.80 501.90 L79.80 497.90 L79.00 493.10 L78.60 488.30 L77.80 483.50 L76.60 478.70 L75.00 473.00 L73.00 467.50 L71.80 463.40 L71.80 461.00 L74.20 458.60 L79.80 455.40 L83.20 453.00 L83.80 449.80Z" fill="#d7f5d5" stroke="#222" stroke-width="1.35" stroke-linejoin="round"/>
<path d="M121.40 430.10 L122.40 432.10 L127.80 433.30 L135.50 435.30 L137.80 436.90 L138.10 441.10 L137.40 442.80 L137.90 444.30 L137.40 446.00 L137.90 447.50 L138.10 452.00 L134.20 455.20 L127.80 457.80 L122.40 459.70 L121.40 461.90 L121.40 461.90 L120.40 459.70 L115.00 457.80 L108.60 455.20 L104.70 452.00 L104.90 447.50 L105.40 446.00 L104.90 444.30 L105.40 442.80 L104.70 441.10 L105.00 436.90 L107.30 435.30 L115.00 433.30 L120.40 432.10 L121.40 430.10Z" fill="#f3c6ca" stroke="#222" stroke-width="1.35" stroke-linejoin="round"/>
<path d="M162.50 388.40 L164.80 391.10 L166.30 394.90 L166.90 400.30 L166.30 407.90 L166.70 415.50 L166.70 423.20 L165.20 429.30 L162.50 433.90 L159.80 436.90 L159.00 438.40 L158.70 441.90 L158.70 441.90 L158.40 438.40 L157.60 436.90 L154.90 433.90 L152.20 429.30 L150.70 423.20 L150.70 415.50 L151.10 407.90 L150.50 400.30 L151.10 394.90 L152.60 391.10 L154.90 388.40Z" fill="#8fbdf3" stroke="#222" stroke-width="1.35" stroke-linejoin="round"/>
<path d="M209.00 448.70 L209.90 453.00 L216.80 456.50 L220.30 460.80 L219.80 464.20 L218.10 470.30 L216.40 479.00 L214.60 487.60 L212.90 496.30 L210.70 502.30 L209.00 504.90 L209.00 504.90 L207.30 502.30 L205.10 496.30 L203.40 487.60 L201.60 479.00 L199.90 470.30 L198.20 464.20 L197.70 460.80 L201.20 456.50 L208.10 453.00 L209.00 448.70Z" fill="#d7f5d5" stroke="#222" stroke-width="1.35" stroke-linejoin="round"/>
<path d="M246.30 430.30 L248.10 432.60 L253.30 433.80 L259.10 435.50 L260.30 438.40 L262.30 442.50 L263.50 446.60 L261.50 450.10 L258.00 454.20 L252.10 457.70 L247.50 459.50 L246.30 461.80 L246.30 461.80 L245.10 459.50 L240.50 457.70 L234.60 454.20 L231.10 450.10 L229.10 446.60 L230.30 442.50 L232.30 438.40 L233.50 435.50 L239.30 433.80 L244.50 432.60 L246.30 430.30Z" fill="#f3c6ca" stroke="#222" stroke-width="1.35" stroke-linejoin="round"/>
<path d="M287.10 388.40 L289.80 392.60 L292.10 398.00 L292.90 402.60 L291.30 407.90 L291.00 415.50 L291.00 423.20 L290.20 429.30 L287.50 433.90 L284.80 436.90 L284.00 438.40 L283.70 441.90 L283.70 441.90 L283.40 438.40 L282.60 436.90 L279.90 433.90 L277.20 429.30 L276.40 423.20 L276.40 415.50 L276.10 407.90 L274.50 402.60 L275.30 398.00 L277.60 392.60 L280.30 388.40Z" fill="#8fbdf3" stroke="#222" stroke-width="1.35" stroke-linejoin="round"/>
<line x1="83.90" y1="457.8" x2="83.90" y2="502.7" stroke="#333" stroke-width="1.1"/>
<rect x="80.3" y="464.6" width="7.2" height="20.5" fill="#40ad3a" stroke="#333" stroke-width="1.3"/>
<line x1="80.3" y1="473.2" x2="87.5" y2="473.2" stroke="#333" stroke-width="2.4"/>
<line x1="121.45" y1="435.0" x2="121.45" y2="457.1" stroke="#333" stroke-width="1.1"/>
<rect x="117.2" y="440.3" width="8.5" height="11.0" fill="#f59ca0" stroke="#333" stroke-width="1.3"/>
<line x1="117.2" y1="445.9" x2="125.7" y2="445.9" stroke="#333" stroke-width="2.4"/>
<line x1="158.55" y1="388.8" x2="158.55" y2="434.6" stroke="#333" stroke-width="1.1"/>
<rect x="154.5" y="401.3" width="8.1" height="21.9" fill="#5b9cf0" stroke="#333" stroke-width="1.3"/>
<line x1="154.5" y1="412.3" x2="162.6" y2="412.3" stroke="#333" stroke-width="2.4"/>
<line x1="209.05" y1="457.3" x2="209.05" y2="502.3" stroke="#333" stroke-width="1.1"/>
<rect x="205.4" y="464.5" width="7.3" height="20.3" fill="#40ad3a" stroke="#333" stroke-width="1.3"/>
<line x1="205.4" y1="472.9" x2="212.7" y2="472.9" stroke="#333" stroke-width="2.4"/>
<line x1="246.35" y1="434.9" x2="246.35" y2="457.4" stroke="#333" stroke-width="1.1"/>
<rect x="242.2" y="440.3" width="8.3" height="11.0" fill="#f59ca0" stroke="#333" stroke-width="1.3"/>
<line x1="242.2" y1="445.7" x2="250.5" y2="445.7" stroke="#333" stroke-width="2.4"/>
<line x1="283.70" y1="388.4" x2="283.70" y2="433.9" stroke="#333" stroke-width="1.1"/>
<rect x="279.7" y="400.9" width="8.0" height="21.5" fill="#5b9cf0" stroke="#333" stroke-width="1.3"/>
<line x1="279.7" y1="411.0" x2="287.7" y2="411.0" stroke="#333" stroke-width="2.4"/>
<rect x="61.6" y="382.7" width="120.3" height="127.5" fill="none" stroke="#222" stroke-width="1.2"/>
<line x1="83.8" y1="510.3" x2="83.8" y2="513" stroke="#222" stroke-width="1"/>
<text x="83.8" y="521.2" font-size="8.7" text-anchor="middle" fill="#222">TD</text>
<line x1="121.3" y1="510.3" x2="121.3" y2="513" stroke="#222" stroke-width="1"/>
<text x="121.3" y="521.2" font-size="8.7" text-anchor="middle" fill="#222">BL</text>
<line x1="158.7" y1="510.3" x2="158.7" y2="513" stroke="#222" stroke-width="1"/>
<text x="158.7" y="521.2" font-size="8.7" text-anchor="middle" fill="#222">PD</text>
<rect x="186.1" y="382.7" width="120.3" height="127.5" fill="none" stroke="#222" stroke-width="1.2"/>
<line x1="208.3" y1="510.3" x2="208.3" y2="513" stroke="#222" stroke-width="1"/>
<text x="208.3" y="521.2" font-size="8.7" text-anchor="middle" fill="#222">TD</text>
<line x1="245.8" y1="510.3" x2="245.8" y2="513" stroke="#222" stroke-width="1"/>
<text x="245.8" y="521.2" font-size="8.7" text-anchor="middle" fill="#222">BL</text>
<line x1="283.2" y1="510.3" x2="283.2" y2="513" stroke="#222" stroke-width="1"/>
<text x="283.2" y="521.2" font-size="8.7" text-anchor="middle" fill="#222">PD</text>
<line x1="58.6" y1="503.9" x2="61.6" y2="503.9" stroke="#222" stroke-width="1"/>
<text x="55.8" y="506.5" font-size="7.5" text-anchor="end" fill="#222">0.00</text>
<line x1="58.6" y1="466.0" x2="61.6" y2="466.0" stroke="#222" stroke-width="1"/>
<text x="55.8" y="468.616" font-size="7.5" text-anchor="end" fill="#222">0.33</text>
<line x1="58.6" y1="428.1" x2="61.6" y2="428.1" stroke="#222" stroke-width="1"/>
<text x="55.8" y="430.73199999999997" font-size="7.5" text-anchor="end" fill="#222">0.66</text>
<line x1="58.6" y1="389.1" x2="61.6" y2="389.1" stroke="#222" stroke-width="1"/>
<text x="55.8" y="391.7" font-size="7.5" text-anchor="end" fill="#222">1.00</text>
<text x="121.6" y="378.2" font-size="8.8" text-anchor="middle" fill="#222">Phosphorylation</text>
<text x="246.4" y="378.0" font-size="8.8" text-anchor="middle" fill="#222">Acetylation</text>
<text x="29.2" y="447.9" font-size="9" text-anchor="middle" fill="#222" transform="rotate(-90 29.2 447.9)">PTC</text>
<text x="83.2" y="445.5" font-size="8.8" text-anchor="middle" fill="#222">n=1885</text>
<text x="121.2" y="426.1" font-size="8.8" text-anchor="middle" fill="#222">n=3208</text>
<text x="160.9" y="454.4" font-size="8.8" text-anchor="middle" fill="#222">n=1568</text>
<text x="208.8" y="443.2" font-size="8.8" text-anchor="middle" fill="#222">n=1211</text>
<text x="245.6" y="425.3" font-size="8.8" text-anchor="middle" fill="#222">n=1210</text>
<text x="285.6" y="455.6" font-size="8.8" text-anchor="middle" fill="#222">n=2962</text>
<rect x="52.30" y="611.9" width="5.7" height="57.6" fill="#619bf0" stroke="#333" stroke-width="0.6"/>
<rect x="52.30" y="669.5" width="5.7" height="28.0" fill="#ee969b" stroke="#333" stroke-width="0.6"/>
<rect x="52.30" y="697.5" width="5.7" height="32.9" fill="#4cae3c" stroke="#333" stroke-width="0.6"/>
<text x="57.949999999999996" y="735.5" font-size="8.0" text-anchor="end" fill="#222" transform="rotate(-90 57.949999999999996 735.5)">ALL</text>
<rect x="63.25" y="611.9" width="5.7" height="55.5" fill="#619bf0" stroke="#333" stroke-width="0.6"/>
<rect x="63.25" y="667.4" width="5.7" height="29.2" fill="#ee969b" stroke="#333" stroke-width="0.6"/>
<rect x="63.25" y="696.5" width="5.7" height="33.9" fill="#4cae3c" stroke="#333" stroke-width="0.6"/>
<text x="68.89999999999999" y="735.5" font-size="8.0" text-anchor="end" fill="#222" transform="rotate(-90 68.89999999999999 735.5)">ALL−TF</text>
<rect x="74.20" y="611.9" width="5.7" height="58.7" fill="#619bf0" stroke="#333" stroke-width="0.6"/>
<rect x="74.20" y="670.6" width="5.7" height="23.7" fill="#ee969b" stroke="#333" stroke-width="0.6"/>
<rect x="74.20" y="694.3" width="5.7" height="36.1" fill="#4cae3c" stroke="#333" stroke-width="0.6"/>
<text x="79.84999999999998" y="735.5" font-size="8.0" text-anchor="end" fill="#222" transform="rotate(-90 79.84999999999998 735.5)">bHLH</text>
<rect x="85.15" y="611.9" width="5.7" height="52.5" fill="#619bf0" stroke="#333" stroke-width="0.6"/>
<rect x="85.15" y="664.4" width="5.7" height="43.5" fill="#ee969b" stroke="#333" stroke-width="0.6"/>
<rect x="85.15" y="707.9" width="5.7" height="22.5" fill="#4cae3c" stroke="#333" stroke-width="0.6"/>
<text x="90.79999999999998" y="735.5" font-size="8.0" text-anchor="end" fill="#222" transform="rotate(-90 90.79999999999998 735.5)">bZIP</text>
<rect x="96.10" y="611.9" width="5.7" height="54.5" fill="#619bf0" stroke="#333" stroke-width="0.6"/>
<rect x="96.10" y="666.4" width="5.7" height="32.1" fill="#ee969b" stroke="#333" stroke-width="0.6"/>
<rect x="96.10" y="698.5" width="5.7" height="31.9" fill="#4cae3c" stroke="#333" stroke-width="0.6"/>
<text x="101.74999999999999" y="735.5" font-size="8.0" text-anchor="end" fill="#222" transform="rotate(-90 101.74999999999999 735.5)">C2H2</text>
<rect x="107.05" y="611.9" width="5.7" height="47.4" fill="#619bf0" stroke="#333" stroke-width="0.6"/>
<rect x="107.05" y="659.3" width="5.7" height="33.3" fill="#ee969b" stroke="#333" stroke-width="0.6"/>
<rect x="107.05" y="692.6" width="5.7" height="37.8" fill="#4cae3c" stroke="#333" stroke-width="0.6"/>
<text x="112.69999999999999" y="735.5" font-size="8.0" text-anchor="end" fill="#222" transform="rotate(-90 112.69999999999999 735.5)">C3H</text>
<rect x="118.00" y="611.9" width="5.7" height="73.4" fill="#619bf0" stroke="#333" stroke-width="0.6"/>
<rect x="118.00" y="685.3" width="5.7" height="22.4" fill="#ee969b" stroke="#333" stroke-width="0.6"/>
<rect x="118.00" y="707.6" width="5.7" height="22.8" fill="#4cae3c" stroke="#333" stroke-width="0.6"/>
<text x="123.64999999999998" y="735.5" font-size="8.0" text-anchor="end" fill="#222" transform="rotate(-90 123.64999999999998 735.5)">ERF</text>
<rect x="128.95" y="611.9" width="5.7" height="75.6" fill="#619bf0" stroke="#333" stroke-width="0.6"/>
<rect x="128.95" y="687.5" width="5.7" height="23.5" fill="#ee969b" stroke="#333" stroke-width="0.6"/>
<rect x="128.95" y="711.0" width="5.7" height="19.4" fill="#4cae3c" stroke="#333" stroke-width="0.6"/>
<text x="134.6" y="735.5" font-size="8.0" text-anchor="end" fill="#222" transform="rotate(-90 134.6 735.5)">FAR1</text>
<rect x="139.90" y="611.9" width="5.7" height="53.4" fill="#619bf0" stroke="#333" stroke-width="0.6"/>
<rect x="139.90" y="665.3" width="5.7" height="35.9" fill="#ee969b" stroke="#333" stroke-width="0.6"/>
<rect x="139.90" y="701.2" width="5.7" height="29.2" fill="#4cae3c" stroke="#333" stroke-width="0.6"/>
<text x="145.54999999999998" y="735.5" font-size="8.0" text-anchor="end" fill="#222" transform="rotate(-90 145.54999999999998 735.5)">MYB_related</text>
<rect x="150.85" y="611.9" width="5.7" height="63.3" fill="#619bf0" stroke="#333" stroke-width="0.6"/>
<rect x="150.85" y="675.2" width="5.7" height="30.3" fill="#ee969b" stroke="#333" stroke-width="0.6"/>
<rect x="150.85" y="705.5" width="5.7" height="24.9" fill="#4cae3c" stroke="#333" stroke-width="0.6"/>
<text x="156.5" y="735.5" font-size="8.0" text-anchor="end" fill="#222" transform="rotate(-90 156.5 735.5)">NAC</text>
<rect x="161.80" y="611.9" width="5.7" height="57.9" fill="#619bf0" stroke="#333" stroke-width="0.6"/>
<rect x="161.80" y="669.8" width="5.7" height="34.4" fill="#ee969b" stroke="#333" stroke-width="0.6"/>
<rect x="161.80" y="704.2" width="5.7" height="26.2" fill="#4cae3c" stroke="#333" stroke-width="0.6"/>
<text x="167.45000000000002" y="735.5" font-size="8.0" text-anchor="end" fill="#222" transform="rotate(-90 167.45000000000002 735.5)">Trihelix</text>
<rect x="172.75" y="611.9" width="5.7" height="30.5" fill="#619bf0" stroke="#333" stroke-width="0.6"/>
<rect x="172.75" y="642.4" width="5.7" height="35.0" fill="#ee969b" stroke="#333" stroke-width="0.6"/>
<rect x="172.75" y="677.3" width="5.7" height="53.1" fill="#4cae3c" stroke="#333" stroke-width="0.6"/>
<text x="178.4" y="735.5" font-size="8.0" text-anchor="end" fill="#222" transform="rotate(-90 178.4 735.5)">WRKY</text>
<rect x="189.20" y="611.9" width="5.7" height="65.8" fill="#619bf0" stroke="#333" stroke-width="0.6"/>
<rect x="189.20" y="677.7" width="5.7" height="26.5" fill="#ee969b" stroke="#333" stroke-width="0.6"/>
<rect x="189.20" y="704.2" width="5.7" height="26.2" fill="#4cae3c" stroke="#333" stroke-width="0.6"/>
<text x="194.85" y="735.5" font-size="8.0" text-anchor="end" fill="#222" transform="rotate(-90 194.85 735.5)">ALL</text>
<rect x="200.20" y="611.9" width="5.7" height="67.4" fill="#619bf0" stroke="#333" stroke-width="0.6"/>
<rect x="200.20" y="679.3" width="5.7" height="27.0" fill="#ee969b" stroke="#333" stroke-width="0.6"/>
<rect x="200.20" y="706.3" width="5.7" height="24.1" fill="#4cae3c" stroke="#333" stroke-width="0.6"/>
<text x="205.85" y="735.5" font-size="8.0" text-anchor="end" fill="#222" transform="rotate(-90 205.85 735.5)">ALL−TF</text>
<rect x="211.20" y="611.9" width="5.7" height="65.4" fill="#619bf0" stroke="#333" stroke-width="0.6"/>
<rect x="211.20" y="677.3" width="5.7" height="33.7" fill="#ee969b" stroke="#333" stroke-width="0.6"/>
<rect x="211.20" y="711.0" width="5.7" height="19.4" fill="#4cae3c" stroke="#333" stroke-width="0.6"/>
<text x="216.85" y="735.5" font-size="8.0" text-anchor="end" fill="#222" transform="rotate(-90 216.85 735.5)">bHLH</text>
<rect x="222.20" y="611.9" width="5.7" height="65.8" fill="#619bf0" stroke="#333" stroke-width="0.6"/>
<rect x="222.20" y="677.7" width="5.7" height="24.9" fill="#ee969b" stroke="#333" stroke-width="0.6"/>
<rect x="222.20" y="702.6" width="5.7" height="27.8" fill="#4cae3c" stroke="#333" stroke-width="0.6"/>
<text x="227.85" y="735.5" font-size="8.0" text-anchor="end" fill="#222" transform="rotate(-90 227.85 735.5)">bZIP</text>
<rect x="233.20" y="611.9" width="5.7" height="66.2" fill="#619bf0" stroke="#333" stroke-width="0.6"/>
<rect x="233.20" y="678.1" width="5.7" height="30.6" fill="#ee969b" stroke="#333" stroke-width="0.6"/>
<rect x="233.20" y="708.7" width="5.7" height="21.7" fill="#4cae3c" stroke="#333" stroke-width="0.6"/>
<text x="238.85" y="735.5" font-size="8.0" text-anchor="end" fill="#222" transform="rotate(-90 238.85 735.5)">C2H2</text>
<rect x="244.20" y="611.9" width="5.7" height="76.6" fill="#619bf0" stroke="#333" stroke-width="0.6"/>
<rect x="244.20" y="688.5" width="5.7" height="17.1" fill="#ee969b" stroke="#333" stroke-width="0.6"/>
<rect x="244.20" y="705.5" width="5.7" height="24.9" fill="#4cae3c" stroke="#333" stroke-width="0.6"/>
<text x="249.85" y="735.5" font-size="8.0" text-anchor="end" fill="#222" transform="rotate(-90 249.85 735.5)">C3H</text>
<rect x="255.20" y="611.9" width="5.7" height="65.4" fill="#619bf0" stroke="#333" stroke-width="0.6"/>
<rect x="255.20" y="677.3" width="5.7" height="38.2" fill="#ee969b" stroke="#333" stroke-width="0.6"/>
<rect x="255.20" y="715.5" width="5.7" height="14.9" fill="#4cae3c" stroke="#333" stroke-width="0.6"/>
<text x="260.85" y="735.5" font-size="8.0" text-anchor="end" fill="#222" transform="rotate(-90 260.85 735.5)">ERF</text>
<rect x="266.20" y="611.9" width="5.7" height="76.4" fill="#619bf0" stroke="#333" stroke-width="0.6"/>
<rect x="266.20" y="688.3" width="5.7" height="23.2" fill="#ee969b" stroke="#333" stroke-width="0.6"/>
<rect x="266.20" y="711.6" width="5.7" height="18.8" fill="#4cae3c" stroke="#333" stroke-width="0.6"/>
<text x="271.85" y="735.5" font-size="8.0" text-anchor="end" fill="#222" transform="rotate(-90 271.85 735.5)">FAR1</text>
<rect x="277.20" y="611.9" width="5.7" height="61.7" fill="#619bf0" stroke="#333" stroke-width="0.6"/>
<rect x="277.20" y="673.6" width="5.7" height="30.0" fill="#ee969b" stroke="#333" stroke-width="0.6"/>
<rect x="277.20" y="703.6" width="5.7" height="26.8" fill="#4cae3c" stroke="#333" stroke-width="0.6"/>
<text x="282.85" y="735.5" font-size="8.0" text-anchor="end" fill="#222" transform="rotate(-90 282.85 735.5)">MYB_related</text>
<rect x="288.20" y="611.9" width="5.7" height="60.7" fill="#619bf0" stroke="#333" stroke-width="0.6"/>
<rect x="288.20" y="672.6" width="5.7" height="36.1" fill="#ee969b" stroke="#333" stroke-width="0.6"/>
<rect x="288.20" y="708.7" width="5.7" height="21.7" fill="#4cae3c" stroke="#333" stroke-width="0.6"/>
<text x="293.85" y="735.5" font-size="8.0" text-anchor="end" fill="#222" transform="rotate(-90 293.85 735.5)">NAC</text>
<rect x="299.20" y="611.9" width="5.7" height="74.3" fill="#619bf0" stroke="#333" stroke-width="0.6"/>
<rect x="299.20" y="686.2" width="5.7" height="10.0" fill="#ee969b" stroke="#333" stroke-width="0.6"/>
<rect x="299.20" y="696.2" width="5.7" height="34.2" fill="#4cae3c" stroke="#333" stroke-width="0.6"/>
<text x="304.85" y="735.5" font-size="8.0" text-anchor="end" fill="#222" transform="rotate(-90 304.85 735.5)">Trihelix</text>
<rect x="310.20" y="611.9" width="5.7" height="51.0" fill="#619bf0" stroke="#333" stroke-width="0.6"/>
<rect x="310.20" y="662.9" width="5.7" height="34.0" fill="#ee969b" stroke="#333" stroke-width="0.6"/>
<rect x="310.20" y="696.9" width="5.7" height="33.5" fill="#4cae3c" stroke="#333" stroke-width="0.6"/>
<text x="315.85" y="735.5" font-size="8.0" text-anchor="end" fill="#222" transform="rotate(-90 315.85 735.5)">WRKY</text>
<line x1="47.2" y1="606.8" x2="47.2" y2="730.9" stroke="#222" stroke-width="1.1"/>
<line x1="44.2" y1="730.4" x2="47.2" y2="730.4" stroke="#222" stroke-width="1"/>
<text x="42.4" y="733.0" font-size="7.2" text-anchor="end" fill="#222">0</text>
<line x1="44.2" y1="700.8" x2="47.2" y2="700.8" stroke="#222" stroke-width="1"/>
<text x="42.4" y="703.375" font-size="7.2" text-anchor="end" fill="#222">25</text>
<line x1="44.2" y1="671.1" x2="47.2" y2="671.1" stroke="#222" stroke-width="1"/>
<text x="42.4" y="673.75" font-size="7.2" text-anchor="end" fill="#222">50</text>
<line x1="44.2" y1="641.5" x2="47.2" y2="641.5" stroke="#222" stroke-width="1"/>
<text x="42.4" y="644.125" font-size="7.2" text-anchor="end" fill="#222">75</text>
<line x1="44.2" y1="611.9" x2="47.2" y2="611.9" stroke="#222" stroke-width="1"/>
<text x="42.4" y="614.5" font-size="7.2" text-anchor="end" fill="#222">100</text>
<text x="27.2" y="671.6" font-size="9.1" text-anchor="middle" fill="#222" transform="rotate(-90 27.2 671.6)">Percentage (%)</text>
<text x="123.3" y="603.8" font-size="7.9" text-anchor="middle" fill="#222">Phosphorylation</text>
<text x="258.2" y="604.3" font-size="7.9" text-anchor="middle" fill="#222">Acetylation</text>
<rect x="155.3" y="575.7" width="9.6" height="9" fill="#4cae3c"/>
<text x="168.20000000000002" y="582.9" font-size="8.0" text-anchor="start" fill="#222">TD</text>
<rect x="182.9" y="575.7" width="9.6" height="9" fill="#ee969b"/>
<text x="195.8" y="582.9" font-size="8.0" text-anchor="start" fill="#222">BL</text>
<rect x="211.1" y="575.7" width="9.6" height="9" fill="#619bf0"/>
<text x="224.0" y="582.9" font-size="8.0" text-anchor="start" fill="#222">PD</text>
<rect x="563.5" y="447.00" width="57.89" height="6.4" fill="#619bf0" stroke="#333" stroke-width="0.6"/>
<rect x="621.39" y="447.00" width="43.31" height="6.4" fill="#4cae3c" stroke="#333" stroke-width="0.6"/>
<text x="557.8" y="452.7" font-size="9.6" text-anchor="end" fill="#111">Xyloglucan metabolic process</text>
<rect x="563.5" y="458.82" width="66.99" height="6.4" fill="#619bf0" stroke="#333" stroke-width="0.6"/>
<rect x="630.49" y="458.82" width="34.21" height="6.4" fill="#4cae3c" stroke="#333" stroke-width="0.6"/>
<text x="557.8" y="464.52" font-size="9.6" text-anchor="end" fill="#111">Small GTPase mediated signal transduction</text>
<rect x="563.5" y="470.64" width="30.36" height="6.4" fill="#619bf0" stroke="#333" stroke-width="0.6"/>
<rect x="593.86" y="470.64" width="70.84" height="6.4" fill="#4cae3c" stroke="#333" stroke-width="0.6"/>
<text x="557.8" y="476.34" font-size="9.6" text-anchor="end" fill="#111" textLength="221.3" lengthAdjust="spacingAndGlyphs">Proteolysis involved in cellular protein catabolic process</text>
<rect x="563.5" y="482.46" width="25.10" height="6.4" fill="#619bf0" stroke="#333" stroke-width="0.6"/>
<rect x="588.60" y="482.46" width="76.10" height="6.4" fill="#4cae3c" stroke="#333" stroke-width="0.6"/>
<text x="557.8" y="488.15999999999997" font-size="9.6" text-anchor="end" fill="#111">Protein peptidyl-prolyl isomerization</text>
<rect x="563.5" y="494.28" width="40.78" height="6.4" fill="#619bf0" stroke="#333" stroke-width="0.6"/>
<rect x="604.28" y="494.28" width="60.42" height="6.4" fill="#4cae3c" stroke="#333" stroke-width="0.6"/>
<text x="557.8" y="499.97999999999996" font-size="9.6" text-anchor="end" fill="#111">MRNA processing</text>
<rect x="563.5" y="506.10" width="28.94" height="6.4" fill="#619bf0" stroke="#333" stroke-width="0.6"/>
<rect x="592.44" y="506.10" width="72.26" height="6.4" fill="#4cae3c" stroke="#333" stroke-width="0.6"/>
<text x="557.8" y="511.8" font-size="9.6" text-anchor="end" fill="#111">Methionine biosynthetic process</text>
<rect x="563.5" y="517.92" width="17.10" height="6.4" fill="#619bf0" stroke="#333" stroke-width="0.6"/>
<rect x="580.60" y="517.92" width="84.10" height="6.4" fill="#4cae3c" stroke="#333" stroke-width="0.6"/>
<text x="557.8" y="523.62" font-size="9.6" text-anchor="end" fill="#111" textLength="201.2" lengthAdjust="spacingAndGlyphs">Lysine biosynthetic process via diaminopimelate</text>
<rect x="563.5" y="529.74" width="38.86" height="6.4" fill="#619bf0" stroke="#333" stroke-width="0.6"/>
<rect x="602.36" y="529.74" width="62.34" height="6.4" fill="#4cae3c" stroke="#333" stroke-width="0.6"/>
<text x="557.8" y="535.44" font-size="9.6" text-anchor="end" fill="#111">L-phenylalanine catabolic process</text>
<rect x="563.5" y="541.56" width="20.04" height="6.4" fill="#619bf0" stroke="#333" stroke-width="0.6"/>
<rect x="583.54" y="541.56" width="81.16" height="6.4" fill="#4cae3c" stroke="#333" stroke-width="0.6"/>
<text x="557.8" y="547.26" font-size="9.6" text-anchor="end" fill="#111" textLength="201.2" lengthAdjust="spacingAndGlyphs">L-methionine salvage from methylthioadenosine</text>
<rect x="563.5" y="553.38" width="50.90" height="6.4" fill="#619bf0" stroke="#333" stroke-width="0.6"/>
<rect x="614.40" y="553.38" width="50.30" height="6.4" fill="#4cae3c" stroke="#333" stroke-width="0.6"/>
<text x="557.8" y="559.08" font-size="9.6" text-anchor="end" fill="#111">Glutathione biosynthetic process</text>
<rect x="563.5" y="565.20" width="33.60" height="6.4" fill="#619bf0" stroke="#333" stroke-width="0.6"/>
<rect x="597.10" y="565.20" width="67.60" height="6.4" fill="#4cae3c" stroke="#333" stroke-width="0.6"/>
<text x="557.8" y="570.9000000000001" font-size="9.6" text-anchor="end" fill="#111">Glucose metabolic process</text>
<rect x="563.5" y="577.02" width="33.29" height="6.4" fill="#619bf0" stroke="#333" stroke-width="0.6"/>
<rect x="596.79" y="577.02" width="67.91" height="6.4" fill="#4cae3c" stroke="#333" stroke-width="0.6"/>
<text x="557.8" y="582.72" font-size="9.6" text-anchor="end" fill="#111">Gluconeogenesis</text>
<rect x="563.5" y="588.84" width="50.70" height="6.4" fill="#619bf0" stroke="#333" stroke-width="0.6"/>
<rect x="614.20" y="588.84" width="50.50" height="6.4" fill="#4cae3c" stroke="#333" stroke-width="0.6"/>
<text x="557.8" y="594.5400000000001" font-size="9.6" text-anchor="end" fill="#111">Fatty acid metabolic process</text>
<rect x="563.5" y="600.66" width="40.48" height="6.4" fill="#619bf0" stroke="#333" stroke-width="0.6"/>
<rect x="603.98" y="600.66" width="60.72" height="6.4" fill="#4cae3c" stroke="#333" stroke-width="0.6"/>
<text x="557.8" y="606.36" font-size="9.6" text-anchor="end" fill="#111">D-ribose metabolic process</text>
<rect x="563.5" y="612.48" width="57.89" height="6.4" fill="#619bf0" stroke="#333" stroke-width="0.6"/>
<rect x="621.39" y="612.48" width="43.31" height="6.4" fill="#4cae3c" stroke="#333" stroke-width="0.6"/>
<text x="557.8" y="618.1800000000001" font-size="9.6" text-anchor="end" fill="#111">Cellular glucan metabolic process</text>
<rect x="563.5" y="624.30" width="66.99" height="6.4" fill="#619bf0" stroke="#333" stroke-width="0.6"/>
<rect x="630.49" y="624.30" width="34.21" height="6.4" fill="#4cae3c" stroke="#333" stroke-width="0.6"/>
<text x="557.8" y="630.0" font-size="9.6" text-anchor="end" fill="#111">Cellular amino acid metabolic process</text>
<rect x="563.5" y="636.12" width="40.48" height="6.4" fill="#619bf0" stroke="#333" stroke-width="0.6"/>
<rect x="603.98" y="636.12" width="60.72" height="6.4" fill="#4cae3c" stroke="#333" stroke-width="0.6"/>
<text x="557.8" y="641.82" font-size="9.6" text-anchor="end" fill="#111">Cellular aldehyde metabolic process</text>
<rect x="563.5" y="647.94" width="36.13" height="6.4" fill="#619bf0" stroke="#333" stroke-width="0.6"/>
<rect x="599.63" y="647.94" width="65.07" height="6.4" fill="#4cae3c" stroke="#333" stroke-width="0.6"/>
<text x="557.8" y="653.6400000000001" font-size="9.6" text-anchor="end" fill="#111">Cell wall biogenesis</text>
<rect x="563.5" y="659.76" width="22.16" height="6.4" fill="#619bf0" stroke="#333" stroke-width="0.6"/>
<rect x="585.66" y="659.76" width="79.04" height="6.4" fill="#4cae3c" stroke="#333" stroke-width="0.6"/>
<text x="557.8" y="665.46" font-size="9.6" text-anchor="end" fill="#111">Carbohydrate phosphorylation</text>
<rect x="563.5" y="671.58" width="30.36" height="6.4" fill="#619bf0" stroke="#333" stroke-width="0.6"/>
<rect x="593.86" y="671.58" width="70.84" height="6.4" fill="#4cae3c" stroke="#333" stroke-width="0.6"/>
<text x="557.8" y="677.2800000000001" font-size="9.6" text-anchor="end" fill="#111" textLength="191.8" lengthAdjust="spacingAndGlyphs">Aromatic amino acid family biosynthetic process</text>
<rect x="563.5" y="683.40" width="33.29" height="6.4" fill="#619bf0" stroke="#333" stroke-width="0.6"/>
<rect x="596.79" y="683.40" width="67.91" height="6.4" fill="#4cae3c" stroke="#333" stroke-width="0.6"/>
<text x="557.8" y="689.1" font-size="9.6" text-anchor="end" fill="#111">Regulation of ARF protein signal transduction</text>
<rect x="563.5" y="695.22" width="23.17" height="6.4" fill="#619bf0" stroke="#333" stroke-width="0.6"/>
<rect x="586.67" y="695.22" width="78.03" height="6.4" fill="#4cae3c" stroke="#333" stroke-width="0.6"/>
<text x="557.8" y="700.9200000000001" font-size="9.6" text-anchor="end" fill="#111">Protein transport</text>
<rect x="563.5" y="707.04" width="37.95" height="6.4" fill="#619bf0" stroke="#333" stroke-width="0.6"/>
<rect x="601.45" y="707.04" width="63.25" height="6.4" fill="#4cae3c" stroke="#333" stroke-width="0.6"/>
<text x="557.8" y="712.74" font-size="9.6" text-anchor="end" fill="#111">Intracellular signal transduction</text>
<rect x="563.5" y="718.86" width="25.10" height="6.4" fill="#619bf0" stroke="#333" stroke-width="0.6"/>
<rect x="588.60" y="718.86" width="76.10" height="6.4" fill="#4cae3c" stroke="#333" stroke-width="0.6"/>
<text x="557.8" y="724.5600000000001" font-size="9.6" text-anchor="end" fill="#111">Inositol trisphosphate metabolic process</text>
<rect x="563.5" y="730.68" width="43.11" height="6.4" fill="#619bf0" stroke="#333" stroke-width="0.6"/>
<rect x="606.61" y="730.68" width="58.09" height="6.4" fill="#4cae3c" stroke="#333" stroke-width="0.6"/>
<text x="557.8" y="736.3800000000001" font-size="9.6" text-anchor="end" fill="#111">Cellular protein modification process</text>
<rect x="563.5" y="742.50" width="50.70" height="6.4" fill="#619bf0" stroke="#333" stroke-width="0.6"/>
<rect x="614.20" y="742.50" width="50.50" height="6.4" fill="#4cae3c" stroke="#333" stroke-width="0.6"/>
<text x="557.8" y="748.2" font-size="9.6" text-anchor="end" fill="#111">Cellular metabolic process</text>
<rect x="563.5" y="754.32" width="54.14" height="6.4" fill="#619bf0" stroke="#333" stroke-width="0.6"/>
<rect x="617.64" y="754.32" width="47.06" height="6.4" fill="#4cae3c" stroke="#333" stroke-width="0.6"/>
<text x="557.8" y="760.02" font-size="9.6" text-anchor="end" fill="#111">(1-&gt;3)-beta-D-glucan biosynthetic process</text>
<line x1="563.3" y1="680.3" x2="685" y2="680.3" stroke="#333" stroke-width="1" stroke-dasharray="2.3 3.15"/>
<line x1="563.5" y1="760.7" x2="563.5" y2="763" stroke="#333" stroke-width="0.8"/>
<text x="563.5" y="772.9" font-size="7.4" text-anchor="middle" fill="#222">0</text>
<line x1="583.7" y1="760.7" x2="583.7" y2="763" stroke="#333" stroke-width="0.8"/>
<text x="583.74" y="772.9" font-size="7.4" text-anchor="middle" fill="#222">20</text>
<line x1="604.0" y1="760.7" x2="604.0" y2="763" stroke="#333" stroke-width="0.8"/>
<text x="603.98" y="772.9" font-size="7.4" text-anchor="middle" fill="#222">40</text>
<line x1="624.2" y1="760.7" x2="624.2" y2="763" stroke="#333" stroke-width="0.8"/>
<text x="624.22" y="772.9" font-size="7.4" text-anchor="middle" fill="#222">60</text>
<line x1="644.5" y1="760.7" x2="644.5" y2="763" stroke="#333" stroke-width="0.8"/>
<text x="644.46" y="772.9" font-size="7.4" text-anchor="middle" fill="#222">80</text>
<line x1="664.7" y1="760.7" x2="664.7" y2="763" stroke="#333" stroke-width="0.8"/>
<text x="664.7" y="772.9" font-size="7.4" text-anchor="middle" fill="#222">100</text>
<text x="616.7" y="782" font-size="8.1" text-anchor="middle" fill="#222">Percentage (%)</text>
<text x="670.7" y="558.9" font-size="9.1" text-anchor="middle" fill="#222" transform="rotate(90 670.7 558.9)">Acetylation</text>
<text x="670.7" y="726.0" font-size="9.1" text-anchor="middle" fill="#222" transform="rotate(90 670.7 726.0)">Phosphorylation</text>
<rect x="514.6" y="429.8" width="17.1" height="8" fill="#619bf0"/>
<rect x="557.2" y="429.8" width="17.5" height="8" fill="#4cae3c"/>
<text x="534.6" y="436.2" font-size="8.0" text-anchor="start" fill="#222">PD</text>
<text x="577.4" y="436.2" font-size="8.0" text-anchor="start" fill="#222">TD</text>
</svg></body></html>
